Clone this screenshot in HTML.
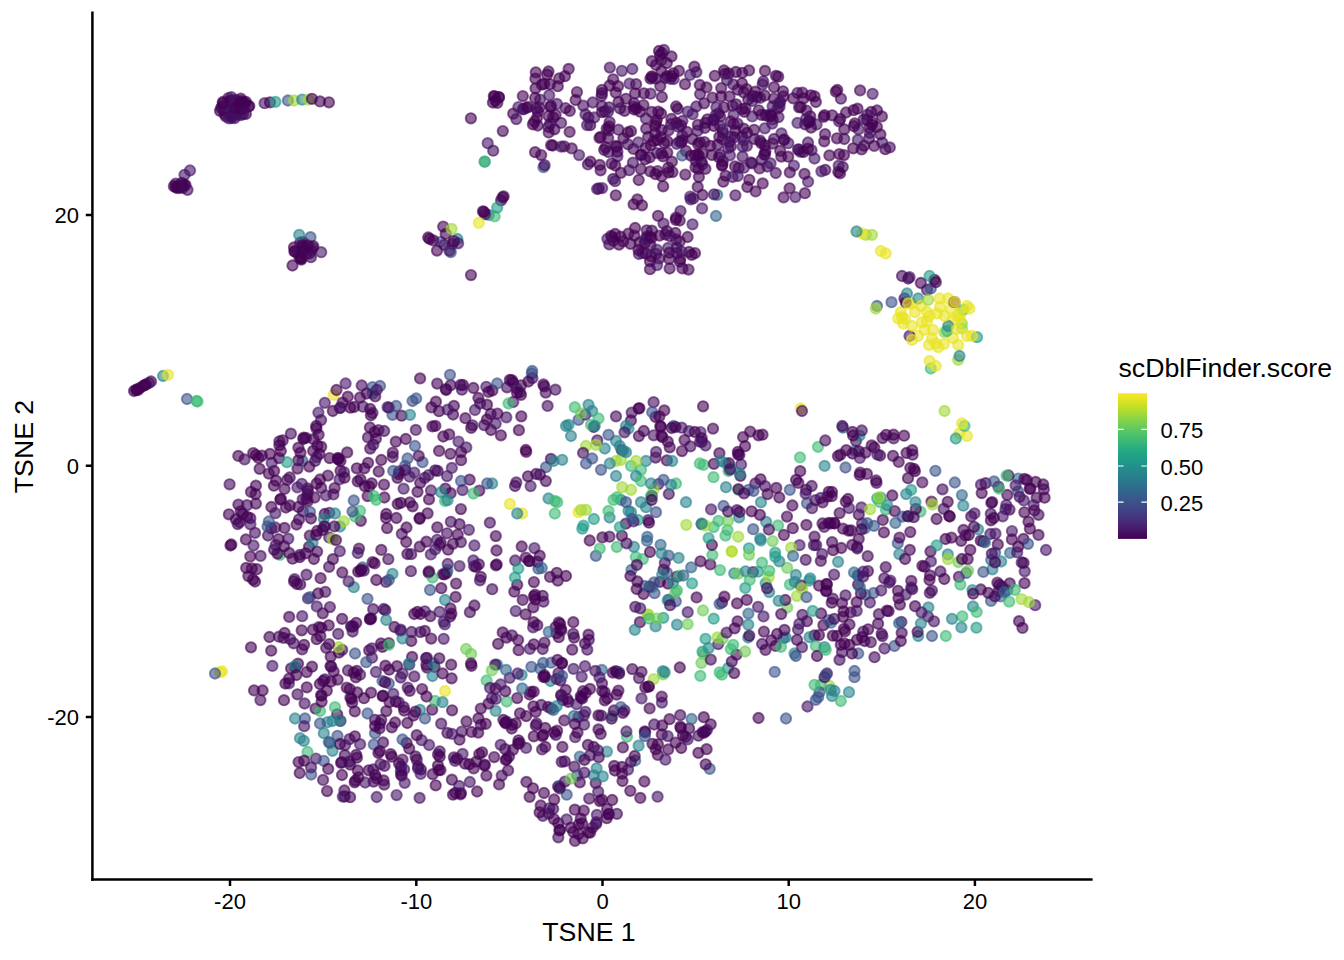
<!DOCTYPE html>
<html><head><meta charset="utf-8"><title>TSNE scDblFinder.score</title>
<style>html,body{margin:0;padding:0;background:#fff;} svg{display:block;}</style></head>
<body>
<svg width="1344" height="960" viewBox="0 0 1344 960">
<defs><linearGradient id="vg" x1="0" y1="0" x2="0" y2="1"><stop offset="0.000" stop-color="#FDE725"/><stop offset="0.100" stop-color="#BDDF26"/><stop offset="0.200" stop-color="#7AD151"/><stop offset="0.300" stop-color="#44BF70"/><stop offset="0.400" stop-color="#22A884"/><stop offset="0.500" stop-color="#21918C"/><stop offset="0.600" stop-color="#2A788E"/><stop offset="0.700" stop-color="#355F8D"/><stop offset="0.800" stop-color="#414487"/><stop offset="0.900" stop-color="#482475"/><stop offset="1.000" stop-color="#440154"/></linearGradient></defs>
<rect width="1344" height="960" fill="#ffffff"/>
<g fill-opacity="0.6" stroke-opacity="0.6" stroke-width="1.89">
<circle cx="305.6" cy="553.3" r="5.2" fill="#440154" stroke="#440154"/>
<circle cx="545.3" cy="746.9" r="5.2" fill="#440154" stroke="#440154"/>
<circle cx="673.7" cy="79.0" r="5.2" fill="#461668" stroke="#461668"/>
<circle cx="600.7" cy="733.9" r="5.2" fill="#440154" stroke="#440154"/>
<circle cx="635.2" cy="760.5" r="5.2" fill="#32668d" stroke="#32668d"/>
<circle cx="765.0" cy="70.9" r="5.2" fill="#440154" stroke="#440154"/>
<circle cx="700.5" cy="432.1" r="5.2" fill="#461668" stroke="#461668"/>
<circle cx="522.7" cy="599.9" r="5.2" fill="#440154" stroke="#440154"/>
<circle cx="372.5" cy="387.2" r="5.2" fill="#3b528a" stroke="#3b528a"/>
<circle cx="292.6" cy="558.7" r="5.2" fill="#440154" stroke="#440154"/>
<circle cx="962.0" cy="328.5" r="5.2" fill="#a2d937" stroke="#a2d937"/>
<circle cx="622.2" cy="773.7" r="5.2" fill="#440154" stroke="#440154"/>
<circle cx="474.4" cy="605.5" r="5.2" fill="#440154" stroke="#440154"/>
<circle cx="778.5" cy="117.1" r="5.2" fill="#450c5e" stroke="#450c5e"/>
<circle cx="985.6" cy="483.2" r="5.2" fill="#440154" stroke="#440154"/>
<circle cx="392.8" cy="452.6" r="5.2" fill="#440154" stroke="#440154"/>
<circle cx="284.5" cy="488.9" r="5.2" fill="#440154" stroke="#440154"/>
<circle cx="645.9" cy="118.6" r="5.2" fill="#461668" stroke="#461668"/>
<circle cx="606.9" cy="751.6" r="5.2" fill="#26848d" stroke="#26848d"/>
<circle cx="561.2" cy="694.9" r="5.2" fill="#440154" stroke="#440154"/>
<circle cx="548.4" cy="127.0" r="5.2" fill="#440154" stroke="#440154"/>
<circle cx="806.9" cy="621.2" r="5.2" fill="#440154" stroke="#440154"/>
<circle cx="601.8" cy="669.9" r="5.2" fill="#32668d" stroke="#32668d"/>
<circle cx="439.0" cy="411.2" r="5.2" fill="#440154" stroke="#440154"/>
<circle cx="652.5" cy="743.8" r="5.2" fill="#440154" stroke="#440154"/>
<circle cx="384.5" cy="765.9" r="5.2" fill="#440154" stroke="#440154"/>
<circle cx="312.0" cy="666.7" r="5.2" fill="#440154" stroke="#440154"/>
<circle cx="1023.8" cy="500.4" r="5.2" fill="#461668" stroke="#461668"/>
<circle cx="656.8" cy="120.0" r="5.2" fill="#440154" stroke="#440154"/>
<circle cx="593.8" cy="747.0" r="5.2" fill="#440154" stroke="#440154"/>
<circle cx="450.6" cy="493.2" r="5.2" fill="#440154" stroke="#440154"/>
<circle cx="924.6" cy="566.7" r="5.2" fill="#440154" stroke="#440154"/>
<circle cx="325.0" cy="526.5" r="5.2" fill="#26848d" stroke="#26848d"/>
<circle cx="407.4" cy="554.0" r="5.2" fill="#440154" stroke="#440154"/>
<circle cx="953.0" cy="338.0" r="5.2" fill="#eae525" stroke="#eae525"/>
<circle cx="760.8" cy="540.4" r="5.2" fill="#26848d" stroke="#26848d"/>
<circle cx="409.3" cy="664.6" r="5.2" fill="#461668" stroke="#461668"/>
<circle cx="375.0" cy="733.2" r="5.2" fill="#3b528a" stroke="#3b528a"/>
<circle cx="760.5" cy="479.3" r="5.2" fill="#440154" stroke="#440154"/>
<circle cx="831.0" cy="622.7" r="5.2" fill="#32668d" stroke="#32668d"/>
<circle cx="658.4" cy="484.1" r="5.2" fill="#461668" stroke="#461668"/>
<circle cx="501.1" cy="200.3" r="5.2" fill="#440154" stroke="#440154"/>
<circle cx="488.7" cy="214.9" r="5.2" fill="#32668d" stroke="#32668d"/>
<circle cx="271.4" cy="507.0" r="5.2" fill="#440154" stroke="#440154"/>
<circle cx="753.0" cy="572.1" r="5.2" fill="#440154" stroke="#440154"/>
<circle cx="307.4" cy="494.5" r="5.2" fill="#450c5e" stroke="#450c5e"/>
<circle cx="820.8" cy="560.9" r="5.2" fill="#440154" stroke="#440154"/>
<circle cx="807.0" cy="503.3" r="5.2" fill="#3b528a" stroke="#3b528a"/>
<circle cx="182.6" cy="185.7" r="5.2" fill="#450c5e" stroke="#450c5e"/>
<circle cx="1007.3" cy="590.3" r="5.2" fill="#3b528a" stroke="#3b528a"/>
<circle cx="338.9" cy="652.6" r="5.2" fill="#440154" stroke="#440154"/>
<circle cx="301.3" cy="259.6" r="5.2" fill="#440154" stroke="#440154"/>
<circle cx="390.7" cy="754.2" r="5.2" fill="#440154" stroke="#440154"/>
<circle cx="872.3" cy="122.2" r="5.2" fill="#440154" stroke="#440154"/>
<circle cx="663.3" cy="617.8" r="5.2" fill="#229c88" stroke="#229c88"/>
<circle cx="705.5" cy="638.8" r="5.2" fill="#229c88" stroke="#229c88"/>
<circle cx="540.2" cy="668.7" r="5.2" fill="#32668d" stroke="#32668d"/>
<circle cx="359.0" cy="548.6" r="5.2" fill="#440154" stroke="#440154"/>
<circle cx="409.6" cy="476.7" r="5.2" fill="#461668" stroke="#461668"/>
<circle cx="616.9" cy="671.9" r="5.2" fill="#440154" stroke="#440154"/>
<circle cx="369.9" cy="618.9" r="5.2" fill="#440154" stroke="#440154"/>
<circle cx="231.3" cy="116.5" r="5.2" fill="#440154" stroke="#440154"/>
<circle cx="529.5" cy="561.1" r="5.2" fill="#440154" stroke="#440154"/>
<circle cx="369.3" cy="486.4" r="5.2" fill="#440154" stroke="#440154"/>
<circle cx="247.2" cy="516.8" r="5.2" fill="#440154" stroke="#440154"/>
<circle cx="751.6" cy="511.3" r="5.2" fill="#440154" stroke="#440154"/>
<circle cx="615.7" cy="146.0" r="5.2" fill="#440154" stroke="#440154"/>
<circle cx="443.2" cy="226.6" r="5.2" fill="#440154" stroke="#440154"/>
<circle cx="520.0" cy="713.3" r="5.2" fill="#440154" stroke="#440154"/>
<circle cx="745.5" cy="108.3" r="5.2" fill="#461668" stroke="#461668"/>
<circle cx="665.4" cy="234.5" r="5.2" fill="#450c5e" stroke="#450c5e"/>
<circle cx="962.0" cy="323.5" r="5.2" fill="#a2d937" stroke="#a2d937"/>
<circle cx="837.0" cy="636.0" r="5.2" fill="#440154" stroke="#440154"/>
<circle cx="832.0" cy="696.0" r="5.2" fill="#26848d" stroke="#26848d"/>
<circle cx="478.2" cy="732.6" r="5.2" fill="#440154" stroke="#440154"/>
<circle cx="680.4" cy="726.7" r="5.2" fill="#440154" stroke="#440154"/>
<circle cx="595.3" cy="670.9" r="5.2" fill="#450c5e" stroke="#450c5e"/>
<circle cx="175.7" cy="187.5" r="5.2" fill="#440154" stroke="#440154"/>
<circle cx="615.6" cy="671.1" r="5.2" fill="#440154" stroke="#440154"/>
<circle cx="233.9" cy="101.1" r="5.2" fill="#461668" stroke="#461668"/>
<circle cx="360.8" cy="520.8" r="5.2" fill="#440154" stroke="#440154"/>
<circle cx="837.3" cy="90.0" r="5.2" fill="#440154" stroke="#440154"/>
<circle cx="1007.3" cy="494.9" r="5.2" fill="#440154" stroke="#440154"/>
<circle cx="432.7" cy="774.2" r="5.2" fill="#440154" stroke="#440154"/>
<circle cx="318.4" cy="412.6" r="5.2" fill="#461668" stroke="#461668"/>
<circle cx="897.8" cy="543.2" r="5.2" fill="#3b528a" stroke="#3b528a"/>
<circle cx="912.0" cy="303.5" r="5.2" fill="#eae525" stroke="#eae525"/>
<circle cx="375.9" cy="438.7" r="5.2" fill="#440154" stroke="#440154"/>
<circle cx="184.2" cy="184.6" r="5.2" fill="#440154" stroke="#440154"/>
<circle cx="858.8" cy="514.7" r="5.2" fill="#440154" stroke="#440154"/>
<circle cx="512.9" cy="749.9" r="5.2" fill="#440154" stroke="#440154"/>
<circle cx="826.5" cy="583.9" r="5.2" fill="#440154" stroke="#440154"/>
<circle cx="503.4" cy="719.8" r="5.2" fill="#440154" stroke="#440154"/>
<circle cx="313.2" cy="450.9" r="5.2" fill="#440154" stroke="#440154"/>
<circle cx="882.8" cy="519.9" r="5.2" fill="#440154" stroke="#440154"/>
<circle cx="930.8" cy="368.5" r="5.2" fill="#3dba74" stroke="#3dba74"/>
<circle cx="540.7" cy="805.5" r="5.2" fill="#440154" stroke="#440154"/>
<circle cx="877.0" cy="306.0" r="5.2" fill="#3b528a" stroke="#3b528a"/>
<circle cx="958.4" cy="562.1" r="5.2" fill="#6fcd57" stroke="#6fcd57"/>
<circle cx="761.5" cy="114.8" r="5.2" fill="#440154" stroke="#440154"/>
<circle cx="643.5" cy="105.1" r="5.2" fill="#440154" stroke="#440154"/>
<circle cx="445.0" cy="501.0" r="5.2" fill="#3dba74" stroke="#3dba74"/>
<circle cx="544.5" cy="642.6" r="5.2" fill="#440154" stroke="#440154"/>
<circle cx="434.6" cy="667.0" r="5.2" fill="#440154" stroke="#440154"/>
<circle cx="534.4" cy="548.1" r="5.2" fill="#461668" stroke="#461668"/>
<circle cx="844.5" cy="643.5" r="5.2" fill="#440154" stroke="#440154"/>
<circle cx="697.9" cy="124.8" r="5.2" fill="#440154" stroke="#440154"/>
<circle cx="869.7" cy="132.9" r="5.2" fill="#461668" stroke="#461668"/>
<circle cx="676.8" cy="247.7" r="5.2" fill="#450c5e" stroke="#450c5e"/>
<circle cx="561.1" cy="122.9" r="5.2" fill="#450c5e" stroke="#450c5e"/>
<circle cx="945.8" cy="636.0" r="5.2" fill="#3dba74" stroke="#3dba74"/>
<circle cx="652.3" cy="587.1" r="5.2" fill="#229c88" stroke="#229c88"/>
<circle cx="598.7" cy="757.2" r="5.2" fill="#440154" stroke="#440154"/>
<circle cx="505.7" cy="760.0" r="5.2" fill="#450c5e" stroke="#450c5e"/>
<circle cx="582.7" cy="838.3" r="5.2" fill="#440154" stroke="#440154"/>
<circle cx="857.0" cy="639.8" r="5.2" fill="#440154" stroke="#440154"/>
<circle cx="719.6" cy="672.3" r="5.2" fill="#3dba74" stroke="#3dba74"/>
<circle cx="888.6" cy="611.2" r="5.2" fill="#440154" stroke="#440154"/>
<circle cx="471.0" cy="275.1" r="5.2" fill="#440154" stroke="#440154"/>
<circle cx="992.4" cy="569.3" r="5.2" fill="#26848d" stroke="#26848d"/>
<circle cx="581.3" cy="697.7" r="5.2" fill="#461668" stroke="#461668"/>
<circle cx="324.7" cy="514.0" r="5.2" fill="#440154" stroke="#440154"/>
<circle cx="673.5" cy="426.0" r="5.2" fill="#3b528a" stroke="#3b528a"/>
<circle cx="300.3" cy="242.7" r="5.2" fill="#440154" stroke="#440154"/>
<circle cx="713.7" cy="527.1" r="5.2" fill="#3dba74" stroke="#3dba74"/>
<circle cx="963.3" cy="505.7" r="5.2" fill="#26848d" stroke="#26848d"/>
<circle cx="931.5" cy="501.6" r="5.2" fill="#440154" stroke="#440154"/>
<circle cx="814.5" cy="635.4" r="5.2" fill="#440154" stroke="#440154"/>
<circle cx="638.6" cy="408.7" r="5.2" fill="#440154" stroke="#440154"/>
<circle cx="630.3" cy="790.8" r="5.2" fill="#440154" stroke="#440154"/>
<circle cx="901.7" cy="632.9" r="5.2" fill="#440154" stroke="#440154"/>
<circle cx="355.4" cy="780.6" r="5.2" fill="#440154" stroke="#440154"/>
<circle cx="669.6" cy="268.5" r="5.2" fill="#440154" stroke="#440154"/>
<circle cx="271.3" cy="528.4" r="5.2" fill="#440154" stroke="#440154"/>
<circle cx="1046.0" cy="550.0" r="5.2" fill="#461668" stroke="#461668"/>
<circle cx="515.2" cy="560.5" r="5.2" fill="#450c5e" stroke="#450c5e"/>
<circle cx="315.9" cy="758.6" r="5.2" fill="#461668" stroke="#461668"/>
<circle cx="1000.8" cy="596.4" r="5.2" fill="#32668d" stroke="#32668d"/>
<circle cx="340.5" cy="470.8" r="5.2" fill="#440154" stroke="#440154"/>
<circle cx="355.0" cy="516.5" r="5.2" fill="#3dba74" stroke="#3dba74"/>
<circle cx="280.0" cy="554.8" r="5.2" fill="#3dba74" stroke="#3dba74"/>
<circle cx="585.0" cy="643.5" r="5.2" fill="#440154" stroke="#440154"/>
<circle cx="578.5" cy="834.1" r="5.2" fill="#440154" stroke="#440154"/>
<circle cx="740.4" cy="475.8" r="5.2" fill="#440154" stroke="#440154"/>
<circle cx="356.8" cy="468.3" r="5.2" fill="#440154" stroke="#440154"/>
<circle cx="295.0" cy="251.3" r="5.2" fill="#440154" stroke="#440154"/>
<circle cx="703.5" cy="464.8" r="5.2" fill="#3dba74" stroke="#3dba74"/>
<circle cx="592.7" cy="102.5" r="5.2" fill="#450c5e" stroke="#450c5e"/>
<circle cx="585.5" cy="114.4" r="5.2" fill="#461668" stroke="#461668"/>
<circle cx="748.4" cy="613.6" r="5.2" fill="#32668d" stroke="#32668d"/>
<circle cx="709.7" cy="768.8" r="5.2" fill="#3b528a" stroke="#3b528a"/>
<circle cx="899.3" cy="554.1" r="5.2" fill="#26848d" stroke="#26848d"/>
<circle cx="392.7" cy="457.0" r="5.2" fill="#450c5e" stroke="#450c5e"/>
<circle cx="718.9" cy="157.3" r="5.2" fill="#440154" stroke="#440154"/>
<circle cx="991.3" cy="502.9" r="5.2" fill="#450c5e" stroke="#450c5e"/>
<circle cx="323.1" cy="779.9" r="5.2" fill="#450c5e" stroke="#450c5e"/>
<circle cx="321.2" cy="446.7" r="5.2" fill="#440154" stroke="#440154"/>
<circle cx="235.7" cy="104.8" r="5.2" fill="#440154" stroke="#440154"/>
<circle cx="521.0" cy="385.3" r="5.2" fill="#450c5e" stroke="#450c5e"/>
<circle cx="668.9" cy="599.6" r="5.2" fill="#3b528a" stroke="#3b528a"/>
<circle cx="592.5" cy="827.6" r="5.2" fill="#461668" stroke="#461668"/>
<circle cx="630.4" cy="243.8" r="5.2" fill="#440154" stroke="#440154"/>
<circle cx="621.0" cy="499.8" r="5.2" fill="#26848d" stroke="#26848d"/>
<circle cx="506.3" cy="417.3" r="5.2" fill="#461668" stroke="#461668"/>
<circle cx="583.3" cy="105.6" r="5.2" fill="#450c5e" stroke="#450c5e"/>
<circle cx="780.2" cy="102.1" r="5.2" fill="#440154" stroke="#440154"/>
<circle cx="389.5" cy="702.1" r="5.2" fill="#440154" stroke="#440154"/>
<circle cx="360.1" cy="744.2" r="5.2" fill="#461668" stroke="#461668"/>
<circle cx="703.1" cy="406.3" r="5.2" fill="#440154" stroke="#440154"/>
<circle cx="307.6" cy="501.2" r="5.2" fill="#440154" stroke="#440154"/>
<circle cx="376.3" cy="580.0" r="5.2" fill="#440154" stroke="#440154"/>
<circle cx="944.5" cy="332.2" r="5.2" fill="#a2d937" stroke="#a2d937"/>
<circle cx="682.4" cy="121.0" r="5.2" fill="#450c5e" stroke="#450c5e"/>
<circle cx="1022.5" cy="627.9" r="5.2" fill="#440154" stroke="#440154"/>
<circle cx="738.1" cy="454.3" r="5.2" fill="#440154" stroke="#440154"/>
<circle cx="555.8" cy="734.8" r="5.2" fill="#450c5e" stroke="#450c5e"/>
<circle cx="548.1" cy="706.9" r="5.2" fill="#440154" stroke="#440154"/>
<circle cx="1044.6" cy="497.7" r="5.2" fill="#440154" stroke="#440154"/>
<circle cx="394.5" cy="627.0" r="5.2" fill="#440154" stroke="#440154"/>
<circle cx="450.7" cy="385.2" r="5.2" fill="#440154" stroke="#440154"/>
<circle cx="621.9" cy="535.8" r="5.2" fill="#440154" stroke="#440154"/>
<circle cx="533.9" cy="582.1" r="5.2" fill="#440154" stroke="#440154"/>
<circle cx="583.5" cy="525.6" r="5.2" fill="#229c88" stroke="#229c88"/>
<circle cx="631.5" cy="569.9" r="5.2" fill="#32668d" stroke="#32668d"/>
<circle cx="808.0" cy="142.5" r="5.2" fill="#450c5e" stroke="#450c5e"/>
<circle cx="297.5" cy="468.6" r="5.2" fill="#440154" stroke="#440154"/>
<circle cx="861.6" cy="149.4" r="5.2" fill="#440154" stroke="#440154"/>
<circle cx="495.8" cy="536.1" r="5.2" fill="#440154" stroke="#440154"/>
<circle cx="867.7" cy="556.2" r="5.2" fill="#450c5e" stroke="#450c5e"/>
<circle cx="745.1" cy="446.2" r="5.2" fill="#440154" stroke="#440154"/>
<circle cx="908.2" cy="278.5" r="5.2" fill="#440154" stroke="#440154"/>
<circle cx="704.1" cy="103.3" r="5.2" fill="#440154" stroke="#440154"/>
<circle cx="676.1" cy="239.5" r="5.2" fill="#450c5e" stroke="#450c5e"/>
<circle cx="385.4" cy="665.7" r="5.2" fill="#440154" stroke="#440154"/>
<circle cx="865.3" cy="594.7" r="5.2" fill="#32668d" stroke="#32668d"/>
<circle cx="595.8" cy="555.8" r="5.2" fill="#3b528a" stroke="#3b528a"/>
<circle cx="575.2" cy="737.2" r="5.2" fill="#461668" stroke="#461668"/>
<circle cx="539.7" cy="555.7" r="5.2" fill="#440154" stroke="#440154"/>
<circle cx="676.9" cy="576.7" r="5.2" fill="#440154" stroke="#440154"/>
<circle cx="848.0" cy="499.0" r="5.2" fill="#440154" stroke="#440154"/>
<circle cx="695.0" cy="253.1" r="5.2" fill="#440154" stroke="#440154"/>
<circle cx="543.4" cy="601.7" r="5.2" fill="#450c5e" stroke="#450c5e"/>
<circle cx="734.2" cy="573.3" r="5.2" fill="#26848d" stroke="#26848d"/>
<circle cx="720.0" cy="570.1" r="5.2" fill="#3dba74" stroke="#3dba74"/>
<circle cx="635.8" cy="557.1" r="5.2" fill="#3dba74" stroke="#3dba74"/>
<circle cx="648.2" cy="520.2" r="5.2" fill="#450c5e" stroke="#450c5e"/>
<circle cx="537.7" cy="125.5" r="5.2" fill="#440154" stroke="#440154"/>
<circle cx="735.1" cy="166.4" r="5.2" fill="#440154" stroke="#440154"/>
<circle cx="564.9" cy="76.2" r="5.2" fill="#440154" stroke="#440154"/>
<circle cx="228.4" cy="98.1" r="5.2" fill="#450c5e" stroke="#450c5e"/>
<circle cx="479.3" cy="490.6" r="5.2" fill="#440154" stroke="#440154"/>
<circle cx="643.8" cy="431.0" r="5.2" fill="#440154" stroke="#440154"/>
<circle cx="728.2" cy="147.9" r="5.2" fill="#450c5e" stroke="#450c5e"/>
<circle cx="872.6" cy="93.8" r="5.2" fill="#461668" stroke="#461668"/>
<circle cx="317.2" cy="531.0" r="5.2" fill="#440154" stroke="#440154"/>
<circle cx="224.5" cy="113.9" r="5.2" fill="#450c5e" stroke="#450c5e"/>
<circle cx="338.5" cy="459.3" r="5.2" fill="#440154" stroke="#440154"/>
<circle cx="480.8" cy="576.8" r="5.2" fill="#440154" stroke="#440154"/>
<circle cx="255.9" cy="503.6" r="5.2" fill="#440154" stroke="#440154"/>
<circle cx="566.0" cy="576.0" r="5.2" fill="#440154" stroke="#440154"/>
<circle cx="764.9" cy="145.1" r="5.2" fill="#440154" stroke="#440154"/>
<circle cx="641.5" cy="671.9" r="5.2" fill="#450c5e" stroke="#450c5e"/>
<circle cx="650.3" cy="171.4" r="5.2" fill="#440154" stroke="#440154"/>
<circle cx="855.1" cy="450.6" r="5.2" fill="#26848d" stroke="#26848d"/>
<circle cx="640.3" cy="797.9" r="5.2" fill="#440154" stroke="#440154"/>
<circle cx="586.0" cy="446.0" r="5.2" fill="#a2d937" stroke="#a2d937"/>
<circle cx="340.5" cy="720.8" r="5.2" fill="#450c5e" stroke="#450c5e"/>
<circle cx="302.1" cy="649.4" r="5.2" fill="#440154" stroke="#440154"/>
<circle cx="945.6" cy="539.0" r="5.2" fill="#440154" stroke="#440154"/>
<circle cx="961.2" cy="540.8" r="5.2" fill="#440154" stroke="#440154"/>
<circle cx="967.0" cy="336.0" r="5.2" fill="#eae525" stroke="#eae525"/>
<circle cx="701.5" cy="161.7" r="5.2" fill="#440154" stroke="#440154"/>
<circle cx="316.4" cy="428.3" r="5.2" fill="#440154" stroke="#440154"/>
<circle cx="657.8" cy="754.9" r="5.2" fill="#440154" stroke="#440154"/>
<circle cx="852.4" cy="453.5" r="5.2" fill="#440154" stroke="#440154"/>
<circle cx="857.2" cy="547.0" r="5.2" fill="#461668" stroke="#461668"/>
<circle cx="411.2" cy="554.2" r="5.2" fill="#450c5e" stroke="#450c5e"/>
<circle cx="523.3" cy="109.3" r="5.2" fill="#450c5e" stroke="#450c5e"/>
<circle cx="840.9" cy="98.7" r="5.2" fill="#450c5e" stroke="#450c5e"/>
<circle cx="290.2" cy="639.2" r="5.2" fill="#450c5e" stroke="#450c5e"/>
<circle cx="541.3" cy="705.0" r="5.2" fill="#450c5e" stroke="#450c5e"/>
<circle cx="718.2" cy="644.1" r="5.2" fill="#461668" stroke="#461668"/>
<circle cx="268.0" cy="535.5" r="5.2" fill="#450c5e" stroke="#450c5e"/>
<circle cx="935.4" cy="470.8" r="5.2" fill="#3b528a" stroke="#3b528a"/>
<circle cx="526.1" cy="747.9" r="5.2" fill="#461668" stroke="#461668"/>
<circle cx="832.8" cy="635.7" r="5.2" fill="#440154" stroke="#440154"/>
<circle cx="825.3" cy="169.8" r="5.2" fill="#440154" stroke="#440154"/>
<circle cx="558.5" cy="673.1" r="5.2" fill="#450c5e" stroke="#450c5e"/>
<circle cx="403.8" cy="707.2" r="5.2" fill="#450c5e" stroke="#450c5e"/>
<circle cx="689.0" cy="252.0" r="5.2" fill="#440154" stroke="#440154"/>
<circle cx="406.6" cy="743.0" r="5.2" fill="#440154" stroke="#440154"/>
<circle cx="906.5" cy="453.0" r="5.2" fill="#440154" stroke="#440154"/>
<circle cx="245.9" cy="114.0" r="5.2" fill="#440154" stroke="#440154"/>
<circle cx="647.0" cy="236.7" r="5.2" fill="#440154" stroke="#440154"/>
<circle cx="668.1" cy="247.9" r="5.2" fill="#461668" stroke="#461668"/>
<circle cx="136.0" cy="390.0" r="5.2" fill="#450c5e" stroke="#450c5e"/>
<circle cx="664.3" cy="410.4" r="5.2" fill="#440154" stroke="#440154"/>
<circle cx="823.7" cy="116.9" r="5.2" fill="#440154" stroke="#440154"/>
<circle cx="558.3" cy="823.2" r="5.2" fill="#440154" stroke="#440154"/>
<circle cx="564.7" cy="761.3" r="5.2" fill="#440154" stroke="#440154"/>
<circle cx="431.4" cy="407.4" r="5.2" fill="#440154" stroke="#440154"/>
<circle cx="701.9" cy="441.8" r="5.2" fill="#440154" stroke="#440154"/>
<circle cx="980.8" cy="589.5" r="5.2" fill="#440154" stroke="#440154"/>
<circle cx="655.2" cy="133.7" r="5.2" fill="#440154" stroke="#440154"/>
<circle cx="696.4" cy="72.1" r="5.2" fill="#450c5e" stroke="#450c5e"/>
<circle cx="356.2" cy="754.8" r="5.2" fill="#440154" stroke="#440154"/>
<circle cx="835.8" cy="91.6" r="5.2" fill="#440154" stroke="#440154"/>
<circle cx="617.2" cy="497.2" r="5.2" fill="#3dba74" stroke="#3dba74"/>
<circle cx="748.5" cy="489.8" r="5.2" fill="#3b528a" stroke="#3b528a"/>
<circle cx="653.5" cy="489.8" r="5.2" fill="#a2d937" stroke="#a2d937"/>
<circle cx="445.4" cy="488.7" r="5.2" fill="#440154" stroke="#440154"/>
<circle cx="602.0" cy="112.2" r="5.2" fill="#440154" stroke="#440154"/>
<circle cx="360.1" cy="674.7" r="5.2" fill="#461668" stroke="#461668"/>
<circle cx="371.2" cy="618.3" r="5.2" fill="#440154" stroke="#440154"/>
<circle cx="280.8" cy="451.0" r="5.2" fill="#440154" stroke="#440154"/>
<circle cx="885.7" cy="567.1" r="5.2" fill="#440154" stroke="#440154"/>
<circle cx="676.3" cy="123.0" r="5.2" fill="#440154" stroke="#440154"/>
<circle cx="526.5" cy="107.9" r="5.2" fill="#440154" stroke="#440154"/>
<circle cx="930.5" cy="551.5" r="5.2" fill="#440154" stroke="#440154"/>
<circle cx="631.7" cy="412.6" r="5.2" fill="#450c5e" stroke="#450c5e"/>
<circle cx="858.2" cy="653.5" r="5.2" fill="#3b528a" stroke="#3b528a"/>
<circle cx="899.5" cy="537.6" r="5.2" fill="#440154" stroke="#440154"/>
<circle cx="283.5" cy="637.9" r="5.2" fill="#440154" stroke="#440154"/>
<circle cx="737.5" cy="123.6" r="5.2" fill="#450c5e" stroke="#450c5e"/>
<circle cx="558.8" cy="637.2" r="5.2" fill="#440154" stroke="#440154"/>
<circle cx="806.2" cy="489.8" r="5.2" fill="#440154" stroke="#440154"/>
<circle cx="1011.9" cy="531.1" r="5.2" fill="#461668" stroke="#461668"/>
<circle cx="634.1" cy="106.6" r="5.2" fill="#450c5e" stroke="#450c5e"/>
<circle cx="530.6" cy="486.1" r="5.2" fill="#461668" stroke="#461668"/>
<circle cx="951.5" cy="537.6" r="5.2" fill="#440154" stroke="#440154"/>
<circle cx="770.6" cy="114.5" r="5.2" fill="#440154" stroke="#440154"/>
<circle cx="808.5" cy="122.0" r="5.2" fill="#440154" stroke="#440154"/>
<circle cx="495.4" cy="100.7" r="5.2" fill="#440154" stroke="#440154"/>
<circle cx="860.1" cy="90.4" r="5.2" fill="#440154" stroke="#440154"/>
<circle cx="521.0" cy="394.9" r="5.2" fill="#440154" stroke="#440154"/>
<circle cx="628.4" cy="233.6" r="5.2" fill="#440154" stroke="#440154"/>
<circle cx="938.2" cy="347.2" r="5.2" fill="#eae525" stroke="#eae525"/>
<circle cx="646.2" cy="128.7" r="5.2" fill="#440154" stroke="#440154"/>
<circle cx="647.4" cy="614.6" r="5.2" fill="#a2d937" stroke="#a2d937"/>
<circle cx="1021.5" cy="599.1" r="5.2" fill="#a2d937" stroke="#a2d937"/>
<circle cx="642.4" cy="252.9" r="5.2" fill="#440154" stroke="#440154"/>
<circle cx="932.0" cy="636.0" r="5.2" fill="#3b528a" stroke="#3b528a"/>
<circle cx="798.9" cy="149.3" r="5.2" fill="#440154" stroke="#440154"/>
<circle cx="840.8" cy="701.0" r="5.2" fill="#3dba74" stroke="#3dba74"/>
<circle cx="228.4" cy="110.4" r="5.2" fill="#450c5e" stroke="#450c5e"/>
<circle cx="418.1" cy="768.6" r="5.2" fill="#450c5e" stroke="#450c5e"/>
<circle cx="236.0" cy="100.8" r="5.2" fill="#440154" stroke="#440154"/>
<circle cx="561.7" cy="761.8" r="5.2" fill="#450c5e" stroke="#450c5e"/>
<circle cx="939.5" cy="298.5" r="5.2" fill="#eae525" stroke="#eae525"/>
<circle cx="579.1" cy="155.1" r="5.2" fill="#461668" stroke="#461668"/>
<circle cx="146.0" cy="384.5" r="5.2" fill="#440154" stroke="#440154"/>
<circle cx="738.5" cy="489.8" r="5.2" fill="#3dba74" stroke="#3dba74"/>
<circle cx="961.9" cy="495.1" r="5.2" fill="#32668d" stroke="#32668d"/>
<circle cx="962.3" cy="616.3" r="5.2" fill="#3dba74" stroke="#3dba74"/>
<circle cx="401.8" cy="533.9" r="5.2" fill="#450c5e" stroke="#450c5e"/>
<circle cx="655.1" cy="125.9" r="5.2" fill="#440154" stroke="#440154"/>
<circle cx="843.6" cy="611.3" r="5.2" fill="#440154" stroke="#440154"/>
<circle cx="748.2" cy="637.5" r="5.2" fill="#26848d" stroke="#26848d"/>
<circle cx="1010.1" cy="552.9" r="5.2" fill="#32668d" stroke="#32668d"/>
<circle cx="307.5" cy="488.5" r="5.2" fill="#440154" stroke="#440154"/>
<circle cx="428.6" cy="572.6" r="5.2" fill="#440154" stroke="#440154"/>
<circle cx="362.5" cy="567.5" r="5.2" fill="#3b528a" stroke="#3b528a"/>
<circle cx="239.8" cy="108.4" r="5.2" fill="#440154" stroke="#440154"/>
<circle cx="635.3" cy="606.8" r="5.2" fill="#450c5e" stroke="#450c5e"/>
<circle cx="668.5" cy="172.5" r="5.2" fill="#440154" stroke="#440154"/>
<circle cx="573.5" cy="668.8" r="5.2" fill="#461668" stroke="#461668"/>
<circle cx="552.9" cy="145.5" r="5.2" fill="#440154" stroke="#440154"/>
<circle cx="648.8" cy="686.4" r="5.2" fill="#440154" stroke="#440154"/>
<circle cx="349.5" cy="739.2" r="5.2" fill="#450c5e" stroke="#450c5e"/>
<circle cx="304.6" cy="703.5" r="5.2" fill="#450c5e" stroke="#450c5e"/>
<circle cx="858.7" cy="538.9" r="5.2" fill="#440154" stroke="#440154"/>
<circle cx="763.9" cy="631.6" r="5.2" fill="#440154" stroke="#440154"/>
<circle cx="596.9" cy="814.8" r="5.2" fill="#461668" stroke="#461668"/>
<circle cx="502.6" cy="197.4" r="5.2" fill="#450c5e" stroke="#450c5e"/>
<circle cx="557.8" cy="580.6" r="5.2" fill="#440154" stroke="#440154"/>
<circle cx="353.4" cy="626.5" r="5.2" fill="#440154" stroke="#440154"/>
<circle cx="369.2" cy="650.3" r="5.2" fill="#440154" stroke="#440154"/>
<circle cx="990.9" cy="520.3" r="5.2" fill="#440154" stroke="#440154"/>
<circle cx="783.4" cy="638.2" r="5.2" fill="#3b528a" stroke="#3b528a"/>
<circle cx="734.6" cy="628.3" r="5.2" fill="#440154" stroke="#440154"/>
<circle cx="599.7" cy="164.9" r="5.2" fill="#440154" stroke="#440154"/>
<circle cx="539.5" cy="107.5" r="5.2" fill="#440154" stroke="#440154"/>
<circle cx="644.9" cy="242.8" r="5.2" fill="#440154" stroke="#440154"/>
<circle cx="662.9" cy="156.3" r="5.2" fill="#440154" stroke="#440154"/>
<circle cx="911.1" cy="489.9" r="5.2" fill="#229c88" stroke="#229c88"/>
<circle cx="309.6" cy="253.3" r="5.2" fill="#440154" stroke="#440154"/>
<circle cx="616.0" cy="441.0" r="5.2" fill="#26848d" stroke="#26848d"/>
<circle cx="737.7" cy="89.7" r="5.2" fill="#440154" stroke="#440154"/>
<circle cx="772.7" cy="119.4" r="5.2" fill="#440154" stroke="#440154"/>
<circle cx="799.1" cy="107.3" r="5.2" fill="#440154" stroke="#440154"/>
<circle cx="340.0" cy="526.5" r="5.2" fill="#26848d" stroke="#26848d"/>
<circle cx="650.5" cy="245.4" r="5.2" fill="#440154" stroke="#440154"/>
<circle cx="927.0" cy="321.0" r="5.2" fill="#eae525" stroke="#eae525"/>
<circle cx="842.1" cy="603.1" r="5.2" fill="#440154" stroke="#440154"/>
<circle cx="733.2" cy="84.4" r="5.2" fill="#450c5e" stroke="#450c5e"/>
<circle cx="409.7" cy="690.8" r="5.2" fill="#440154" stroke="#440154"/>
<circle cx="557.8" cy="86.2" r="5.2" fill="#440154" stroke="#440154"/>
<circle cx="289.7" cy="477.4" r="5.2" fill="#440154" stroke="#440154"/>
<circle cx="849.0" cy="508.1" r="5.2" fill="#461668" stroke="#461668"/>
<circle cx="800.5" cy="151.9" r="5.2" fill="#450c5e" stroke="#450c5e"/>
<circle cx="972.4" cy="590.1" r="5.2" fill="#26848d" stroke="#26848d"/>
<circle cx="722.8" cy="161.2" r="5.2" fill="#450c5e" stroke="#450c5e"/>
<circle cx="558.3" cy="837.3" r="5.2" fill="#450c5e" stroke="#450c5e"/>
<circle cx="600.7" cy="136.9" r="5.2" fill="#440154" stroke="#440154"/>
<circle cx="456.1" cy="583.6" r="5.2" fill="#440154" stroke="#440154"/>
<circle cx="748.9" cy="548.3" r="5.2" fill="#229c88" stroke="#229c88"/>
<circle cx="852.0" cy="653.5" r="5.2" fill="#440154" stroke="#440154"/>
<circle cx="632.9" cy="162.7" r="5.2" fill="#450c5e" stroke="#450c5e"/>
<circle cx="745.3" cy="587.9" r="5.2" fill="#229c88" stroke="#229c88"/>
<circle cx="518.1" cy="640.1" r="5.2" fill="#440154" stroke="#440154"/>
<circle cx="380.5" cy="764.2" r="5.2" fill="#461668" stroke="#461668"/>
<circle cx="348.0" cy="670.5" r="5.2" fill="#450c5e" stroke="#450c5e"/>
<circle cx="812.0" cy="508.2" r="5.2" fill="#461668" stroke="#461668"/>
<circle cx="713.9" cy="463.8" r="5.2" fill="#440154" stroke="#440154"/>
<circle cx="1023.5" cy="538.9" r="5.2" fill="#440154" stroke="#440154"/>
<circle cx="943.7" cy="508.8" r="5.2" fill="#461668" stroke="#461668"/>
<circle cx="655.6" cy="457.6" r="5.2" fill="#440154" stroke="#440154"/>
<circle cx="735.9" cy="72.0" r="5.2" fill="#440154" stroke="#440154"/>
<circle cx="451.6" cy="678.3" r="5.2" fill="#440154" stroke="#440154"/>
<circle cx="339.5" cy="479.4" r="5.2" fill="#461668" stroke="#461668"/>
<circle cx="682.2" cy="140.3" r="5.2" fill="#440154" stroke="#440154"/>
<circle cx="180.2" cy="187.1" r="5.2" fill="#450c5e" stroke="#450c5e"/>
<circle cx="347.8" cy="396.7" r="5.2" fill="#440154" stroke="#440154"/>
<circle cx="934.5" cy="279.8" r="5.2" fill="#440154" stroke="#440154"/>
<circle cx="294.0" cy="247.4" r="5.2" fill="#440154" stroke="#440154"/>
<circle cx="607.3" cy="698.2" r="5.2" fill="#440154" stroke="#440154"/>
<circle cx="316.7" cy="457.0" r="5.2" fill="#461668" stroke="#461668"/>
<circle cx="419.6" cy="797.9" r="5.2" fill="#450c5e" stroke="#450c5e"/>
<circle cx="486.4" cy="775.6" r="5.2" fill="#440154" stroke="#440154"/>
<circle cx="435.4" cy="425.9" r="5.2" fill="#440154" stroke="#440154"/>
<circle cx="609.6" cy="517.5" r="5.2" fill="#26848d" stroke="#26848d"/>
<circle cx="562.0" cy="662.8" r="5.2" fill="#440154" stroke="#440154"/>
<circle cx="550.4" cy="681.0" r="5.2" fill="#26848d" stroke="#26848d"/>
<circle cx="566.7" cy="819.4" r="5.2" fill="#461668" stroke="#461668"/>
<circle cx="622.2" cy="487.2" r="5.2" fill="#a2d937" stroke="#a2d937"/>
<circle cx="912.6" cy="454.7" r="5.2" fill="#450c5e" stroke="#450c5e"/>
<circle cx="608.5" cy="511.0" r="5.2" fill="#3dba74" stroke="#3dba74"/>
<circle cx="760.0" cy="140.7" r="5.2" fill="#440154" stroke="#440154"/>
<circle cx="775.6" cy="645.9" r="5.2" fill="#440154" stroke="#440154"/>
<circle cx="681.2" cy="748.0" r="5.2" fill="#440154" stroke="#440154"/>
<circle cx="342.2" cy="649.9" r="5.2" fill="#450c5e" stroke="#450c5e"/>
<circle cx="616.8" cy="547.0" r="5.2" fill="#3dba74" stroke="#3dba74"/>
<circle cx="901.4" cy="622.0" r="5.2" fill="#450c5e" stroke="#450c5e"/>
<circle cx="787.2" cy="607.5" r="5.2" fill="#6fcd57" stroke="#6fcd57"/>
<circle cx="918.2" cy="636.0" r="5.2" fill="#26848d" stroke="#26848d"/>
<circle cx="696.6" cy="597.4" r="5.2" fill="#440154" stroke="#440154"/>
<circle cx="321.2" cy="487.9" r="5.2" fill="#440154" stroke="#440154"/>
<circle cx="288.9" cy="683.4" r="5.2" fill="#461668" stroke="#461668"/>
<circle cx="317.5" cy="445.5" r="5.2" fill="#440154" stroke="#440154"/>
<circle cx="329.2" cy="537.5" r="5.2" fill="#461668" stroke="#461668"/>
<circle cx="514.3" cy="591.7" r="5.2" fill="#440154" stroke="#440154"/>
<circle cx="580.8" cy="696.1" r="5.2" fill="#440154" stroke="#440154"/>
<circle cx="944.5" cy="411.0" r="5.2" fill="#a2d937" stroke="#a2d937"/>
<circle cx="469.9" cy="612.2" r="5.2" fill="#450c5e" stroke="#450c5e"/>
<circle cx="285.9" cy="507.5" r="5.2" fill="#440154" stroke="#440154"/>
<circle cx="440.6" cy="241.9" r="5.2" fill="#3b528a" stroke="#3b528a"/>
<circle cx="428.2" cy="237.5" r="5.2" fill="#440154" stroke="#440154"/>
<circle cx="810.1" cy="121.3" r="5.2" fill="#440154" stroke="#440154"/>
<circle cx="574.4" cy="766.6" r="5.2" fill="#440154" stroke="#440154"/>
<circle cx="400.4" cy="630.7" r="5.2" fill="#461668" stroke="#461668"/>
<circle cx="314.6" cy="497.5" r="5.2" fill="#440154" stroke="#440154"/>
<circle cx="722.9" cy="132.7" r="5.2" fill="#440154" stroke="#440154"/>
<circle cx="525.6" cy="614.3" r="5.2" fill="#440154" stroke="#440154"/>
<circle cx="255.9" cy="485.7" r="5.2" fill="#440154" stroke="#440154"/>
<circle cx="395.8" cy="441.7" r="5.2" fill="#440154" stroke="#440154"/>
<circle cx="513.1" cy="382.5" r="5.2" fill="#440154" stroke="#440154"/>
<circle cx="569.8" cy="110.9" r="5.2" fill="#440154" stroke="#440154"/>
<circle cx="634.1" cy="103.3" r="5.2" fill="#450c5e" stroke="#450c5e"/>
<circle cx="618.0" cy="86.2" r="5.2" fill="#440154" stroke="#440154"/>
<circle cx="719.4" cy="453.2" r="5.2" fill="#440154" stroke="#440154"/>
<circle cx="439.3" cy="544.9" r="5.2" fill="#461668" stroke="#461668"/>
<circle cx="345.1" cy="745.1" r="5.2" fill="#461668" stroke="#461668"/>
<circle cx="445.7" cy="233.9" r="5.2" fill="#440154" stroke="#440154"/>
<circle cx="698.0" cy="144.1" r="5.2" fill="#440154" stroke="#440154"/>
<circle cx="398.8" cy="702.4" r="5.2" fill="#461668" stroke="#461668"/>
<circle cx="893.6" cy="438.4" r="5.2" fill="#450c5e" stroke="#450c5e"/>
<circle cx="792.4" cy="505.5" r="5.2" fill="#440154" stroke="#440154"/>
<circle cx="806.4" cy="524.9" r="5.2" fill="#440154" stroke="#440154"/>
<circle cx="383.1" cy="742.4" r="5.2" fill="#440154" stroke="#440154"/>
<circle cx="1035.6" cy="481.9" r="5.2" fill="#440154" stroke="#440154"/>
<circle cx="685.7" cy="737.0" r="5.2" fill="#440154" stroke="#440154"/>
<circle cx="898.0" cy="590.8" r="5.2" fill="#440154" stroke="#440154"/>
<circle cx="653.7" cy="435.3" r="5.2" fill="#461668" stroke="#461668"/>
<circle cx="323.8" cy="760.8" r="5.2" fill="#3b528a" stroke="#3b528a"/>
<circle cx="466.1" cy="649.0" r="5.2" fill="#6fcd57" stroke="#6fcd57"/>
<circle cx="220.0" cy="110.8" r="5.2" fill="#440154" stroke="#440154"/>
<circle cx="609.0" cy="107.3" r="5.2" fill="#450c5e" stroke="#450c5e"/>
<circle cx="682.4" cy="135.8" r="5.2" fill="#450c5e" stroke="#450c5e"/>
<circle cx="725.5" cy="535.6" r="5.2" fill="#3dba74" stroke="#3dba74"/>
<circle cx="498.9" cy="97.2" r="5.2" fill="#440154" stroke="#440154"/>
<circle cx="723.3" cy="181.7" r="5.2" fill="#440154" stroke="#440154"/>
<circle cx="477.1" cy="791.5" r="5.2" fill="#440154" stroke="#440154"/>
<circle cx="184.5" cy="174.8" r="5.2" fill="#461668" stroke="#461668"/>
<circle cx="459.5" cy="524.2" r="5.2" fill="#440154" stroke="#440154"/>
<circle cx="577.5" cy="732.5" r="5.2" fill="#440154" stroke="#440154"/>
<circle cx="446.2" cy="390.0" r="5.2" fill="#440154" stroke="#440154"/>
<circle cx="548.8" cy="813.6" r="5.2" fill="#440154" stroke="#440154"/>
<circle cx="687.6" cy="739.4" r="5.2" fill="#461668" stroke="#461668"/>
<circle cx="537.9" cy="111.6" r="5.2" fill="#440154" stroke="#440154"/>
<circle cx="354.9" cy="736.3" r="5.2" fill="#440154" stroke="#440154"/>
<circle cx="445.0" cy="600.0" r="5.2" fill="#26848d" stroke="#26848d"/>
<circle cx="564.3" cy="720.4" r="5.2" fill="#440154" stroke="#440154"/>
<circle cx="722.0" cy="602.5" r="5.2" fill="#440154" stroke="#440154"/>
<circle cx="876.5" cy="482.9" r="5.2" fill="#450c5e" stroke="#450c5e"/>
<circle cx="242.7" cy="514.0" r="5.2" fill="#440154" stroke="#440154"/>
<circle cx="612.2" cy="237.4" r="5.2" fill="#450c5e" stroke="#450c5e"/>
<circle cx="947.7" cy="501.8" r="5.2" fill="#440154" stroke="#440154"/>
<circle cx="589.2" cy="798.6" r="5.2" fill="#450c5e" stroke="#450c5e"/>
<circle cx="296.8" cy="584.0" r="5.2" fill="#450c5e" stroke="#450c5e"/>
<circle cx="460.5" cy="385.0" r="5.2" fill="#450c5e" stroke="#450c5e"/>
<circle cx="315.5" cy="708.6" r="5.2" fill="#440154" stroke="#440154"/>
<circle cx="302.9" cy="511.5" r="5.2" fill="#461668" stroke="#461668"/>
<circle cx="666.9" cy="572.7" r="5.2" fill="#3b528a" stroke="#3b528a"/>
<circle cx="679.8" cy="667.5" r="5.2" fill="#440154" stroke="#440154"/>
<circle cx="389.0" cy="407.7" r="5.2" fill="#450c5e" stroke="#450c5e"/>
<circle cx="240.8" cy="98.7" r="5.2" fill="#440154" stroke="#440154"/>
<circle cx="799.5" cy="545.2" r="5.2" fill="#461668" stroke="#461668"/>
<circle cx="623.4" cy="138.3" r="5.2" fill="#440154" stroke="#440154"/>
<circle cx="613.5" cy="499.8" r="5.2" fill="#3dba74" stroke="#3dba74"/>
<circle cx="852.3" cy="544.9" r="5.2" fill="#440154" stroke="#440154"/>
<circle cx="604.8" cy="700.3" r="5.2" fill="#440154" stroke="#440154"/>
<circle cx="717.5" cy="637.4" r="5.2" fill="#a2d937" stroke="#a2d937"/>
<circle cx="497.1" cy="664.7" r="5.2" fill="#26848d" stroke="#26848d"/>
<circle cx="486.6" cy="680.5" r="5.2" fill="#3dba74" stroke="#3dba74"/>
<circle cx="856.0" cy="440.9" r="5.2" fill="#450c5e" stroke="#450c5e"/>
<circle cx="134.0" cy="391.0" r="5.2" fill="#440154" stroke="#440154"/>
<circle cx="372.5" cy="393.5" r="5.2" fill="#26848d" stroke="#26848d"/>
<circle cx="372.0" cy="657.7" r="5.2" fill="#461668" stroke="#461668"/>
<circle cx="532.9" cy="124.3" r="5.2" fill="#440154" stroke="#440154"/>
<circle cx="816.6" cy="124.5" r="5.2" fill="#461668" stroke="#461668"/>
<circle cx="531.0" cy="691.8" r="5.2" fill="#450c5e" stroke="#450c5e"/>
<circle cx="649.4" cy="586.7" r="5.2" fill="#440154" stroke="#440154"/>
<circle cx="639.7" cy="242.4" r="5.2" fill="#440154" stroke="#440154"/>
<circle cx="918.0" cy="336.0" r="5.2" fill="#eae525" stroke="#eae525"/>
<circle cx="1011.9" cy="539.4" r="5.2" fill="#440154" stroke="#440154"/>
<circle cx="1038.5" cy="534.9" r="5.2" fill="#440154" stroke="#440154"/>
<circle cx="900.8" cy="312.2" r="5.2" fill="#eae525" stroke="#eae525"/>
<circle cx="543.4" cy="384.4" r="5.2" fill="#450c5e" stroke="#450c5e"/>
<circle cx="983.4" cy="541.4" r="5.2" fill="#440154" stroke="#440154"/>
<circle cx="655.6" cy="626.4" r="5.2" fill="#26848d" stroke="#26848d"/>
<circle cx="762.6" cy="84.5" r="5.2" fill="#461668" stroke="#461668"/>
<circle cx="280.8" cy="498.8" r="5.2" fill="#440154" stroke="#440154"/>
<circle cx="495.9" cy="565.4" r="5.2" fill="#450c5e" stroke="#450c5e"/>
<circle cx="444.3" cy="244.8" r="5.2" fill="#461668" stroke="#461668"/>
<circle cx="297.4" cy="487.4" r="5.2" fill="#461668" stroke="#461668"/>
<circle cx="583.8" cy="810.6" r="5.2" fill="#440154" stroke="#440154"/>
<circle cx="652.4" cy="77.5" r="5.2" fill="#450c5e" stroke="#450c5e"/>
<circle cx="870.8" cy="642.2" r="5.2" fill="#450c5e" stroke="#450c5e"/>
<circle cx="426.1" cy="658.2" r="5.2" fill="#440154" stroke="#440154"/>
<circle cx="814.5" cy="96.3" r="5.2" fill="#440154" stroke="#440154"/>
<circle cx="958.9" cy="576.8" r="5.2" fill="#450c5e" stroke="#450c5e"/>
<circle cx="471.1" cy="653.9" r="5.2" fill="#6fcd57" stroke="#6fcd57"/>
<circle cx="796.9" cy="596.1" r="5.2" fill="#a2d937" stroke="#a2d937"/>
<circle cx="578.5" cy="717.0" r="5.2" fill="#461668" stroke="#461668"/>
<circle cx="306.7" cy="672.1" r="5.2" fill="#440154" stroke="#440154"/>
<circle cx="300.0" cy="738.2" r="5.2" fill="#26848d" stroke="#26848d"/>
<circle cx="710.7" cy="724.3" r="5.2" fill="#440154" stroke="#440154"/>
<circle cx="694.4" cy="66.7" r="5.2" fill="#440154" stroke="#440154"/>
<circle cx="967.0" cy="436.0" r="5.2" fill="#eae525" stroke="#eae525"/>
<circle cx="679.7" cy="241.4" r="5.2" fill="#450c5e" stroke="#450c5e"/>
<circle cx="333.4" cy="494.4" r="5.2" fill="#450c5e" stroke="#450c5e"/>
<circle cx="480.8" cy="708.6" r="5.2" fill="#440154" stroke="#440154"/>
<circle cx="297.4" cy="252.3" r="5.2" fill="#461668" stroke="#461668"/>
<circle cx="542.7" cy="649.0" r="5.2" fill="#450c5e" stroke="#450c5e"/>
<circle cx="240.7" cy="511.3" r="5.2" fill="#440154" stroke="#440154"/>
<circle cx="545.8" cy="481.1" r="5.2" fill="#440154" stroke="#440154"/>
<circle cx="794.5" cy="653.5" r="5.2" fill="#26848d" stroke="#26848d"/>
<circle cx="562.2" cy="459.8" r="5.2" fill="#26848d" stroke="#26848d"/>
<circle cx="828.6" cy="523.0" r="5.2" fill="#440154" stroke="#440154"/>
<circle cx="378.4" cy="430.1" r="5.2" fill="#440154" stroke="#440154"/>
<circle cx="389.2" cy="669.7" r="5.2" fill="#440154" stroke="#440154"/>
<circle cx="550.9" cy="105.7" r="5.2" fill="#450c5e" stroke="#450c5e"/>
<circle cx="787.2" cy="567.8" r="5.2" fill="#6fcd57" stroke="#6fcd57"/>
<circle cx="1018.3" cy="478.6" r="5.2" fill="#32668d" stroke="#32668d"/>
<circle cx="735.4" cy="195.3" r="5.2" fill="#450c5e" stroke="#450c5e"/>
<circle cx="679.4" cy="576.0" r="5.2" fill="#3dba74" stroke="#3dba74"/>
<circle cx="869.6" cy="127.7" r="5.2" fill="#440154" stroke="#440154"/>
<circle cx="324.8" cy="679.3" r="5.2" fill="#461668" stroke="#461668"/>
<circle cx="625.9" cy="523.6" r="5.2" fill="#440154" stroke="#440154"/>
<circle cx="842.9" cy="427.7" r="5.2" fill="#32668d" stroke="#32668d"/>
<circle cx="571.0" cy="436.0" r="5.2" fill="#26848d" stroke="#26848d"/>
<circle cx="734.4" cy="137.3" r="5.2" fill="#461668" stroke="#461668"/>
<circle cx="342.1" cy="618.8" r="5.2" fill="#440154" stroke="#440154"/>
<circle cx="659.9" cy="581.9" r="5.2" fill="#440154" stroke="#440154"/>
<circle cx="303.0" cy="242.2" r="5.2" fill="#440154" stroke="#440154"/>
<circle cx="439.1" cy="450.9" r="5.2" fill="#440154" stroke="#440154"/>
<circle cx="720.1" cy="116.5" r="5.2" fill="#440154" stroke="#440154"/>
<circle cx="604.6" cy="692.2" r="5.2" fill="#440154" stroke="#440154"/>
<circle cx="329.1" cy="566.8" r="5.2" fill="#450c5e" stroke="#450c5e"/>
<circle cx="839.3" cy="154.1" r="5.2" fill="#440154" stroke="#440154"/>
<circle cx="490.0" cy="687.8" r="5.2" fill="#461668" stroke="#461668"/>
<circle cx="809.2" cy="580.7" r="5.2" fill="#229c88" stroke="#229c88"/>
<circle cx="577.0" cy="92.1" r="5.2" fill="#440154" stroke="#440154"/>
<circle cx="440.5" cy="770.1" r="5.2" fill="#440154" stroke="#440154"/>
<circle cx="802.0" cy="647.2" r="5.2" fill="#461668" stroke="#461668"/>
<circle cx="632.3" cy="669.1" r="5.2" fill="#440154" stroke="#440154"/>
<circle cx="823.4" cy="625.2" r="5.2" fill="#440154" stroke="#440154"/>
<circle cx="703.5" cy="654.2" r="5.2" fill="#a2d937" stroke="#a2d937"/>
<circle cx="332.5" cy="750.8" r="5.2" fill="#26848d" stroke="#26848d"/>
<circle cx="725.6" cy="175.7" r="5.2" fill="#440154" stroke="#440154"/>
<circle cx="413.6" cy="715.5" r="5.2" fill="#440154" stroke="#440154"/>
<circle cx="452.3" cy="244.1" r="5.2" fill="#440154" stroke="#440154"/>
<circle cx="628.0" cy="769.6" r="5.2" fill="#461668" stroke="#461668"/>
<circle cx="639.9" cy="622.2" r="5.2" fill="#440154" stroke="#440154"/>
<circle cx="661.2" cy="60.2" r="5.2" fill="#461668" stroke="#461668"/>
<circle cx="862.1" cy="523.5" r="5.2" fill="#461668" stroke="#461668"/>
<circle cx="908.0" cy="478.2" r="5.2" fill="#440154" stroke="#440154"/>
<circle cx="1018.0" cy="491.4" r="5.2" fill="#3b528a" stroke="#3b528a"/>
<circle cx="469.6" cy="479.7" r="5.2" fill="#440154" stroke="#440154"/>
<circle cx="646.0" cy="461.0" r="5.2" fill="#26848d" stroke="#26848d"/>
<circle cx="1024.5" cy="583.2" r="5.2" fill="#440154" stroke="#440154"/>
<circle cx="737.0" cy="510.2" r="5.2" fill="#450c5e" stroke="#450c5e"/>
<circle cx="546.0" cy="467.2" r="5.2" fill="#3b528a" stroke="#3b528a"/>
<circle cx="289.2" cy="616.9" r="5.2" fill="#440154" stroke="#440154"/>
<circle cx="338.2" cy="633.9" r="5.2" fill="#450c5e" stroke="#450c5e"/>
<circle cx="656.0" cy="64.9" r="5.2" fill="#440154" stroke="#440154"/>
<circle cx="893.0" cy="455.8" r="5.2" fill="#440154" stroke="#440154"/>
<circle cx="682.4" cy="268.4" r="5.2" fill="#440154" stroke="#440154"/>
<circle cx="458.5" cy="441.6" r="5.2" fill="#461668" stroke="#461668"/>
<circle cx="609.6" cy="122.1" r="5.2" fill="#440154" stroke="#440154"/>
<circle cx="1036.6" cy="497.7" r="5.2" fill="#440154" stroke="#440154"/>
<circle cx="645.2" cy="732.3" r="5.2" fill="#461668" stroke="#461668"/>
<circle cx="535.5" cy="88.3" r="5.2" fill="#440154" stroke="#440154"/>
<circle cx="730.9" cy="146.5" r="5.2" fill="#450c5e" stroke="#450c5e"/>
<circle cx="679.8" cy="261.7" r="5.2" fill="#440154" stroke="#440154"/>
<circle cx="290.9" cy="433.7" r="5.2" fill="#450c5e" stroke="#450c5e"/>
<circle cx="572.2" cy="649.7" r="5.2" fill="#440154" stroke="#440154"/>
<circle cx="185.5" cy="185.1" r="5.2" fill="#440154" stroke="#440154"/>
<circle cx="542.8" cy="815.8" r="5.2" fill="#461668" stroke="#461668"/>
<circle cx="513.2" cy="113.7" r="5.2" fill="#440154" stroke="#440154"/>
<circle cx="725.0" cy="73.8" r="5.2" fill="#440154" stroke="#440154"/>
<circle cx="492.2" cy="483.5" r="5.2" fill="#26848d" stroke="#26848d"/>
<circle cx="918.2" cy="298.5" r="5.2" fill="#26848d" stroke="#26848d"/>
<circle cx="759.5" cy="168.4" r="5.2" fill="#440154" stroke="#440154"/>
<circle cx="533.5" cy="706.3" r="5.2" fill="#440154" stroke="#440154"/>
<circle cx="732.6" cy="177.0" r="5.2" fill="#461668" stroke="#461668"/>
<circle cx="548.5" cy="498.5" r="5.2" fill="#26848d" stroke="#26848d"/>
<circle cx="638.7" cy="180.0" r="5.2" fill="#440154" stroke="#440154"/>
<circle cx="541.9" cy="84.7" r="5.2" fill="#440154" stroke="#440154"/>
<circle cx="595.7" cy="783.1" r="5.2" fill="#440154" stroke="#440154"/>
<circle cx="660.7" cy="137.2" r="5.2" fill="#450c5e" stroke="#450c5e"/>
<circle cx="815.8" cy="646.0" r="5.2" fill="#3dba74" stroke="#3dba74"/>
<circle cx="276.1" cy="480.7" r="5.2" fill="#440154" stroke="#440154"/>
<circle cx="529.6" cy="694.5" r="5.2" fill="#440154" stroke="#440154"/>
<circle cx="859.5" cy="435.7" r="5.2" fill="#26848d" stroke="#26848d"/>
<circle cx="842.8" cy="167.0" r="5.2" fill="#450c5e" stroke="#450c5e"/>
<circle cx="936.7" cy="545.3" r="5.2" fill="#229c88" stroke="#229c88"/>
<circle cx="619.1" cy="672.2" r="5.2" fill="#3b528a" stroke="#3b528a"/>
<circle cx="537.1" cy="117.7" r="5.2" fill="#440154" stroke="#440154"/>
<circle cx="838.3" cy="172.0" r="5.2" fill="#440154" stroke="#440154"/>
<circle cx="551.1" cy="662.7" r="5.2" fill="#3b528a" stroke="#3b528a"/>
<circle cx="231.3" cy="97.2" r="5.2" fill="#461668" stroke="#461668"/>
<circle cx="894.5" cy="646.0" r="5.2" fill="#3b528a" stroke="#3b528a"/>
<circle cx="539.9" cy="474.6" r="5.2" fill="#440154" stroke="#440154"/>
<circle cx="558.8" cy="622.4" r="5.2" fill="#440154" stroke="#440154"/>
<circle cx="574.1" cy="637.6" r="5.2" fill="#440154" stroke="#440154"/>
<circle cx="867.0" cy="119.9" r="5.2" fill="#440154" stroke="#440154"/>
<circle cx="958.2" cy="344.8" r="5.2" fill="#eae525" stroke="#eae525"/>
<circle cx="824.5" cy="647.2" r="5.2" fill="#26848d" stroke="#26848d"/>
<circle cx="396.2" cy="406.0" r="5.2" fill="#3b528a" stroke="#3b528a"/>
<circle cx="898.5" cy="598.2" r="5.2" fill="#440154" stroke="#440154"/>
<circle cx="766.1" cy="521.8" r="5.2" fill="#26848d" stroke="#26848d"/>
<circle cx="545.7" cy="392.6" r="5.2" fill="#450c5e" stroke="#450c5e"/>
<circle cx="691.2" cy="567.3" r="5.2" fill="#32668d" stroke="#32668d"/>
<circle cx="302.5" cy="461.0" r="5.2" fill="#3b528a" stroke="#3b528a"/>
<circle cx="1008.4" cy="475.5" r="5.2" fill="#440154" stroke="#440154"/>
<circle cx="657.9" cy="744.3" r="5.2" fill="#440154" stroke="#440154"/>
<circle cx="729.5" cy="96.4" r="5.2" fill="#440154" stroke="#440154"/>
<circle cx="641.0" cy="469.8" r="5.2" fill="#3dba74" stroke="#3dba74"/>
<circle cx="837.0" cy="138.3" r="5.2" fill="#440154" stroke="#440154"/>
<circle cx="376.6" cy="778.4" r="5.2" fill="#440154" stroke="#440154"/>
<circle cx="362.9" cy="406.7" r="5.2" fill="#461668" stroke="#461668"/>
<circle cx="698.8" cy="155.5" r="5.2" fill="#440154" stroke="#440154"/>
<circle cx="245.9" cy="539.5" r="5.2" fill="#440154" stroke="#440154"/>
<circle cx="420.9" cy="769.5" r="5.2" fill="#440154" stroke="#440154"/>
<circle cx="505.2" cy="749.2" r="5.2" fill="#440154" stroke="#440154"/>
<circle cx="958.2" cy="359.8" r="5.2" fill="#a2d937" stroke="#a2d937"/>
<circle cx="662.2" cy="725.5" r="5.2" fill="#440154" stroke="#440154"/>
<circle cx="959.5" cy="356.0" r="5.2" fill="#26848d" stroke="#26848d"/>
<circle cx="637.9" cy="519.9" r="5.2" fill="#229c88" stroke="#229c88"/>
<circle cx="609.5" cy="536.7" r="5.2" fill="#450c5e" stroke="#450c5e"/>
<circle cx="498.1" cy="643.8" r="5.2" fill="#440154" stroke="#440154"/>
<circle cx="339.8" cy="551.2" r="5.2" fill="#461668" stroke="#461668"/>
<circle cx="310.0" cy="512.0" r="5.2" fill="#3b528a" stroke="#3b528a"/>
<circle cx="316.7" cy="639.2" r="5.2" fill="#440154" stroke="#440154"/>
<circle cx="357.7" cy="481.3" r="5.2" fill="#440154" stroke="#440154"/>
<circle cx="636.0" cy="476.0" r="5.2" fill="#26848d" stroke="#26848d"/>
<circle cx="701.7" cy="438.2" r="5.2" fill="#440154" stroke="#440154"/>
<circle cx="424.8" cy="477.8" r="5.2" fill="#461668" stroke="#461668"/>
<circle cx="461.8" cy="731.6" r="5.2" fill="#450c5e" stroke="#450c5e"/>
<circle cx="491.0" cy="430.0" r="5.2" fill="#440154" stroke="#440154"/>
<circle cx="330.5" cy="666.1" r="5.2" fill="#440154" stroke="#440154"/>
<circle cx="778.2" cy="76.7" r="5.2" fill="#440154" stroke="#440154"/>
<circle cx="788.2" cy="156.7" r="5.2" fill="#440154" stroke="#440154"/>
<circle cx="455.6" cy="596.9" r="5.2" fill="#440154" stroke="#440154"/>
<circle cx="346.7" cy="687.6" r="5.2" fill="#440154" stroke="#440154"/>
<circle cx="655.5" cy="417.0" r="5.2" fill="#440154" stroke="#440154"/>
<circle cx="238.3" cy="455.9" r="5.2" fill="#440154" stroke="#440154"/>
<circle cx="151.0" cy="381.5" r="5.2" fill="#450c5e" stroke="#450c5e"/>
<circle cx="531.8" cy="373.5" r="5.2" fill="#3b528a" stroke="#3b528a"/>
<circle cx="997.4" cy="582.6" r="5.2" fill="#440154" stroke="#440154"/>
<circle cx="578.5" cy="419.8" r="5.2" fill="#3b528a" stroke="#3b528a"/>
<circle cx="882.4" cy="636.1" r="5.2" fill="#450c5e" stroke="#450c5e"/>
<circle cx="612.8" cy="672.6" r="5.2" fill="#440154" stroke="#440154"/>
<circle cx="620.9" cy="172.8" r="5.2" fill="#440154" stroke="#440154"/>
<circle cx="333.7" cy="671.5" r="5.2" fill="#440154" stroke="#440154"/>
<circle cx="330.7" cy="656.7" r="5.2" fill="#440154" stroke="#440154"/>
<circle cx="864.1" cy="145.7" r="5.2" fill="#440154" stroke="#440154"/>
<circle cx="651.5" cy="237.9" r="5.2" fill="#440154" stroke="#440154"/>
<circle cx="427.0" cy="667.6" r="5.2" fill="#440154" stroke="#440154"/>
<circle cx="686.0" cy="151.0" r="5.2" fill="#440154" stroke="#440154"/>
<circle cx="453.9" cy="757.4" r="5.2" fill="#450c5e" stroke="#450c5e"/>
<circle cx="738.3" cy="573.7" r="5.2" fill="#6fcd57" stroke="#6fcd57"/>
<circle cx="406.2" cy="542.0" r="5.2" fill="#440154" stroke="#440154"/>
<circle cx="324.8" cy="402.8" r="5.2" fill="#461668" stroke="#461668"/>
<circle cx="778.0" cy="525.4" r="5.2" fill="#3dba74" stroke="#3dba74"/>
<circle cx="810.3" cy="116.3" r="5.2" fill="#440154" stroke="#440154"/>
<circle cx="484.7" cy="161.7" r="5.2" fill="#26848d" stroke="#26848d"/>
<circle cx="138.0" cy="390.0" r="5.2" fill="#440154" stroke="#440154"/>
<circle cx="453.0" cy="794.7" r="5.2" fill="#440154" stroke="#440154"/>
<circle cx="405.0" cy="466.0" r="5.2" fill="#3b528a" stroke="#3b528a"/>
<circle cx="543.5" cy="167.2" r="5.2" fill="#3b528a" stroke="#3b528a"/>
<circle cx="396.4" cy="518.0" r="5.2" fill="#440154" stroke="#440154"/>
<circle cx="300.2" cy="584.4" r="5.2" fill="#440154" stroke="#440154"/>
<circle cx="724.0" cy="70.5" r="5.2" fill="#440154" stroke="#440154"/>
<circle cx="676.0" cy="483.5" r="5.2" fill="#3dba74" stroke="#3dba74"/>
<circle cx="774.0" cy="87.2" r="5.2" fill="#440154" stroke="#440154"/>
<circle cx="251.0" cy="647.3" r="5.2" fill="#440154" stroke="#440154"/>
<circle cx="345.6" cy="383.5" r="5.2" fill="#461668" stroke="#461668"/>
<circle cx="668.8" cy="494.0" r="5.2" fill="#450c5e" stroke="#450c5e"/>
<circle cx="528.0" cy="476.3" r="5.2" fill="#440154" stroke="#440154"/>
<circle cx="384.2" cy="784.6" r="5.2" fill="#450c5e" stroke="#450c5e"/>
<circle cx="665.3" cy="78.0" r="5.2" fill="#440154" stroke="#440154"/>
<circle cx="353.7" cy="672.7" r="5.2" fill="#440154" stroke="#440154"/>
<circle cx="797.9" cy="149.7" r="5.2" fill="#461668" stroke="#461668"/>
<circle cx="380.0" cy="386.0" r="5.2" fill="#3b528a" stroke="#3b528a"/>
<circle cx="451.4" cy="613.7" r="5.2" fill="#440154" stroke="#440154"/>
<circle cx="329.3" cy="512.8" r="5.2" fill="#461668" stroke="#461668"/>
<circle cx="411.3" cy="641.0" r="5.2" fill="#440154" stroke="#440154"/>
<circle cx="759.9" cy="514.8" r="5.2" fill="#440154" stroke="#440154"/>
<circle cx="333.8" cy="394.8" r="5.2" fill="#eae525" stroke="#eae525"/>
<circle cx="601.9" cy="106.2" r="5.2" fill="#450c5e" stroke="#450c5e"/>
<circle cx="912.2" cy="589.2" r="5.2" fill="#440154" stroke="#440154"/>
<circle cx="556.8" cy="572.8" r="5.2" fill="#440154" stroke="#440154"/>
<circle cx="874.5" cy="657.2" r="5.2" fill="#450c5e" stroke="#450c5e"/>
<circle cx="803.6" cy="152.0" r="5.2" fill="#440154" stroke="#440154"/>
<circle cx="834.6" cy="523.5" r="5.2" fill="#440154" stroke="#440154"/>
<circle cx="728.5" cy="471.0" r="5.2" fill="#3dba74" stroke="#3dba74"/>
<circle cx="990.3" cy="534.0" r="5.2" fill="#461668" stroke="#461668"/>
<circle cx="785.3" cy="600.0" r="5.2" fill="#440154" stroke="#440154"/>
<circle cx="602.4" cy="537.4" r="5.2" fill="#440154" stroke="#440154"/>
<circle cx="779.3" cy="561.4" r="5.2" fill="#26848d" stroke="#26848d"/>
<circle cx="831.7" cy="496.2" r="5.2" fill="#440154" stroke="#440154"/>
<circle cx="659.4" cy="235.6" r="5.2" fill="#440154" stroke="#440154"/>
<circle cx="692.5" cy="224.3" r="5.2" fill="#461668" stroke="#461668"/>
<circle cx="688.5" cy="269.6" r="5.2" fill="#440154" stroke="#440154"/>
<circle cx="763.5" cy="616.4" r="5.2" fill="#461668" stroke="#461668"/>
<circle cx="397.0" cy="666.2" r="5.2" fill="#440154" stroke="#440154"/>
<circle cx="613.2" cy="240.7" r="5.2" fill="#440154" stroke="#440154"/>
<circle cx="475.0" cy="410.0" r="5.2" fill="#461668" stroke="#461668"/>
<circle cx="608.9" cy="814.1" r="5.2" fill="#440154" stroke="#440154"/>
<circle cx="741.1" cy="464.5" r="5.2" fill="#461668" stroke="#461668"/>
<circle cx="795.9" cy="575.0" r="5.2" fill="#26848d" stroke="#26848d"/>
<circle cx="560.1" cy="829.8" r="5.2" fill="#440154" stroke="#440154"/>
<circle cx="755.2" cy="91.7" r="5.2" fill="#440154" stroke="#440154"/>
<circle cx="662.8" cy="671.2" r="5.2" fill="#26848d" stroke="#26848d"/>
<circle cx="815.5" cy="500.2" r="5.2" fill="#450c5e" stroke="#450c5e"/>
<circle cx="893.5" cy="434.7" r="5.2" fill="#440154" stroke="#440154"/>
<circle cx="414.3" cy="472.6" r="5.2" fill="#461668" stroke="#461668"/>
<circle cx="929.5" cy="316.0" r="5.2" fill="#eae525" stroke="#eae525"/>
<circle cx="553.9" cy="819.1" r="5.2" fill="#440154" stroke="#440154"/>
<circle cx="177.1" cy="186.8" r="5.2" fill="#450c5e" stroke="#450c5e"/>
<circle cx="998.4" cy="486.7" r="5.2" fill="#440154" stroke="#440154"/>
<circle cx="437.0" cy="250.6" r="5.2" fill="#440154" stroke="#440154"/>
<circle cx="1024.4" cy="512.3" r="5.2" fill="#440154" stroke="#440154"/>
<circle cx="686.0" cy="502.2" r="5.2" fill="#26848d" stroke="#26848d"/>
<circle cx="388.8" cy="643.2" r="5.2" fill="#440154" stroke="#440154"/>
<circle cx="668.6" cy="555.6" r="5.2" fill="#3b528a" stroke="#3b528a"/>
<circle cx="381.3" cy="720.0" r="5.2" fill="#450c5e" stroke="#450c5e"/>
<circle cx="555.4" cy="389.7" r="5.2" fill="#450c5e" stroke="#450c5e"/>
<circle cx="558.1" cy="786.5" r="5.2" fill="#440154" stroke="#440154"/>
<circle cx="641.0" cy="481.0" r="5.2" fill="#3dba74" stroke="#3dba74"/>
<circle cx="463.0" cy="385.0" r="5.2" fill="#440154" stroke="#440154"/>
<circle cx="492.9" cy="102.5" r="5.2" fill="#440154" stroke="#440154"/>
<circle cx="491.9" cy="698.2" r="5.2" fill="#461668" stroke="#461668"/>
<circle cx="326.8" cy="690.7" r="5.2" fill="#440154" stroke="#440154"/>
<circle cx="947.8" cy="554.4" r="5.2" fill="#26848d" stroke="#26848d"/>
<circle cx="827.4" cy="496.6" r="5.2" fill="#440154" stroke="#440154"/>
<circle cx="420.1" cy="378.4" r="5.2" fill="#440154" stroke="#440154"/>
<circle cx="700.0" cy="441.7" r="5.2" fill="#461668" stroke="#461668"/>
<circle cx="371.9" cy="648.3" r="5.2" fill="#461668" stroke="#461668"/>
<circle cx="630.9" cy="420.5" r="5.2" fill="#440154" stroke="#440154"/>
<circle cx="650.0" cy="269.2" r="5.2" fill="#440154" stroke="#440154"/>
<circle cx="640.8" cy="169.1" r="5.2" fill="#440154" stroke="#440154"/>
<circle cx="321.4" cy="627.8" r="5.2" fill="#440154" stroke="#440154"/>
<circle cx="640.1" cy="111.7" r="5.2" fill="#440154" stroke="#440154"/>
<circle cx="306.3" cy="498.9" r="5.2" fill="#440154" stroke="#440154"/>
<circle cx="761.1" cy="143.1" r="5.2" fill="#440154" stroke="#440154"/>
<circle cx="554.8" cy="501.0" r="5.2" fill="#3dba74" stroke="#3dba74"/>
<circle cx="307.5" cy="752.0" r="5.2" fill="#3dba74" stroke="#3dba74"/>
<circle cx="451.8" cy="467.9" r="5.2" fill="#461668" stroke="#461668"/>
<circle cx="432.5" cy="676.0" r="5.2" fill="#26848d" stroke="#26848d"/>
<circle cx="829.4" cy="155.4" r="5.2" fill="#440154" stroke="#440154"/>
<circle cx="605.6" cy="147.5" r="5.2" fill="#440154" stroke="#440154"/>
<circle cx="442.6" cy="673.5" r="5.2" fill="#440154" stroke="#440154"/>
<circle cx="720.0" cy="125.9" r="5.2" fill="#461668" stroke="#461668"/>
<circle cx="731.9" cy="551.5" r="5.2" fill="#eae525" stroke="#eae525"/>
<circle cx="929.5" cy="580.0" r="5.2" fill="#440154" stroke="#440154"/>
<circle cx="284.1" cy="546.2" r="5.2" fill="#440154" stroke="#440154"/>
<circle cx="729.9" cy="155.3" r="5.2" fill="#461668" stroke="#461668"/>
<circle cx="374.6" cy="563.4" r="5.2" fill="#440154" stroke="#440154"/>
<circle cx="765.5" cy="115.1" r="5.2" fill="#450c5e" stroke="#450c5e"/>
<circle cx="775.8" cy="173.0" r="5.2" fill="#450c5e" stroke="#450c5e"/>
<circle cx="384.0" cy="484.6" r="5.2" fill="#440154" stroke="#440154"/>
<circle cx="700.1" cy="94.1" r="5.2" fill="#450c5e" stroke="#450c5e"/>
<circle cx="651.7" cy="496.2" r="5.2" fill="#440154" stroke="#440154"/>
<circle cx="329.6" cy="458.1" r="5.2" fill="#440154" stroke="#440154"/>
<circle cx="230.6" cy="100.9" r="5.2" fill="#440154" stroke="#440154"/>
<circle cx="460.9" cy="542.1" r="5.2" fill="#450c5e" stroke="#450c5e"/>
<circle cx="598.8" cy="188.5" r="5.2" fill="#440154" stroke="#440154"/>
<circle cx="494.6" cy="216.4" r="5.2" fill="#3dba74" stroke="#3dba74"/>
<circle cx="618.4" cy="129.7" r="5.2" fill="#450c5e" stroke="#450c5e"/>
<circle cx="915.1" cy="606.2" r="5.2" fill="#440154" stroke="#440154"/>
<circle cx="543.1" cy="663.0" r="5.2" fill="#3b528a" stroke="#3b528a"/>
<circle cx="415.8" cy="429.9" r="5.2" fill="#450c5e" stroke="#450c5e"/>
<circle cx="430.8" cy="554.4" r="5.2" fill="#461668" stroke="#461668"/>
<circle cx="742.5" cy="156.5" r="5.2" fill="#450c5e" stroke="#450c5e"/>
<circle cx="703.0" cy="610.5" r="5.2" fill="#6fcd57" stroke="#6fcd57"/>
<circle cx="330.0" cy="743.2" r="5.2" fill="#26848d" stroke="#26848d"/>
<circle cx="762.0" cy="562.7" r="5.2" fill="#3dba74" stroke="#3dba74"/>
<circle cx="548.5" cy="71.5" r="5.2" fill="#440154" stroke="#440154"/>
<circle cx="699.8" cy="85.0" r="5.2" fill="#440154" stroke="#440154"/>
<circle cx="748.2" cy="99.5" r="5.2" fill="#440154" stroke="#440154"/>
<circle cx="419.7" cy="518.0" r="5.2" fill="#440154" stroke="#440154"/>
<circle cx="854.8" cy="123.4" r="5.2" fill="#440154" stroke="#440154"/>
<circle cx="243.2" cy="114.0" r="5.2" fill="#450c5e" stroke="#450c5e"/>
<circle cx="451.9" cy="779.7" r="5.2" fill="#440154" stroke="#440154"/>
<circle cx="273.9" cy="485.7" r="5.2" fill="#440154" stroke="#440154"/>
<circle cx="662.0" cy="53.0" r="5.2" fill="#440154" stroke="#440154"/>
<circle cx="407.5" cy="458.5" r="5.2" fill="#3b528a" stroke="#3b528a"/>
<circle cx="885.3" cy="149.2" r="5.2" fill="#440154" stroke="#440154"/>
<circle cx="810.2" cy="578.4" r="5.2" fill="#26848d" stroke="#26848d"/>
<circle cx="765.1" cy="486.1" r="5.2" fill="#450c5e" stroke="#450c5e"/>
<circle cx="626.0" cy="426.0" r="5.2" fill="#26848d" stroke="#26848d"/>
<circle cx="621.7" cy="450.1" r="5.2" fill="#440154" stroke="#440154"/>
<circle cx="960.0" cy="318.0" r="5.2" fill="#eae525" stroke="#eae525"/>
<circle cx="612.2" cy="800.0" r="5.2" fill="#440154" stroke="#440154"/>
<circle cx="680.8" cy="728.2" r="5.2" fill="#440154" stroke="#440154"/>
<circle cx="274.1" cy="549.7" r="5.2" fill="#440154" stroke="#440154"/>
<circle cx="588.8" cy="639.8" r="5.2" fill="#450c5e" stroke="#450c5e"/>
<circle cx="282.7" cy="440.3" r="5.2" fill="#440154" stroke="#440154"/>
<circle cx="786.0" cy="718.5" r="5.2" fill="#3b528a" stroke="#3b528a"/>
<circle cx="973.2" cy="593.7" r="5.2" fill="#440154" stroke="#440154"/>
<circle cx="235.3" cy="100.5" r="5.2" fill="#440154" stroke="#440154"/>
<circle cx="522.8" cy="96.1" r="5.2" fill="#440154" stroke="#440154"/>
<circle cx="718.4" cy="520.8" r="5.2" fill="#3dba74" stroke="#3dba74"/>
<circle cx="400.7" cy="677.5" r="5.2" fill="#450c5e" stroke="#450c5e"/>
<circle cx="494.6" cy="96.4" r="5.2" fill="#440154" stroke="#440154"/>
<circle cx="354.8" cy="711.3" r="5.2" fill="#440154" stroke="#440154"/>
<circle cx="379.9" cy="723.6" r="5.2" fill="#450c5e" stroke="#450c5e"/>
<circle cx="882.2" cy="142.7" r="5.2" fill="#461668" stroke="#461668"/>
<circle cx="287.9" cy="100.5" r="5.2" fill="#3b528a" stroke="#3b528a"/>
<circle cx="453.9" cy="405.9" r="5.2" fill="#440154" stroke="#440154"/>
<circle cx="638.9" cy="254.0" r="5.2" fill="#461668" stroke="#461668"/>
<circle cx="444.8" cy="624.4" r="5.2" fill="#461668" stroke="#461668"/>
<circle cx="533.7" cy="691.7" r="5.2" fill="#440154" stroke="#440154"/>
<circle cx="702.5" cy="195.0" r="5.2" fill="#440154" stroke="#440154"/>
<circle cx="633.5" cy="521.4" r="5.2" fill="#461668" stroke="#461668"/>
<circle cx="619.1" cy="673.7" r="5.2" fill="#440154" stroke="#440154"/>
<circle cx="656.1" cy="451.9" r="5.2" fill="#461668" stroke="#461668"/>
<circle cx="929.0" cy="345.0" r="5.2" fill="#eae525" stroke="#eae525"/>
<circle cx="602.2" cy="188.1" r="5.2" fill="#461668" stroke="#461668"/>
<circle cx="352.6" cy="631.5" r="5.2" fill="#450c5e" stroke="#450c5e"/>
<circle cx="163.0" cy="376.0" r="5.2" fill="#26848d" stroke="#26848d"/>
<circle cx="991.2" cy="560.0" r="5.2" fill="#32668d" stroke="#32668d"/>
<circle cx="608.4" cy="814.1" r="5.2" fill="#450c5e" stroke="#450c5e"/>
<circle cx="650.6" cy="93.7" r="5.2" fill="#450c5e" stroke="#450c5e"/>
<circle cx="433.3" cy="240.4" r="5.2" fill="#440154" stroke="#440154"/>
<circle cx="450.4" cy="453.8" r="5.2" fill="#440154" stroke="#440154"/>
<circle cx="663.6" cy="569.7" r="5.2" fill="#440154" stroke="#440154"/>
<circle cx="311.2" cy="774.5" r="5.2" fill="#3b528a" stroke="#3b528a"/>
<circle cx="848.6" cy="530.6" r="5.2" fill="#440154" stroke="#440154"/>
<circle cx="574.8" cy="407.2" r="5.2" fill="#3dba74" stroke="#3dba74"/>
<circle cx="541.2" cy="155.1" r="5.2" fill="#440154" stroke="#440154"/>
<circle cx="587.3" cy="649.7" r="5.2" fill="#450c5e" stroke="#450c5e"/>
<circle cx="521.6" cy="674.9" r="5.2" fill="#26848d" stroke="#26848d"/>
<circle cx="949.8" cy="516.5" r="5.2" fill="#440154" stroke="#440154"/>
<circle cx="587.9" cy="744.9" r="5.2" fill="#440154" stroke="#440154"/>
<circle cx="618.5" cy="102.0" r="5.2" fill="#440154" stroke="#440154"/>
<circle cx="512.0" cy="635.4" r="5.2" fill="#450c5e" stroke="#450c5e"/>
<circle cx="668.0" cy="583.6" r="5.2" fill="#440154" stroke="#440154"/>
<circle cx="805.6" cy="493.6" r="5.2" fill="#461668" stroke="#461668"/>
<circle cx="726.0" cy="463.5" r="5.2" fill="#26848d" stroke="#26848d"/>
<circle cx="525.8" cy="450.0" r="5.2" fill="#440154" stroke="#440154"/>
<circle cx="353.8" cy="587.2" r="5.2" fill="#26848d" stroke="#26848d"/>
<circle cx="588.4" cy="117.5" r="5.2" fill="#440154" stroke="#440154"/>
<circle cx="616.9" cy="146.7" r="5.2" fill="#440154" stroke="#440154"/>
<circle cx="775.9" cy="75.8" r="5.2" fill="#440154" stroke="#440154"/>
<circle cx="566.7" cy="794.7" r="5.2" fill="#3b528a" stroke="#3b528a"/>
<circle cx="376.7" cy="797.0" r="5.2" fill="#461668" stroke="#461668"/>
<circle cx="586.0" cy="509.8" r="5.2" fill="#a2d937" stroke="#a2d937"/>
<circle cx="250.3" cy="518.2" r="5.2" fill="#440154" stroke="#440154"/>
<circle cx="980.7" cy="540.7" r="5.2" fill="#440154" stroke="#440154"/>
<circle cx="705.7" cy="764.3" r="5.2" fill="#440154" stroke="#440154"/>
<circle cx="309.0" cy="546.9" r="5.2" fill="#440154" stroke="#440154"/>
<circle cx="839.1" cy="121.3" r="5.2" fill="#461668" stroke="#461668"/>
<circle cx="326.0" cy="495.5" r="5.2" fill="#461668" stroke="#461668"/>
<circle cx="484.6" cy="765.6" r="5.2" fill="#440154" stroke="#440154"/>
<circle cx="469.3" cy="764.2" r="5.2" fill="#440154" stroke="#440154"/>
<circle cx="911.3" cy="580.9" r="5.2" fill="#440154" stroke="#440154"/>
<circle cx="593.9" cy="519.0" r="5.2" fill="#229c88" stroke="#229c88"/>
<circle cx="565.5" cy="108.1" r="5.2" fill="#440154" stroke="#440154"/>
<circle cx="500.9" cy="435.3" r="5.2" fill="#440154" stroke="#440154"/>
<circle cx="330.9" cy="681.6" r="5.2" fill="#440154" stroke="#440154"/>
<circle cx="906.2" cy="494.1" r="5.2" fill="#26848d" stroke="#26848d"/>
<circle cx="432.2" cy="709.7" r="5.2" fill="#440154" stroke="#440154"/>
<circle cx="648.5" cy="614.6" r="5.2" fill="#a2d937" stroke="#a2d937"/>
<circle cx="604.2" cy="149.9" r="5.2" fill="#440154" stroke="#440154"/>
<circle cx="667.1" cy="76.1" r="5.2" fill="#440154" stroke="#440154"/>
<circle cx="860.2" cy="472.6" r="5.2" fill="#440154" stroke="#440154"/>
<circle cx="928.0" cy="616.5" r="5.2" fill="#461668" stroke="#461668"/>
<circle cx="547.6" cy="405.9" r="5.2" fill="#450c5e" stroke="#450c5e"/>
<circle cx="594.3" cy="117.5" r="5.2" fill="#461668" stroke="#461668"/>
<circle cx="942.5" cy="489.3" r="5.2" fill="#450c5e" stroke="#450c5e"/>
<circle cx="516.3" cy="119.1" r="5.2" fill="#450c5e" stroke="#450c5e"/>
<circle cx="373.8" cy="744.5" r="5.2" fill="#3b528a" stroke="#3b528a"/>
<circle cx="435.2" cy="549.4" r="5.2" fill="#461668" stroke="#461668"/>
<circle cx="814.5" cy="536.6" r="5.2" fill="#440154" stroke="#440154"/>
<circle cx="669.7" cy="447.3" r="5.2" fill="#440154" stroke="#440154"/>
<circle cx="1019.6" cy="496.8" r="5.2" fill="#450c5e" stroke="#450c5e"/>
<circle cx="619.8" cy="446.0" r="5.2" fill="#26848d" stroke="#26848d"/>
<circle cx="952.0" cy="321.0" r="5.2" fill="#eae525" stroke="#eae525"/>
<circle cx="550.9" cy="458.9" r="5.2" fill="#440154" stroke="#440154"/>
<circle cx="703.6" cy="732.9" r="5.2" fill="#440154" stroke="#440154"/>
<circle cx="478.8" cy="564.3" r="5.2" fill="#440154" stroke="#440154"/>
<circle cx="853.1" cy="435.5" r="5.2" fill="#440154" stroke="#440154"/>
<circle cx="360.7" cy="570.9" r="5.2" fill="#440154" stroke="#440154"/>
<circle cx="722.6" cy="139.2" r="5.2" fill="#461668" stroke="#461668"/>
<circle cx="431.0" cy="490.5" r="5.2" fill="#461668" stroke="#461668"/>
<circle cx="854.0" cy="572.5" r="5.2" fill="#32668d" stroke="#32668d"/>
<circle cx="599.5" cy="137.9" r="5.2" fill="#440154" stroke="#440154"/>
<circle cx="800.8" cy="408.5" r="5.2" fill="#eae525" stroke="#eae525"/>
<circle cx="788.3" cy="143.2" r="5.2" fill="#461668" stroke="#461668"/>
<circle cx="274.1" cy="470.9" r="5.2" fill="#440154" stroke="#440154"/>
<circle cx="661.8" cy="734.4" r="5.2" fill="#440154" stroke="#440154"/>
<circle cx="260.4" cy="700.1" r="5.2" fill="#450c5e" stroke="#450c5e"/>
<circle cx="719.6" cy="603.8" r="5.2" fill="#3b528a" stroke="#3b528a"/>
<circle cx="293.7" cy="643.3" r="5.2" fill="#450c5e" stroke="#450c5e"/>
<circle cx="781.0" cy="646.8" r="5.2" fill="#3dba74" stroke="#3dba74"/>
<circle cx="743.7" cy="128.7" r="5.2" fill="#440154" stroke="#440154"/>
<circle cx="750.9" cy="162.5" r="5.2" fill="#450c5e" stroke="#450c5e"/>
<circle cx="903.2" cy="323.5" r="5.2" fill="#eae525" stroke="#eae525"/>
<circle cx="349.2" cy="761.6" r="5.2" fill="#461668" stroke="#461668"/>
<circle cx="705.3" cy="122.9" r="5.2" fill="#450c5e" stroke="#450c5e"/>
<circle cx="967.7" cy="559.1" r="5.2" fill="#440154" stroke="#440154"/>
<circle cx="742.1" cy="136.5" r="5.2" fill="#450c5e" stroke="#450c5e"/>
<circle cx="429.1" cy="745.0" r="5.2" fill="#461668" stroke="#461668"/>
<circle cx="645.3" cy="159.2" r="5.2" fill="#440154" stroke="#440154"/>
<circle cx="738.7" cy="167.9" r="5.2" fill="#440154" stroke="#440154"/>
<circle cx="299.7" cy="773.0" r="5.2" fill="#440154" stroke="#440154"/>
<circle cx="779.5" cy="106.9" r="5.2" fill="#450c5e" stroke="#450c5e"/>
<circle cx="517.2" cy="698.1" r="5.2" fill="#440154" stroke="#440154"/>
<circle cx="868.0" cy="571.1" r="5.2" fill="#440154" stroke="#440154"/>
<circle cx="671.0" cy="484.8" r="5.2" fill="#26848d" stroke="#26848d"/>
<circle cx="692.6" cy="114.2" r="5.2" fill="#461668" stroke="#461668"/>
<circle cx="681.3" cy="251.4" r="5.2" fill="#461668" stroke="#461668"/>
<circle cx="313.9" cy="559.0" r="5.2" fill="#440154" stroke="#440154"/>
<circle cx="983.3" cy="571.9" r="5.2" fill="#3b528a" stroke="#3b528a"/>
<circle cx="253.2" cy="453.1" r="5.2" fill="#440154" stroke="#440154"/>
<circle cx="917.6" cy="631.8" r="5.2" fill="#440154" stroke="#440154"/>
<circle cx="301.1" cy="258.2" r="5.2" fill="#440154" stroke="#440154"/>
<circle cx="289.1" cy="552.9" r="5.2" fill="#440154" stroke="#440154"/>
<circle cx="577.2" cy="775.3" r="5.2" fill="#3b528a" stroke="#3b528a"/>
<circle cx="559.2" cy="78.5" r="5.2" fill="#440154" stroke="#440154"/>
<circle cx="430.3" cy="616.2" r="5.2" fill="#440154" stroke="#440154"/>
<circle cx="338.8" cy="647.2" r="5.2" fill="#a2d937" stroke="#a2d937"/>
<circle cx="634.7" cy="756.0" r="5.2" fill="#440154" stroke="#440154"/>
<circle cx="999.2" cy="584.8" r="5.2" fill="#440154" stroke="#440154"/>
<circle cx="415.5" cy="756.4" r="5.2" fill="#450c5e" stroke="#450c5e"/>
<circle cx="697.5" cy="154.5" r="5.2" fill="#440154" stroke="#440154"/>
<circle cx="843.1" cy="616.8" r="5.2" fill="#440154" stroke="#440154"/>
<circle cx="309.8" cy="535.6" r="5.2" fill="#440154" stroke="#440154"/>
<circle cx="898.7" cy="461.9" r="5.2" fill="#440154" stroke="#440154"/>
<circle cx="306.5" cy="574.7" r="5.2" fill="#450c5e" stroke="#450c5e"/>
<circle cx="356.9" cy="757.7" r="5.2" fill="#440154" stroke="#440154"/>
<circle cx="778.7" cy="600.8" r="5.2" fill="#26848d" stroke="#26848d"/>
<circle cx="911.2" cy="587.5" r="5.2" fill="#461668" stroke="#461668"/>
<circle cx="701.6" cy="524.1" r="5.2" fill="#440154" stroke="#440154"/>
<circle cx="886.9" cy="610.7" r="5.2" fill="#440154" stroke="#440154"/>
<circle cx="447.4" cy="732.9" r="5.2" fill="#440154" stroke="#440154"/>
<circle cx="883.9" cy="532.4" r="5.2" fill="#440154" stroke="#440154"/>
<circle cx="765.7" cy="583.2" r="5.2" fill="#229c88" stroke="#229c88"/>
<circle cx="755.3" cy="483.5" r="5.2" fill="#450c5e" stroke="#450c5e"/>
<circle cx="229.6" cy="484.3" r="5.2" fill="#450c5e" stroke="#450c5e"/>
<circle cx="716.0" cy="216.0" r="5.2" fill="#32668d" stroke="#32668d"/>
<circle cx="838.7" cy="165.7" r="5.2" fill="#461668" stroke="#461668"/>
<circle cx="325.3" cy="591.8" r="5.2" fill="#450c5e" stroke="#450c5e"/>
<circle cx="505.9" cy="723.3" r="5.2" fill="#440154" stroke="#440154"/>
<circle cx="755.6" cy="191.4" r="5.2" fill="#440154" stroke="#440154"/>
<circle cx="833.2" cy="550.2" r="5.2" fill="#440154" stroke="#440154"/>
<circle cx="767.4" cy="166.5" r="5.2" fill="#450c5e" stroke="#450c5e"/>
<circle cx="511.9" cy="380.2" r="5.2" fill="#440154" stroke="#440154"/>
<circle cx="267.5" cy="526.5" r="5.2" fill="#3b528a" stroke="#3b528a"/>
<circle cx="601.3" cy="715.6" r="5.2" fill="#450c5e" stroke="#450c5e"/>
<circle cx="402.6" cy="673.4" r="5.2" fill="#461668" stroke="#461668"/>
<circle cx="443.0" cy="574.2" r="5.2" fill="#450c5e" stroke="#450c5e"/>
<circle cx="285.4" cy="683.5" r="5.2" fill="#440154" stroke="#440154"/>
<circle cx="643.9" cy="93.3" r="5.2" fill="#440154" stroke="#440154"/>
<circle cx="658.3" cy="111.7" r="5.2" fill="#440154" stroke="#440154"/>
<circle cx="399.0" cy="763.3" r="5.2" fill="#440154" stroke="#440154"/>
<circle cx="822.3" cy="554.1" r="5.2" fill="#450c5e" stroke="#450c5e"/>
<circle cx="602.0" cy="683.3" r="5.2" fill="#450c5e" stroke="#450c5e"/>
<circle cx="824.2" cy="141.3" r="5.2" fill="#440154" stroke="#440154"/>
<circle cx="275.3" cy="527.5" r="5.2" fill="#461668" stroke="#461668"/>
<circle cx="284.6" cy="633.0" r="5.2" fill="#440154" stroke="#440154"/>
<circle cx="768.9" cy="529.5" r="5.2" fill="#450c5e" stroke="#450c5e"/>
<circle cx="426.4" cy="541.7" r="5.2" fill="#440154" stroke="#440154"/>
<circle cx="721.2" cy="88.1" r="5.2" fill="#440154" stroke="#440154"/>
<circle cx="168.0" cy="374.8" r="5.2" fill="#eae525" stroke="#eae525"/>
<circle cx="660.6" cy="544.8" r="5.2" fill="#32668d" stroke="#32668d"/>
<circle cx="384.4" cy="497.5" r="5.2" fill="#440154" stroke="#440154"/>
<circle cx="859.8" cy="457.9" r="5.2" fill="#461668" stroke="#461668"/>
<circle cx="951.0" cy="309.0" r="5.2" fill="#eae525" stroke="#eae525"/>
<circle cx="251.8" cy="568.5" r="5.2" fill="#440154" stroke="#440154"/>
<circle cx="619.0" cy="244.6" r="5.2" fill="#440154" stroke="#440154"/>
<circle cx="421.6" cy="740.2" r="5.2" fill="#461668" stroke="#461668"/>
<circle cx="522.2" cy="513.5" r="5.2" fill="#eae525" stroke="#eae525"/>
<circle cx="899.1" cy="623.2" r="5.2" fill="#32668d" stroke="#32668d"/>
<circle cx="187.5" cy="189.8" r="5.2" fill="#450c5e" stroke="#450c5e"/>
<circle cx="482.9" cy="211.3" r="5.2" fill="#440154" stroke="#440154"/>
<circle cx="761.0" cy="502.2" r="5.2" fill="#26848d" stroke="#26848d"/>
<circle cx="860.9" cy="593.5" r="5.2" fill="#440154" stroke="#440154"/>
<circle cx="805.7" cy="559.8" r="5.2" fill="#450c5e" stroke="#450c5e"/>
<circle cx="567.3" cy="699.1" r="5.2" fill="#450c5e" stroke="#450c5e"/>
<circle cx="294.1" cy="100.5" r="5.2" fill="#a2d937" stroke="#a2d937"/>
<circle cx="653.6" cy="402.2" r="5.2" fill="#450c5e" stroke="#450c5e"/>
<circle cx="321.2" cy="695.1" r="5.2" fill="#461668" stroke="#461668"/>
<circle cx="865.6" cy="452.6" r="5.2" fill="#440154" stroke="#440154"/>
<circle cx="354.7" cy="782.3" r="5.2" fill="#440154" stroke="#440154"/>
<circle cx="447.0" cy="476.1" r="5.2" fill="#461668" stroke="#461668"/>
<circle cx="332.5" cy="539.0" r="5.2" fill="#a2d937" stroke="#a2d937"/>
<circle cx="485.1" cy="214.2" r="5.2" fill="#461668" stroke="#461668"/>
<circle cx="495.6" cy="710.9" r="5.2" fill="#26848d" stroke="#26848d"/>
<circle cx="920.9" cy="623.5" r="5.2" fill="#26848d" stroke="#26848d"/>
<circle cx="671.9" cy="161.7" r="5.2" fill="#440154" stroke="#440154"/>
<circle cx="612.0" cy="716.0" r="5.2" fill="#26848d" stroke="#26848d"/>
<circle cx="461.0" cy="481.0" r="5.2" fill="#3b528a" stroke="#3b528a"/>
<circle cx="493.2" cy="150.7" r="5.2" fill="#450c5e" stroke="#450c5e"/>
<circle cx="800.8" cy="585.4" r="5.2" fill="#450c5e" stroke="#450c5e"/>
<circle cx="608.3" cy="152.0" r="5.2" fill="#450c5e" stroke="#450c5e"/>
<circle cx="575.0" cy="840.9" r="5.2" fill="#440154" stroke="#440154"/>
<circle cx="490.7" cy="414.0" r="5.2" fill="#450c5e" stroke="#450c5e"/>
<circle cx="613.9" cy="710.5" r="5.2" fill="#440154" stroke="#440154"/>
<circle cx="559.7" cy="786.3" r="5.2" fill="#3b528a" stroke="#3b528a"/>
<circle cx="669.3" cy="252.7" r="5.2" fill="#440154" stroke="#440154"/>
<circle cx="829.5" cy="686.0" r="5.2" fill="#a2d937" stroke="#a2d937"/>
<circle cx="797.5" cy="93.0" r="5.2" fill="#461668" stroke="#461668"/>
<circle cx="606.8" cy="818.2" r="5.2" fill="#440154" stroke="#440154"/>
<circle cx="445.0" cy="691.0" r="5.2" fill="#eae525" stroke="#eae525"/>
<circle cx="509.0" cy="756.5" r="5.2" fill="#450c5e" stroke="#450c5e"/>
<circle cx="971.2" cy="516.4" r="5.2" fill="#440154" stroke="#440154"/>
<circle cx="679.7" cy="220.5" r="5.2" fill="#440154" stroke="#440154"/>
<circle cx="604.8" cy="111.6" r="5.2" fill="#440154" stroke="#440154"/>
<circle cx="299.1" cy="519.3" r="5.2" fill="#450c5e" stroke="#450c5e"/>
<circle cx="813.9" cy="545.2" r="5.2" fill="#461668" stroke="#461668"/>
<circle cx="747.3" cy="187.0" r="5.2" fill="#440154" stroke="#440154"/>
<circle cx="550.1" cy="123.7" r="5.2" fill="#461668" stroke="#461668"/>
<circle cx="327.9" cy="475.6" r="5.2" fill="#440154" stroke="#440154"/>
<circle cx="453.1" cy="414.5" r="5.2" fill="#440154" stroke="#440154"/>
<circle cx="528.4" cy="381.5" r="5.2" fill="#440154" stroke="#440154"/>
<circle cx="689.1" cy="728.5" r="5.2" fill="#440154" stroke="#440154"/>
<circle cx="666.9" cy="231.2" r="5.2" fill="#440154" stroke="#440154"/>
<circle cx="621.0" cy="459.8" r="5.2" fill="#a2d937" stroke="#a2d937"/>
<circle cx="416.7" cy="735.2" r="5.2" fill="#440154" stroke="#440154"/>
<circle cx="696.3" cy="106.5" r="5.2" fill="#450c5e" stroke="#450c5e"/>
<circle cx="679.5" cy="141.6" r="5.2" fill="#440154" stroke="#440154"/>
<circle cx="564.9" cy="781.6" r="5.2" fill="#450c5e" stroke="#450c5e"/>
<circle cx="320.6" cy="578.2" r="5.2" fill="#440154" stroke="#440154"/>
<circle cx="649.1" cy="618.7" r="5.2" fill="#3dba74" stroke="#3dba74"/>
<circle cx="656.8" cy="618.6" r="5.2" fill="#6fcd57" stroke="#6fcd57"/>
<circle cx="703.8" cy="717.2" r="5.2" fill="#440154" stroke="#440154"/>
<circle cx="557.1" cy="730.7" r="5.2" fill="#440154" stroke="#440154"/>
<circle cx="319.4" cy="453.9" r="5.2" fill="#440154" stroke="#440154"/>
<circle cx="937.0" cy="313.5" r="5.2" fill="#eae525" stroke="#eae525"/>
<circle cx="327.1" cy="791.1" r="5.2" fill="#440154" stroke="#440154"/>
<circle cx="506.6" cy="759.2" r="5.2" fill="#440154" stroke="#440154"/>
<circle cx="223.9" cy="109.9" r="5.2" fill="#440154" stroke="#440154"/>
<circle cx="556.9" cy="103.9" r="5.2" fill="#461668" stroke="#461668"/>
<circle cx="736.5" cy="654.7" r="5.2" fill="#440154" stroke="#440154"/>
<circle cx="789.8" cy="489.8" r="5.2" fill="#3b528a" stroke="#3b528a"/>
<circle cx="550.0" cy="576.9" r="5.2" fill="#440154" stroke="#440154"/>
<circle cx="733.6" cy="123.8" r="5.2" fill="#450c5e" stroke="#450c5e"/>
<circle cx="449.2" cy="434.4" r="5.2" fill="#440154" stroke="#440154"/>
<circle cx="824.5" cy="115.2" r="5.2" fill="#440154" stroke="#440154"/>
<circle cx="457.7" cy="534.6" r="5.2" fill="#440154" stroke="#440154"/>
<circle cx="970.3" cy="549.9" r="5.2" fill="#440154" stroke="#440154"/>
<circle cx="296.5" cy="524.5" r="5.2" fill="#440154" stroke="#440154"/>
<circle cx="441.2" cy="492.2" r="5.2" fill="#26848d" stroke="#26848d"/>
<circle cx="909.5" cy="336.0" r="5.2" fill="#461668" stroke="#461668"/>
<circle cx="306.3" cy="253.8" r="5.2" fill="#440154" stroke="#440154"/>
<circle cx="518.3" cy="568.5" r="5.2" fill="#229c88" stroke="#229c88"/>
<circle cx="318.9" cy="627.2" r="5.2" fill="#440154" stroke="#440154"/>
<circle cx="486.3" cy="386.8" r="5.2" fill="#461668" stroke="#461668"/>
<circle cx="677.0" cy="624.7" r="5.2" fill="#26848d" stroke="#26848d"/>
<circle cx="381.0" cy="643.5" r="5.2" fill="#440154" stroke="#440154"/>
<circle cx="936.6" cy="519.0" r="5.2" fill="#440154" stroke="#440154"/>
<circle cx="269.4" cy="637.0" r="5.2" fill="#440154" stroke="#440154"/>
<circle cx="367.6" cy="496.1" r="5.2" fill="#440154" stroke="#440154"/>
<circle cx="728.7" cy="73.5" r="5.2" fill="#440154" stroke="#440154"/>
<circle cx="685.0" cy="84.2" r="5.2" fill="#440154" stroke="#440154"/>
<circle cx="872.0" cy="234.8" r="5.2" fill="#a2d937" stroke="#a2d937"/>
<circle cx="584.1" cy="724.7" r="5.2" fill="#461668" stroke="#461668"/>
<circle cx="518.4" cy="107.1" r="5.2" fill="#461668" stroke="#461668"/>
<circle cx="644.8" cy="731.4" r="5.2" fill="#440154" stroke="#440154"/>
<circle cx="772.6" cy="541.1" r="5.2" fill="#6fcd57" stroke="#6fcd57"/>
<circle cx="450.8" cy="521.8" r="5.2" fill="#450c5e" stroke="#450c5e"/>
<circle cx="392.5" cy="414.8" r="5.2" fill="#3b528a" stroke="#3b528a"/>
<circle cx="579.8" cy="782.3" r="5.2" fill="#440154" stroke="#440154"/>
<circle cx="569.6" cy="131.9" r="5.2" fill="#440154" stroke="#440154"/>
<circle cx="614.9" cy="770.5" r="5.2" fill="#440154" stroke="#440154"/>
<circle cx="844.3" cy="129.3" r="5.2" fill="#440154" stroke="#440154"/>
<circle cx="355.8" cy="677.3" r="5.2" fill="#440154" stroke="#440154"/>
<circle cx="312.9" cy="629.7" r="5.2" fill="#440154" stroke="#440154"/>
<circle cx="268.9" cy="473.6" r="5.2" fill="#440154" stroke="#440154"/>
<circle cx="675.4" cy="233.0" r="5.2" fill="#440154" stroke="#440154"/>
<circle cx="718.5" cy="113.5" r="5.2" fill="#440154" stroke="#440154"/>
<circle cx="681.7" cy="427.7" r="5.2" fill="#461668" stroke="#461668"/>
<circle cx="437.1" cy="539.8" r="5.2" fill="#461668" stroke="#461668"/>
<circle cx="493.8" cy="96.2" r="5.2" fill="#440154" stroke="#440154"/>
<circle cx="655.4" cy="174.1" r="5.2" fill="#440154" stroke="#440154"/>
<circle cx="427.6" cy="513.3" r="5.2" fill="#440154" stroke="#440154"/>
<circle cx="535.3" cy="599.5" r="5.2" fill="#440154" stroke="#440154"/>
<circle cx="745.7" cy="571.3" r="5.2" fill="#26848d" stroke="#26848d"/>
<circle cx="298.6" cy="762.1" r="5.2" fill="#440154" stroke="#440154"/>
<circle cx="651.9" cy="61.2" r="5.2" fill="#440154" stroke="#440154"/>
<circle cx="910.3" cy="532.1" r="5.2" fill="#440154" stroke="#440154"/>
<circle cx="645.5" cy="239.2" r="5.2" fill="#461668" stroke="#461668"/>
<circle cx="706.6" cy="749.2" r="5.2" fill="#440154" stroke="#440154"/>
<circle cx="604.8" cy="448.5" r="5.2" fill="#26848d" stroke="#26848d"/>
<circle cx="710.3" cy="564.4" r="5.2" fill="#440154" stroke="#440154"/>
<circle cx="187.0" cy="399.0" r="5.2" fill="#3b528a" stroke="#3b528a"/>
<circle cx="312.6" cy="248.1" r="5.2" fill="#461668" stroke="#461668"/>
<circle cx="598.0" cy="750.3" r="5.2" fill="#461668" stroke="#461668"/>
<circle cx="653.8" cy="141.0" r="5.2" fill="#440154" stroke="#440154"/>
<circle cx="533.8" cy="736.3" r="5.2" fill="#440154" stroke="#440154"/>
<circle cx="351.1" cy="626.4" r="5.2" fill="#440154" stroke="#440154"/>
<circle cx="375.1" cy="774.8" r="5.2" fill="#440154" stroke="#440154"/>
<circle cx="687.8" cy="111.6" r="5.2" fill="#461668" stroke="#461668"/>
<circle cx="656.9" cy="153.1" r="5.2" fill="#461668" stroke="#461668"/>
<circle cx="337.5" cy="735.8" r="5.2" fill="#3b528a" stroke="#3b528a"/>
<circle cx="382.7" cy="696.2" r="5.2" fill="#440154" stroke="#440154"/>
<circle cx="548.7" cy="132.5" r="5.2" fill="#450c5e" stroke="#450c5e"/>
<circle cx="178.2" cy="188.2" r="5.2" fill="#440154" stroke="#440154"/>
<circle cx="687.7" cy="624.1" r="5.2" fill="#6fcd57" stroke="#6fcd57"/>
<circle cx="426.4" cy="664.8" r="5.2" fill="#450c5e" stroke="#450c5e"/>
<circle cx="431.2" cy="638.6" r="5.2" fill="#440154" stroke="#440154"/>
<circle cx="292.5" cy="265.5" r="5.2" fill="#440154" stroke="#440154"/>
<circle cx="809.5" cy="637.2" r="5.2" fill="#26848d" stroke="#26848d"/>
<circle cx="435.0" cy="701.0" r="5.2" fill="#3dba74" stroke="#3dba74"/>
<circle cx="675.5" cy="427.1" r="5.2" fill="#440154" stroke="#440154"/>
<circle cx="661.4" cy="71.1" r="5.2" fill="#440154" stroke="#440154"/>
<circle cx="662.4" cy="437.2" r="5.2" fill="#440154" stroke="#440154"/>
<circle cx="699.8" cy="463.5" r="5.2" fill="#3dba74" stroke="#3dba74"/>
<circle cx="503.6" cy="196.4" r="5.2" fill="#440154" stroke="#440154"/>
<circle cx="488.6" cy="391.9" r="5.2" fill="#440154" stroke="#440154"/>
<circle cx="495.9" cy="698.9" r="5.2" fill="#461668" stroke="#461668"/>
<circle cx="344.0" cy="472.2" r="5.2" fill="#461668" stroke="#461668"/>
<circle cx="620.5" cy="236.7" r="5.2" fill="#440154" stroke="#440154"/>
<circle cx="1043.2" cy="484.5" r="5.2" fill="#440154" stroke="#440154"/>
<circle cx="889.8" cy="147.4" r="5.2" fill="#450c5e" stroke="#450c5e"/>
<circle cx="513.3" cy="402.0" r="5.2" fill="#461668" stroke="#461668"/>
<circle cx="328.7" cy="625.3" r="5.2" fill="#440154" stroke="#440154"/>
<circle cx="722.7" cy="129.6" r="5.2" fill="#461668" stroke="#461668"/>
<circle cx="287.2" cy="479.9" r="5.2" fill="#450c5e" stroke="#450c5e"/>
<circle cx="557.2" cy="502.2" r="5.2" fill="#3dba74" stroke="#3dba74"/>
<circle cx="357.2" cy="692.4" r="5.2" fill="#440154" stroke="#440154"/>
<circle cx="289.1" cy="678.7" r="5.2" fill="#440154" stroke="#440154"/>
<circle cx="803.6" cy="98.3" r="5.2" fill="#440154" stroke="#440154"/>
<circle cx="598.5" cy="729.4" r="5.2" fill="#440154" stroke="#440154"/>
<circle cx="876.9" cy="126.9" r="5.2" fill="#440154" stroke="#440154"/>
<circle cx="704.8" cy="127.9" r="5.2" fill="#440154" stroke="#440154"/>
<circle cx="661.9" cy="97.0" r="5.2" fill="#440154" stroke="#440154"/>
<circle cx="934.0" cy="621.3" r="5.2" fill="#461668" stroke="#461668"/>
<circle cx="858.1" cy="584.6" r="5.2" fill="#440154" stroke="#440154"/>
<circle cx="631.0" cy="466.0" r="5.2" fill="#3dba74" stroke="#3dba74"/>
<circle cx="518.9" cy="430.2" r="5.2" fill="#440154" stroke="#440154"/>
<circle cx="726.9" cy="80.0" r="5.2" fill="#461668" stroke="#461668"/>
<circle cx="922.4" cy="565.8" r="5.2" fill="#440154" stroke="#440154"/>
<circle cx="364.0" cy="698.2" r="5.2" fill="#440154" stroke="#440154"/>
<circle cx="905.8" cy="302.2" r="5.2" fill="#440154" stroke="#440154"/>
<circle cx="651.9" cy="230.7" r="5.2" fill="#440154" stroke="#440154"/>
<circle cx="182.7" cy="187.9" r="5.2" fill="#440154" stroke="#440154"/>
<circle cx="412.1" cy="656.9" r="5.2" fill="#440154" stroke="#440154"/>
<circle cx="608.5" cy="434.8" r="5.2" fill="#3b528a" stroke="#3b528a"/>
<circle cx="691.6" cy="719.0" r="5.2" fill="#32668d" stroke="#32668d"/>
<circle cx="978.1" cy="529.4" r="5.2" fill="#26848d" stroke="#26848d"/>
<circle cx="344.7" cy="796.5" r="5.2" fill="#440154" stroke="#440154"/>
<circle cx="905.1" cy="559.0" r="5.2" fill="#440154" stroke="#440154"/>
<circle cx="373.2" cy="609.2" r="5.2" fill="#450c5e" stroke="#450c5e"/>
<circle cx="981.0" cy="484.7" r="5.2" fill="#461668" stroke="#461668"/>
<circle cx="947.0" cy="331.0" r="5.2" fill="#3dba74" stroke="#3dba74"/>
<circle cx="401.0" cy="774.4" r="5.2" fill="#461668" stroke="#461668"/>
<circle cx="1001.2" cy="561.5" r="5.2" fill="#26848d" stroke="#26848d"/>
<circle cx="498.9" cy="97.3" r="5.2" fill="#440154" stroke="#440154"/>
<circle cx="364.8" cy="486.1" r="5.2" fill="#440154" stroke="#440154"/>
<circle cx="758.1" cy="606.8" r="5.2" fill="#461668" stroke="#461668"/>
<circle cx="753.0" cy="96.1" r="5.2" fill="#440154" stroke="#440154"/>
<circle cx="308.0" cy="598.4" r="5.2" fill="#461668" stroke="#461668"/>
<circle cx="687.6" cy="237.0" r="5.2" fill="#440154" stroke="#440154"/>
<circle cx="752.2" cy="116.4" r="5.2" fill="#461668" stroke="#461668"/>
<circle cx="495.2" cy="664.7" r="5.2" fill="#440154" stroke="#440154"/>
<circle cx="412.6" cy="506.3" r="5.2" fill="#440154" stroke="#440154"/>
<circle cx="912.0" cy="326.0" r="5.2" fill="#eae525" stroke="#eae525"/>
<circle cx="758.5" cy="435.3" r="5.2" fill="#440154" stroke="#440154"/>
<circle cx="814.5" cy="158.5" r="5.2" fill="#461668" stroke="#461668"/>
<circle cx="728.1" cy="668.2" r="5.2" fill="#229c88" stroke="#229c88"/>
<circle cx="295.0" cy="718.5" r="5.2" fill="#26848d" stroke="#26848d"/>
<circle cx="991.0" cy="600.9" r="5.2" fill="#3b528a" stroke="#3b528a"/>
<circle cx="633.9" cy="546.8" r="5.2" fill="#26848d" stroke="#26848d"/>
<circle cx="303.4" cy="439.0" r="5.2" fill="#440154" stroke="#440154"/>
<circle cx="461.9" cy="389.7" r="5.2" fill="#450c5e" stroke="#450c5e"/>
<circle cx="959.5" cy="433.5" r="5.2" fill="#eae525" stroke="#eae525"/>
<circle cx="315.1" cy="461.0" r="5.2" fill="#450c5e" stroke="#450c5e"/>
<circle cx="583.1" cy="452.9" r="5.2" fill="#450c5e" stroke="#450c5e"/>
<circle cx="507.0" cy="387.3" r="5.2" fill="#450c5e" stroke="#450c5e"/>
<circle cx="631.0" cy="131.2" r="5.2" fill="#440154" stroke="#440154"/>
<circle cx="909.5" cy="277.2" r="5.2" fill="#461668" stroke="#461668"/>
<circle cx="793.9" cy="165.6" r="5.2" fill="#461668" stroke="#461668"/>
<circle cx="899.9" cy="604.6" r="5.2" fill="#440154" stroke="#440154"/>
<circle cx="239.6" cy="522.2" r="5.2" fill="#440154" stroke="#440154"/>
<circle cx="905.0" cy="319.0" r="5.2" fill="#eae525" stroke="#eae525"/>
<circle cx="519.7" cy="742.8" r="5.2" fill="#450c5e" stroke="#450c5e"/>
<circle cx="342.0" cy="775.0" r="5.2" fill="#440154" stroke="#440154"/>
<circle cx="264.6" cy="103.2" r="5.2" fill="#461668" stroke="#461668"/>
<circle cx="270.0" cy="102.3" r="5.2" fill="#440154" stroke="#440154"/>
<circle cx="647.0" cy="540.7" r="5.2" fill="#32668d" stroke="#32668d"/>
<circle cx="312.5" cy="542.5" r="5.2" fill="#26848d" stroke="#26848d"/>
<circle cx="468.9" cy="529.8" r="5.2" fill="#461668" stroke="#461668"/>
<circle cx="560.4" cy="680.5" r="5.2" fill="#440154" stroke="#440154"/>
<circle cx="885.9" cy="509.5" r="5.2" fill="#3dba74" stroke="#3dba74"/>
<circle cx="1029.7" cy="488.8" r="5.2" fill="#440154" stroke="#440154"/>
<circle cx="669.5" cy="719.2" r="5.2" fill="#440154" stroke="#440154"/>
<circle cx="702.7" cy="732.1" r="5.2" fill="#440154" stroke="#440154"/>
<circle cx="602.2" cy="690.9" r="5.2" fill="#440154" stroke="#440154"/>
<circle cx="655.7" cy="749.2" r="5.2" fill="#440154" stroke="#440154"/>
<circle cx="738.4" cy="489.1" r="5.2" fill="#440154" stroke="#440154"/>
<circle cx="771.3" cy="640.3" r="5.2" fill="#440154" stroke="#440154"/>
<circle cx="827.0" cy="673.5" r="5.2" fill="#461668" stroke="#461668"/>
<circle cx="588.3" cy="832.4" r="5.2" fill="#440154" stroke="#440154"/>
<circle cx="512.1" cy="724.8" r="5.2" fill="#450c5e" stroke="#450c5e"/>
<circle cx="692.1" cy="583.4" r="5.2" fill="#229c88" stroke="#229c88"/>
<circle cx="668.5" cy="130.3" r="5.2" fill="#440154" stroke="#440154"/>
<circle cx="299.2" cy="234.8" r="5.2" fill="#26848d" stroke="#26848d"/>
<circle cx="523.3" cy="108.8" r="5.2" fill="#461668" stroke="#461668"/>
<circle cx="880.7" cy="497.6" r="5.2" fill="#26848d" stroke="#26848d"/>
<circle cx="963.5" cy="529.9" r="5.2" fill="#440154" stroke="#440154"/>
<circle cx="337.2" cy="714.3" r="5.2" fill="#440154" stroke="#440154"/>
<circle cx="682.2" cy="155.5" r="5.2" fill="#3b528a" stroke="#3b528a"/>
<circle cx="549.2" cy="95.2" r="5.2" fill="#461668" stroke="#461668"/>
<circle cx="320.0" cy="711.0" r="5.2" fill="#3dba74" stroke="#3dba74"/>
<circle cx="473.7" cy="768.4" r="5.2" fill="#440154" stroke="#440154"/>
<circle cx="875.8" cy="308.5" r="5.2" fill="#a2d937" stroke="#a2d937"/>
<circle cx="889.2" cy="582.5" r="5.2" fill="#440154" stroke="#440154"/>
<circle cx="1033.6" cy="505.1" r="5.2" fill="#461668" stroke="#461668"/>
<circle cx="236.5" cy="113.2" r="5.2" fill="#461668" stroke="#461668"/>
<circle cx="762.5" cy="434.7" r="5.2" fill="#440154" stroke="#440154"/>
<circle cx="547.1" cy="74.7" r="5.2" fill="#440154" stroke="#440154"/>
<circle cx="271.7" cy="462.9" r="5.2" fill="#461668" stroke="#461668"/>
<circle cx="535.8" cy="72.3" r="5.2" fill="#440154" stroke="#440154"/>
<circle cx="737.6" cy="621.3" r="5.2" fill="#440154" stroke="#440154"/>
<circle cx="457.4" cy="239.0" r="5.2" fill="#26848d" stroke="#26848d"/>
<circle cx="387.1" cy="528.1" r="5.2" fill="#440154" stroke="#440154"/>
<circle cx="845.0" cy="631.3" r="5.2" fill="#440154" stroke="#440154"/>
<circle cx="772.7" cy="143.5" r="5.2" fill="#440154" stroke="#440154"/>
<circle cx="895.4" cy="523.0" r="5.2" fill="#32668d" stroke="#32668d"/>
<circle cx="677.7" cy="108.9" r="5.2" fill="#450c5e" stroke="#450c5e"/>
<circle cx="713.4" cy="120.3" r="5.2" fill="#440154" stroke="#440154"/>
<circle cx="535.8" cy="725.5" r="5.2" fill="#440154" stroke="#440154"/>
<circle cx="1028.5" cy="521.7" r="5.2" fill="#440154" stroke="#440154"/>
<circle cx="585.4" cy="414.7" r="5.2" fill="#461668" stroke="#461668"/>
<circle cx="400.9" cy="766.7" r="5.2" fill="#440154" stroke="#440154"/>
<circle cx="506.8" cy="721.8" r="5.2" fill="#461668" stroke="#461668"/>
<circle cx="708.7" cy="648.1" r="5.2" fill="#26848d" stroke="#26848d"/>
<circle cx="857.7" cy="575.5" r="5.2" fill="#32668d" stroke="#32668d"/>
<circle cx="341.1" cy="762.9" r="5.2" fill="#440154" stroke="#440154"/>
<circle cx="440.7" cy="542.7" r="5.2" fill="#440154" stroke="#440154"/>
<circle cx="850.6" cy="612.4" r="5.2" fill="#440154" stroke="#440154"/>
<circle cx="977.0" cy="337.2" r="5.2" fill="#229c88" stroke="#229c88"/>
<circle cx="553.5" cy="461.0" r="5.2" fill="#26848d" stroke="#26848d"/>
<circle cx="318.6" cy="434.7" r="5.2" fill="#440154" stroke="#440154"/>
<circle cx="819.0" cy="635.1" r="5.2" fill="#440154" stroke="#440154"/>
<circle cx="508.5" cy="403.5" r="5.2" fill="#3dba74" stroke="#3dba74"/>
<circle cx="712.4" cy="554.9" r="5.2" fill="#3dba74" stroke="#3dba74"/>
<circle cx="458.1" cy="243.3" r="5.2" fill="#461668" stroke="#461668"/>
<circle cx="509.7" cy="677.8" r="5.2" fill="#461668" stroke="#461668"/>
<circle cx="461.1" cy="460.2" r="5.2" fill="#440154" stroke="#440154"/>
<circle cx="724.4" cy="596.7" r="5.2" fill="#440154" stroke="#440154"/>
<circle cx="702.5" cy="651.7" r="5.2" fill="#229c88" stroke="#229c88"/>
<circle cx="304.2" cy="760.7" r="5.2" fill="#440154" stroke="#440154"/>
<circle cx="667.7" cy="736.1" r="5.2" fill="#461668" stroke="#461668"/>
<circle cx="874.3" cy="447.5" r="5.2" fill="#440154" stroke="#440154"/>
<circle cx="332.5" cy="721.0" r="5.2" fill="#26848d" stroke="#26848d"/>
<circle cx="585.0" cy="666.2" r="5.2" fill="#461668" stroke="#461668"/>
<circle cx="702.1" cy="208.4" r="5.2" fill="#461668" stroke="#461668"/>
<circle cx="698.4" cy="752.8" r="5.2" fill="#440154" stroke="#440154"/>
<circle cx="450.0" cy="374.8" r="5.2" fill="#3b528a" stroke="#3b528a"/>
<circle cx="999.1" cy="488.6" r="5.2" fill="#3dba74" stroke="#3dba74"/>
<circle cx="891.5" cy="302.2" r="5.2" fill="#3b528a" stroke="#3b528a"/>
<circle cx="689.0" cy="431.2" r="5.2" fill="#461668" stroke="#461668"/>
<circle cx="311.1" cy="767.4" r="5.2" fill="#461668" stroke="#461668"/>
<circle cx="473.4" cy="388.0" r="5.2" fill="#440154" stroke="#440154"/>
<circle cx="645.3" cy="687.5" r="5.2" fill="#440154" stroke="#440154"/>
<circle cx="240.7" cy="115.1" r="5.2" fill="#450c5e" stroke="#450c5e"/>
<circle cx="651.0" cy="483.5" r="5.2" fill="#26848d" stroke="#26848d"/>
<circle cx="660.9" cy="426.8" r="5.2" fill="#440154" stroke="#440154"/>
<circle cx="1029.9" cy="528.7" r="5.2" fill="#440154" stroke="#440154"/>
<circle cx="391.8" cy="756.7" r="5.2" fill="#440154" stroke="#440154"/>
<circle cx="450.1" cy="616.5" r="5.2" fill="#440154" stroke="#440154"/>
<circle cx="526.4" cy="781.9" r="5.2" fill="#440154" stroke="#440154"/>
<circle cx="713.0" cy="428.6" r="5.2" fill="#440154" stroke="#440154"/>
<circle cx="927.0" cy="289.8" r="5.2" fill="#461668" stroke="#461668"/>
<circle cx="357.8" cy="553.0" r="5.2" fill="#461668" stroke="#461668"/>
<circle cx="450.5" cy="608.5" r="5.2" fill="#440154" stroke="#440154"/>
<circle cx="581.7" cy="676.7" r="5.2" fill="#461668" stroke="#461668"/>
<circle cx="635.1" cy="93.3" r="5.2" fill="#440154" stroke="#440154"/>
<circle cx="461.0" cy="793.1" r="5.2" fill="#440154" stroke="#440154"/>
<circle cx="301.7" cy="630.3" r="5.2" fill="#440154" stroke="#440154"/>
<circle cx="699.8" cy="142.3" r="5.2" fill="#440154" stroke="#440154"/>
<circle cx="258.5" cy="457.9" r="5.2" fill="#440154" stroke="#440154"/>
<circle cx="549.3" cy="808.3" r="5.2" fill="#461668" stroke="#461668"/>
<circle cx="529.6" cy="796.8" r="5.2" fill="#440154" stroke="#440154"/>
<circle cx="722.5" cy="638.7" r="5.2" fill="#6fcd57" stroke="#6fcd57"/>
<circle cx="289.8" cy="505.4" r="5.2" fill="#440154" stroke="#440154"/>
<circle cx="849.0" cy="692.2" r="5.2" fill="#26848d" stroke="#26848d"/>
<circle cx="611.6" cy="163.6" r="5.2" fill="#440154" stroke="#440154"/>
<circle cx="599.5" cy="677.4" r="5.2" fill="#461668" stroke="#461668"/>
<circle cx="802.4" cy="614.8" r="5.2" fill="#450c5e" stroke="#450c5e"/>
<circle cx="678.6" cy="557.9" r="5.2" fill="#26848d" stroke="#26848d"/>
<circle cx="651.7" cy="111.9" r="5.2" fill="#440154" stroke="#440154"/>
<circle cx="190.0" cy="170.5" r="5.2" fill="#461668" stroke="#461668"/>
<circle cx="1034.4" cy="510.5" r="5.2" fill="#440154" stroke="#440154"/>
<circle cx="712.4" cy="97.6" r="5.2" fill="#440154" stroke="#440154"/>
<circle cx="402.5" cy="638.5" r="5.2" fill="#26848d" stroke="#26848d"/>
<circle cx="636.1" cy="84.2" r="5.2" fill="#440154" stroke="#440154"/>
<circle cx="295.4" cy="667.4" r="5.2" fill="#440154" stroke="#440154"/>
<circle cx="361.1" cy="569.7" r="5.2" fill="#440154" stroke="#440154"/>
<circle cx="320.4" cy="636.1" r="5.2" fill="#440154" stroke="#440154"/>
<circle cx="588.5" cy="634.7" r="5.2" fill="#440154" stroke="#440154"/>
<circle cx="845.8" cy="501.6" r="5.2" fill="#440154" stroke="#440154"/>
<circle cx="859.7" cy="475.0" r="5.2" fill="#440154" stroke="#440154"/>
<circle cx="459.5" cy="739.7" r="5.2" fill="#440154" stroke="#440154"/>
<circle cx="774.7" cy="671.9" r="5.2" fill="#3b528a" stroke="#3b528a"/>
<circle cx="964.5" cy="426.0" r="5.2" fill="#3dba74" stroke="#3dba74"/>
<circle cx="400.7" cy="629.6" r="5.2" fill="#461668" stroke="#461668"/>
<circle cx="973.0" cy="606.5" r="5.2" fill="#26848d" stroke="#26848d"/>
<circle cx="661.7" cy="130.0" r="5.2" fill="#440154" stroke="#440154"/>
<circle cx="611.6" cy="718.7" r="5.2" fill="#440154" stroke="#440154"/>
<circle cx="140.0" cy="388.0" r="5.2" fill="#440154" stroke="#440154"/>
<circle cx="316.6" cy="483.5" r="5.2" fill="#440154" stroke="#440154"/>
<circle cx="543.2" cy="734.8" r="5.2" fill="#440154" stroke="#440154"/>
<circle cx="650.4" cy="78.6" r="5.2" fill="#440154" stroke="#440154"/>
<circle cx="933.0" cy="330.0" r="5.2" fill="#eae525" stroke="#eae525"/>
<circle cx="670.0" cy="236.2" r="5.2" fill="#450c5e" stroke="#450c5e"/>
<circle cx="616.0" cy="461.0" r="5.2" fill="#a2d937" stroke="#a2d937"/>
<circle cx="671.1" cy="124.2" r="5.2" fill="#461668" stroke="#461668"/>
<circle cx="663.5" cy="479.8" r="5.2" fill="#3b528a" stroke="#3b528a"/>
<circle cx="407.3" cy="723.0" r="5.2" fill="#440154" stroke="#440154"/>
<circle cx="1028.0" cy="543.8" r="5.2" fill="#3b528a" stroke="#3b528a"/>
<circle cx="627.0" cy="736.7" r="5.2" fill="#3dba74" stroke="#3dba74"/>
<circle cx="800.8" cy="107.0" r="5.2" fill="#440154" stroke="#440154"/>
<circle cx="866.9" cy="473.9" r="5.2" fill="#440154" stroke="#440154"/>
<circle cx="236.1" cy="100.6" r="5.2" fill="#461668" stroke="#461668"/>
<circle cx="422.5" cy="462.2" r="5.2" fill="#3b528a" stroke="#3b528a"/>
<circle cx="535.7" cy="711.8" r="5.2" fill="#440154" stroke="#440154"/>
<circle cx="400.8" cy="502.8" r="5.2" fill="#440154" stroke="#440154"/>
<circle cx="785.7" cy="637.5" r="5.2" fill="#26848d" stroke="#26848d"/>
<circle cx="540.1" cy="99.6" r="5.2" fill="#461668" stroke="#461668"/>
<circle cx="613.2" cy="178.9" r="5.2" fill="#440154" stroke="#440154"/>
<circle cx="743.8" cy="92.5" r="5.2" fill="#450c5e" stroke="#450c5e"/>
<circle cx="1009.7" cy="583.4" r="5.2" fill="#440154" stroke="#440154"/>
<circle cx="305.9" cy="437.9" r="5.2" fill="#450c5e" stroke="#450c5e"/>
<circle cx="441.2" cy="723.7" r="5.2" fill="#450c5e" stroke="#450c5e"/>
<circle cx="654.5" cy="593.2" r="5.2" fill="#3b528a" stroke="#3b528a"/>
<circle cx="921.0" cy="306.0" r="5.2" fill="#eae525" stroke="#eae525"/>
<circle cx="625.9" cy="98.8" r="5.2" fill="#440154" stroke="#440154"/>
<circle cx="437.2" cy="383.6" r="5.2" fill="#440154" stroke="#440154"/>
<circle cx="657.6" cy="796.7" r="5.2" fill="#461668" stroke="#461668"/>
<circle cx="385.3" cy="610.2" r="5.2" fill="#440154" stroke="#440154"/>
<circle cx="536.6" cy="723.5" r="5.2" fill="#450c5e" stroke="#450c5e"/>
<circle cx="460.4" cy="794.3" r="5.2" fill="#440154" stroke="#440154"/>
<circle cx="675.8" cy="601.3" r="5.2" fill="#3b528a" stroke="#3b528a"/>
<circle cx="840.3" cy="119.0" r="5.2" fill="#440154" stroke="#440154"/>
<circle cx="902.0" cy="317.2" r="5.2" fill="#eae525" stroke="#eae525"/>
<circle cx="368.7" cy="770.3" r="5.2" fill="#440154" stroke="#440154"/>
<circle cx="680.5" cy="211.1" r="5.2" fill="#450c5e" stroke="#450c5e"/>
<circle cx="382.5" cy="646.8" r="5.2" fill="#440154" stroke="#440154"/>
<circle cx="732.5" cy="105.8" r="5.2" fill="#461668" stroke="#461668"/>
<circle cx="608.6" cy="130.4" r="5.2" fill="#450c5e" stroke="#450c5e"/>
<circle cx="370.2" cy="448.6" r="5.2" fill="#440154" stroke="#440154"/>
<circle cx="707.5" cy="119.3" r="5.2" fill="#440154" stroke="#440154"/>
<circle cx="865.8" cy="234.8" r="5.2" fill="#a2d937" stroke="#a2d937"/>
<circle cx="255.0" cy="581.5" r="5.2" fill="#440154" stroke="#440154"/>
<circle cx="597.3" cy="440.3" r="5.2" fill="#450c5e" stroke="#450c5e"/>
<circle cx="450.8" cy="252.1" r="5.2" fill="#3b528a" stroke="#3b528a"/>
<circle cx="581.0" cy="413.5" r="5.2" fill="#6fcd57" stroke="#6fcd57"/>
<circle cx="670.4" cy="78.8" r="5.2" fill="#461668" stroke="#461668"/>
<circle cx="137.0" cy="389.5" r="5.2" fill="#440154" stroke="#440154"/>
<circle cx="358.2" cy="571.7" r="5.2" fill="#440154" stroke="#440154"/>
<circle cx="598.5" cy="715.4" r="5.2" fill="#440154" stroke="#440154"/>
<circle cx="631.0" cy="489.8" r="5.2" fill="#a2d937" stroke="#a2d937"/>
<circle cx="535.0" cy="594.7" r="5.2" fill="#440154" stroke="#440154"/>
<circle cx="832.1" cy="542.2" r="5.2" fill="#440154" stroke="#440154"/>
<circle cx="995.1" cy="552.7" r="5.2" fill="#3b528a" stroke="#3b528a"/>
<circle cx="779.3" cy="497.5" r="5.2" fill="#440154" stroke="#440154"/>
<circle cx="738.2" cy="536.7" r="5.2" fill="#a2d937" stroke="#a2d937"/>
<circle cx="857.2" cy="548.5" r="5.2" fill="#450c5e" stroke="#450c5e"/>
<circle cx="758.7" cy="110.3" r="5.2" fill="#440154" stroke="#440154"/>
<circle cx="350.2" cy="764.6" r="5.2" fill="#440154" stroke="#440154"/>
<circle cx="894.7" cy="511.1" r="5.2" fill="#440154" stroke="#440154"/>
<circle cx="231.0" cy="114.4" r="5.2" fill="#440154" stroke="#440154"/>
<circle cx="731.0" cy="468.5" r="5.2" fill="#26848d" stroke="#26848d"/>
<circle cx="615.8" cy="92.7" r="5.2" fill="#440154" stroke="#440154"/>
<circle cx="792.8" cy="528.2" r="5.2" fill="#440154" stroke="#440154"/>
<circle cx="383.6" cy="780.4" r="5.2" fill="#440154" stroke="#440154"/>
<circle cx="310.0" cy="597.2" r="5.2" fill="#3b528a" stroke="#3b528a"/>
<circle cx="930.8" cy="288.5" r="5.2" fill="#3b528a" stroke="#3b528a"/>
<circle cx="542.3" cy="736.1" r="5.2" fill="#440154" stroke="#440154"/>
<circle cx="462.6" cy="753.9" r="5.2" fill="#461668" stroke="#461668"/>
<circle cx="347.2" cy="452.4" r="5.2" fill="#440154" stroke="#440154"/>
<circle cx="550.4" cy="106.8" r="5.2" fill="#440154" stroke="#440154"/>
<circle cx="502.8" cy="131.1" r="5.2" fill="#440154" stroke="#440154"/>
<circle cx="664.0" cy="50.0" r="5.2" fill="#461668" stroke="#461668"/>
<circle cx="882.6" cy="438.1" r="5.2" fill="#440154" stroke="#440154"/>
<circle cx="701.4" cy="663.0" r="5.2" fill="#6fcd57" stroke="#6fcd57"/>
<circle cx="344.8" cy="755.2" r="5.2" fill="#440154" stroke="#440154"/>
<circle cx="815.9" cy="102.0" r="5.2" fill="#440154" stroke="#440154"/>
<circle cx="656.1" cy="253.9" r="5.2" fill="#440154" stroke="#440154"/>
<circle cx="301.0" cy="258.6" r="5.2" fill="#440154" stroke="#440154"/>
<circle cx="382.5" cy="681.0" r="5.2" fill="#3b528a" stroke="#3b528a"/>
<circle cx="446.7" cy="572.8" r="5.2" fill="#440154" stroke="#440154"/>
<circle cx="395.8" cy="701.5" r="5.2" fill="#440154" stroke="#440154"/>
<circle cx="538.4" cy="568.7" r="5.2" fill="#3b528a" stroke="#3b528a"/>
<circle cx="661.9" cy="702.6" r="5.2" fill="#461668" stroke="#461668"/>
<circle cx="961.4" cy="627.4" r="5.2" fill="#26848d" stroke="#26848d"/>
<circle cx="602.0" cy="89.8" r="5.2" fill="#450c5e" stroke="#450c5e"/>
<circle cx="598.2" cy="791.7" r="5.2" fill="#461668" stroke="#461668"/>
<circle cx="705.5" cy="445.5" r="5.2" fill="#461668" stroke="#461668"/>
<circle cx="839.6" cy="513.1" r="5.2" fill="#440154" stroke="#440154"/>
<circle cx="299.8" cy="554.9" r="5.2" fill="#450c5e" stroke="#450c5e"/>
<circle cx="318.1" cy="593.5" r="5.2" fill="#440154" stroke="#440154"/>
<circle cx="405.8" cy="439.0" r="5.2" fill="#440154" stroke="#440154"/>
<circle cx="834.1" cy="574.6" r="5.2" fill="#450c5e" stroke="#450c5e"/>
<circle cx="235.9" cy="519.4" r="5.2" fill="#440154" stroke="#440154"/>
<circle cx="863.3" cy="631.6" r="5.2" fill="#450c5e" stroke="#450c5e"/>
<circle cx="634.4" cy="235.6" r="5.2" fill="#440154" stroke="#440154"/>
<circle cx="842.0" cy="652.2" r="5.2" fill="#450c5e" stroke="#450c5e"/>
<circle cx="360.0" cy="397.5" r="5.2" fill="#440154" stroke="#440154"/>
<circle cx="1030.4" cy="488.5" r="5.2" fill="#440154" stroke="#440154"/>
<circle cx="506.0" cy="669.9" r="5.2" fill="#32668d" stroke="#32668d"/>
<circle cx="760.1" cy="97.8" r="5.2" fill="#461668" stroke="#461668"/>
<circle cx="641.5" cy="154.8" r="5.2" fill="#461668" stroke="#461668"/>
<circle cx="721.9" cy="674.7" r="5.2" fill="#3dba74" stroke="#3dba74"/>
<circle cx="1002.7" cy="516.3" r="5.2" fill="#461668" stroke="#461668"/>
<circle cx="551.3" cy="708.6" r="5.2" fill="#440154" stroke="#440154"/>
<circle cx="954.8" cy="482.5" r="5.2" fill="#3b528a" stroke="#3b528a"/>
<circle cx="664.2" cy="142.9" r="5.2" fill="#440154" stroke="#440154"/>
<circle cx="253.0" cy="579.5" r="5.2" fill="#440154" stroke="#440154"/>
<circle cx="628.5" cy="428.5" r="5.2" fill="#26848d" stroke="#26848d"/>
<circle cx="774.1" cy="138.9" r="5.2" fill="#450c5e" stroke="#450c5e"/>
<circle cx="237.4" cy="114.6" r="5.2" fill="#461668" stroke="#461668"/>
<circle cx="539.6" cy="812.3" r="5.2" fill="#440154" stroke="#440154"/>
<circle cx="379.9" cy="751.1" r="5.2" fill="#440154" stroke="#440154"/>
<circle cx="800.2" cy="471.2" r="5.2" fill="#440154" stroke="#440154"/>
<circle cx="578.5" cy="512.2" r="5.2" fill="#eae525" stroke="#eae525"/>
<circle cx="323.8" cy="519.0" r="5.2" fill="#26848d" stroke="#26848d"/>
<circle cx="845.5" cy="467.5" r="5.2" fill="#3b528a" stroke="#3b528a"/>
<circle cx="775.3" cy="556.8" r="5.2" fill="#229c88" stroke="#229c88"/>
<circle cx="750.2" cy="431.6" r="5.2" fill="#440154" stroke="#440154"/>
<circle cx="715.6" cy="115.1" r="5.2" fill="#461668" stroke="#461668"/>
<circle cx="775.2" cy="552.6" r="5.2" fill="#229c88" stroke="#229c88"/>
<circle cx="222.0" cy="106.5" r="5.2" fill="#450c5e" stroke="#450c5e"/>
<circle cx="806.4" cy="110.6" r="5.2" fill="#440154" stroke="#440154"/>
<circle cx="592.2" cy="411.0" r="5.2" fill="#26848d" stroke="#26848d"/>
<circle cx="652.2" cy="412.2" r="5.2" fill="#3b528a" stroke="#3b528a"/>
<circle cx="556.6" cy="678.9" r="5.2" fill="#461668" stroke="#461668"/>
<circle cx="642.9" cy="559.1" r="5.2" fill="#3dba74" stroke="#3dba74"/>
<circle cx="666.8" cy="63.1" r="5.2" fill="#440154" stroke="#440154"/>
<circle cx="713.9" cy="126.0" r="5.2" fill="#440154" stroke="#440154"/>
<circle cx="424.8" cy="630.9" r="5.2" fill="#440154" stroke="#440154"/>
<circle cx="789.6" cy="188.3" r="5.2" fill="#440154" stroke="#440154"/>
<circle cx="511.8" cy="728.5" r="5.2" fill="#440154" stroke="#440154"/>
<circle cx="657.5" cy="140.1" r="5.2" fill="#440154" stroke="#440154"/>
<circle cx="322.8" cy="613.3" r="5.2" fill="#440154" stroke="#440154"/>
<circle cx="616.0" cy="416.3" r="5.2" fill="#450c5e" stroke="#450c5e"/>
<circle cx="995.0" cy="596.3" r="5.2" fill="#450c5e" stroke="#450c5e"/>
<circle cx="671.7" cy="76.2" r="5.2" fill="#440154" stroke="#440154"/>
<circle cx="932.0" cy="338.5" r="5.2" fill="#eae525" stroke="#eae525"/>
<circle cx="386.2" cy="620.0" r="5.2" fill="#26848d" stroke="#26848d"/>
<circle cx="275.7" cy="545.0" r="5.2" fill="#461668" stroke="#461668"/>
<circle cx="560.2" cy="624.0" r="5.2" fill="#440154" stroke="#440154"/>
<circle cx="844.0" cy="155.1" r="5.2" fill="#440154" stroke="#440154"/>
<circle cx="556.5" cy="633.2" r="5.2" fill="#440154" stroke="#440154"/>
<circle cx="948.2" cy="326.0" r="5.2" fill="#26848d" stroke="#26848d"/>
<circle cx="544.3" cy="675.2" r="5.2" fill="#440154" stroke="#440154"/>
<circle cx="651.1" cy="256.2" r="5.2" fill="#450c5e" stroke="#450c5e"/>
<circle cx="396.6" cy="795.1" r="5.2" fill="#461668" stroke="#461668"/>
<circle cx="229.8" cy="101.3" r="5.2" fill="#440154" stroke="#440154"/>
<circle cx="626.4" cy="731.5" r="5.2" fill="#461668" stroke="#461668"/>
<circle cx="781.4" cy="133.4" r="5.2" fill="#461668" stroke="#461668"/>
<circle cx="624.5" cy="432.3" r="5.2" fill="#461668" stroke="#461668"/>
<circle cx="645.8" cy="253.6" r="5.2" fill="#450c5e" stroke="#450c5e"/>
<circle cx="496.7" cy="564.5" r="5.2" fill="#440154" stroke="#440154"/>
<circle cx="607.1" cy="809.0" r="5.2" fill="#440154" stroke="#440154"/>
<circle cx="609.3" cy="244.4" r="5.2" fill="#440154" stroke="#440154"/>
<circle cx="447.5" cy="500.2" r="5.2" fill="#26848d" stroke="#26848d"/>
<circle cx="568.4" cy="701.8" r="5.2" fill="#440154" stroke="#440154"/>
<circle cx="764.2" cy="154.5" r="5.2" fill="#450c5e" stroke="#450c5e"/>
<circle cx="522.2" cy="688.4" r="5.2" fill="#32668d" stroke="#32668d"/>
<circle cx="592.2" cy="458.5" r="5.2" fill="#3b528a" stroke="#3b528a"/>
<circle cx="640.7" cy="154.8" r="5.2" fill="#440154" stroke="#440154"/>
<circle cx="388.8" cy="683.5" r="5.2" fill="#3b528a" stroke="#3b528a"/>
<circle cx="414.3" cy="676.4" r="5.2" fill="#450c5e" stroke="#450c5e"/>
<circle cx="981.7" cy="493.1" r="5.2" fill="#440154" stroke="#440154"/>
<circle cx="825.9" cy="591.1" r="5.2" fill="#440154" stroke="#440154"/>
<circle cx="700.3" cy="675.8" r="5.2" fill="#3dba74" stroke="#3dba74"/>
<circle cx="517.2" cy="584.8" r="5.2" fill="#440154" stroke="#440154"/>
<circle cx="905.7" cy="594.6" r="5.2" fill="#461668" stroke="#461668"/>
<circle cx="279.4" cy="441.3" r="5.2" fill="#450c5e" stroke="#450c5e"/>
<circle cx="676.0" cy="217.7" r="5.2" fill="#440154" stroke="#440154"/>
<circle cx="583.9" cy="715.3" r="5.2" fill="#461668" stroke="#461668"/>
<circle cx="724.0" cy="107.3" r="5.2" fill="#440154" stroke="#440154"/>
<circle cx="338.1" cy="457.8" r="5.2" fill="#440154" stroke="#440154"/>
<circle cx="492.2" cy="589.2" r="5.2" fill="#450c5e" stroke="#450c5e"/>
<circle cx="628.5" cy="511.0" r="5.2" fill="#26848d" stroke="#26848d"/>
<circle cx="562.8" cy="700.0" r="5.2" fill="#440154" stroke="#440154"/>
<circle cx="873.6" cy="593.0" r="5.2" fill="#3b528a" stroke="#3b528a"/>
<circle cx="864.5" cy="641.0" r="5.2" fill="#440154" stroke="#440154"/>
<circle cx="858.5" cy="129.3" r="5.2" fill="#461668" stroke="#461668"/>
<circle cx="749.1" cy="70.4" r="5.2" fill="#440154" stroke="#440154"/>
<circle cx="710.8" cy="659.6" r="5.2" fill="#450c5e" stroke="#450c5e"/>
<circle cx="480.0" cy="580.3" r="5.2" fill="#450c5e" stroke="#450c5e"/>
<circle cx="443.7" cy="621.7" r="5.2" fill="#461668" stroke="#461668"/>
<circle cx="626.6" cy="543.3" r="5.2" fill="#450c5e" stroke="#450c5e"/>
<circle cx="929.5" cy="361.0" r="5.2" fill="#eae525" stroke="#eae525"/>
<circle cx="321.2" cy="252.2" r="5.2" fill="#461668" stroke="#461668"/>
<circle cx="684.5" cy="440.1" r="5.2" fill="#440154" stroke="#440154"/>
<circle cx="601.9" cy="799.7" r="5.2" fill="#440154" stroke="#440154"/>
<circle cx="884.5" cy="648.5" r="5.2" fill="#461668" stroke="#461668"/>
<circle cx="305.0" cy="718.5" r="5.2" fill="#3b528a" stroke="#3b528a"/>
<circle cx="518.5" cy="740.3" r="5.2" fill="#440154" stroke="#440154"/>
<circle cx="664.8" cy="562.8" r="5.2" fill="#461668" stroke="#461668"/>
<circle cx="623.2" cy="241.4" r="5.2" fill="#440154" stroke="#440154"/>
<circle cx="445.8" cy="389.1" r="5.2" fill="#450c5e" stroke="#450c5e"/>
<circle cx="439.7" cy="751.3" r="5.2" fill="#450c5e" stroke="#450c5e"/>
<circle cx="291.1" cy="668.4" r="5.2" fill="#440154" stroke="#440154"/>
<circle cx="828.8" cy="620.2" r="5.2" fill="#3b528a" stroke="#3b528a"/>
<circle cx="334.6" cy="488.1" r="5.2" fill="#440154" stroke="#440154"/>
<circle cx="386.0" cy="581.9" r="5.2" fill="#450c5e" stroke="#450c5e"/>
<circle cx="690.2" cy="196.6" r="5.2" fill="#461668" stroke="#461668"/>
<circle cx="560.8" cy="628.6" r="5.2" fill="#440154" stroke="#440154"/>
<circle cx="721.1" cy="96.5" r="5.2" fill="#440154" stroke="#440154"/>
<circle cx="561.1" cy="146.6" r="5.2" fill="#461668" stroke="#461668"/>
<circle cx="149.0" cy="383.0" r="5.2" fill="#450c5e" stroke="#450c5e"/>
<circle cx="639.0" cy="678.1" r="5.2" fill="#450c5e" stroke="#450c5e"/>
<circle cx="254.1" cy="690.4" r="5.2" fill="#440154" stroke="#440154"/>
<circle cx="820.8" cy="684.8" r="5.2" fill="#3dba74" stroke="#3dba74"/>
<circle cx="671.6" cy="428.0" r="5.2" fill="#440154" stroke="#440154"/>
<circle cx="449.4" cy="250.6" r="5.2" fill="#461668" stroke="#461668"/>
<circle cx="1019.1" cy="621.2" r="5.2" fill="#440154" stroke="#440154"/>
<circle cx="196.5" cy="401.0" r="5.2" fill="#3dba74" stroke="#3dba74"/>
<circle cx="573.9" cy="716.0" r="5.2" fill="#32668d" stroke="#32668d"/>
<circle cx="586.0" cy="463.5" r="5.2" fill="#3b528a" stroke="#3b528a"/>
<circle cx="796.1" cy="479.9" r="5.2" fill="#440154" stroke="#440154"/>
<circle cx="521.7" cy="546.5" r="5.2" fill="#440154" stroke="#440154"/>
<circle cx="795.8" cy="656.0" r="5.2" fill="#3b528a" stroke="#3b528a"/>
<circle cx="845.5" cy="595.3" r="5.2" fill="#450c5e" stroke="#450c5e"/>
<circle cx="739.8" cy="473.5" r="5.2" fill="#26848d" stroke="#26848d"/>
<circle cx="543.3" cy="676.8" r="5.2" fill="#440154" stroke="#440154"/>
<circle cx="650.0" cy="552.0" r="5.2" fill="#440154" stroke="#440154"/>
<circle cx="448.1" cy="549.7" r="5.2" fill="#440154" stroke="#440154"/>
<circle cx="675.3" cy="592.4" r="5.2" fill="#6fcd57" stroke="#6fcd57"/>
<circle cx="405.2" cy="470.0" r="5.2" fill="#461668" stroke="#461668"/>
<circle cx="342.6" cy="402.6" r="5.2" fill="#440154" stroke="#440154"/>
<circle cx="553.2" cy="117.3" r="5.2" fill="#440154" stroke="#440154"/>
<circle cx="528.9" cy="560.9" r="5.2" fill="#440154" stroke="#440154"/>
<circle cx="460.9" cy="509.1" r="5.2" fill="#440154" stroke="#440154"/>
<circle cx="383.7" cy="609.0" r="5.2" fill="#461668" stroke="#461668"/>
<circle cx="867.1" cy="114.9" r="5.2" fill="#461668" stroke="#461668"/>
<circle cx="742.2" cy="72.8" r="5.2" fill="#440154" stroke="#440154"/>
<circle cx="518.1" cy="743.9" r="5.2" fill="#440154" stroke="#440154"/>
<circle cx="673.0" cy="582.9" r="5.2" fill="#26848d" stroke="#26848d"/>
<circle cx="373.2" cy="769.5" r="5.2" fill="#450c5e" stroke="#450c5e"/>
<circle cx="624.5" cy="710.4" r="5.2" fill="#461668" stroke="#461668"/>
<circle cx="575.6" cy="100.0" r="5.2" fill="#440154" stroke="#440154"/>
<circle cx="242.4" cy="107.6" r="5.2" fill="#461668" stroke="#461668"/>
<circle cx="516.5" cy="388.2" r="5.2" fill="#461668" stroke="#461668"/>
<circle cx="749.0" cy="554.8" r="5.2" fill="#6fcd57" stroke="#6fcd57"/>
<circle cx="323.2" cy="681.0" r="5.2" fill="#440154" stroke="#440154"/>
<circle cx="609.6" cy="85.5" r="5.2" fill="#440154" stroke="#440154"/>
<circle cx="459.2" cy="786.0" r="5.2" fill="#461668" stroke="#461668"/>
<circle cx="966.2" cy="573.0" r="5.2" fill="#3b528a" stroke="#3b528a"/>
<circle cx="518.6" cy="650.2" r="5.2" fill="#440154" stroke="#440154"/>
<circle cx="754.6" cy="139.1" r="5.2" fill="#450c5e" stroke="#450c5e"/>
<circle cx="868.2" cy="629.3" r="5.2" fill="#440154" stroke="#440154"/>
<circle cx="920.4" cy="511.6" r="5.2" fill="#3dba74" stroke="#3dba74"/>
<circle cx="620.0" cy="108.5" r="5.2" fill="#450c5e" stroke="#450c5e"/>
<circle cx="963.2" cy="309.8" r="5.2" fill="#3dba74" stroke="#3dba74"/>
<circle cx="915.8" cy="509.0" r="5.2" fill="#440154" stroke="#440154"/>
<circle cx="634.8" cy="629.8" r="5.2" fill="#26848d" stroke="#26848d"/>
<circle cx="350.3" cy="407.7" r="5.2" fill="#440154" stroke="#440154"/>
<circle cx="998.6" cy="591.2" r="5.2" fill="#450c5e" stroke="#450c5e"/>
<circle cx="783.0" cy="91.3" r="5.2" fill="#440154" stroke="#440154"/>
<circle cx="536.1" cy="474.0" r="5.2" fill="#450c5e" stroke="#450c5e"/>
<circle cx="643.5" cy="594.0" r="5.2" fill="#440154" stroke="#440154"/>
<circle cx="976.4" cy="627.7" r="5.2" fill="#229c88" stroke="#229c88"/>
<circle cx="631.0" cy="512.2" r="5.2" fill="#26848d" stroke="#26848d"/>
<circle cx="690.4" cy="446.3" r="5.2" fill="#450c5e" stroke="#450c5e"/>
<circle cx="877.2" cy="498.3" r="5.2" fill="#229c88" stroke="#229c88"/>
<circle cx="791.1" cy="547.7" r="5.2" fill="#a2d937" stroke="#a2d937"/>
<circle cx="302.3" cy="245.3" r="5.2" fill="#450c5e" stroke="#450c5e"/>
<circle cx="221.1" cy="108.1" r="5.2" fill="#450c5e" stroke="#450c5e"/>
<circle cx="819.1" cy="585.7" r="5.2" fill="#440154" stroke="#440154"/>
<circle cx="638.9" cy="436.1" r="5.2" fill="#440154" stroke="#440154"/>
<circle cx="418.1" cy="766.4" r="5.2" fill="#461668" stroke="#461668"/>
<circle cx="381.3" cy="549.9" r="5.2" fill="#440154" stroke="#440154"/>
<circle cx="544.6" cy="165.2" r="5.2" fill="#450c5e" stroke="#450c5e"/>
<circle cx="908.7" cy="516.5" r="5.2" fill="#26848d" stroke="#26848d"/>
<circle cx="476.3" cy="761.7" r="5.2" fill="#440154" stroke="#440154"/>
<circle cx="319.8" cy="684.0" r="5.2" fill="#440154" stroke="#440154"/>
<circle cx="484.2" cy="425.2" r="5.2" fill="#450c5e" stroke="#450c5e"/>
<circle cx="404.2" cy="710.6" r="5.2" fill="#440154" stroke="#440154"/>
<circle cx="667.3" cy="152.6" r="5.2" fill="#440154" stroke="#440154"/>
<circle cx="713.7" cy="618.7" r="5.2" fill="#229c88" stroke="#229c88"/>
<circle cx="399.0" cy="471.5" r="5.2" fill="#450c5e" stroke="#450c5e"/>
<circle cx="761.6" cy="159.8" r="5.2" fill="#450c5e" stroke="#450c5e"/>
<circle cx="299.4" cy="257.4" r="5.2" fill="#440154" stroke="#440154"/>
<circle cx="339.8" cy="408.1" r="5.2" fill="#440154" stroke="#440154"/>
<circle cx="452.0" cy="733.9" r="5.2" fill="#461668" stroke="#461668"/>
<circle cx="621.9" cy="70.8" r="5.2" fill="#461668" stroke="#461668"/>
<circle cx="222.8" cy="102.0" r="5.2" fill="#440154" stroke="#440154"/>
<circle cx="343.8" cy="521.5" r="5.2" fill="#a2d937" stroke="#a2d937"/>
<circle cx="596.2" cy="824.0" r="5.2" fill="#440154" stroke="#440154"/>
<circle cx="553.2" cy="808.9" r="5.2" fill="#450c5e" stroke="#450c5e"/>
<circle cx="783.6" cy="197.4" r="5.2" fill="#440154" stroke="#440154"/>
<circle cx="230.5" cy="545.5" r="5.2" fill="#440154" stroke="#440154"/>
<circle cx="974.0" cy="526.8" r="5.2" fill="#440154" stroke="#440154"/>
<circle cx="302.1" cy="99.6" r="5.2" fill="#26848d" stroke="#26848d"/>
<circle cx="596.6" cy="768.3" r="5.2" fill="#26848d" stroke="#26848d"/>
<circle cx="409.2" cy="748.6" r="5.2" fill="#440154" stroke="#440154"/>
<circle cx="834.5" cy="691.0" r="5.2" fill="#26848d" stroke="#26848d"/>
<circle cx="298.4" cy="447.7" r="5.2" fill="#440154" stroke="#440154"/>
<circle cx="499.1" cy="784.4" r="5.2" fill="#440154" stroke="#440154"/>
<circle cx="537.3" cy="625.2" r="5.2" fill="#440154" stroke="#440154"/>
<circle cx="944.0" cy="344.0" r="5.2" fill="#eae525" stroke="#eae525"/>
<circle cx="466.3" cy="447.4" r="5.2" fill="#461668" stroke="#461668"/>
<circle cx="521.3" cy="416.3" r="5.2" fill="#440154" stroke="#440154"/>
<circle cx="279.0" cy="458.1" r="5.2" fill="#440154" stroke="#440154"/>
<circle cx="304.2" cy="726.2" r="5.2" fill="#461668" stroke="#461668"/>
<circle cx="723.5" cy="506.0" r="5.2" fill="#3b528a" stroke="#3b528a"/>
<circle cx="497.2" cy="207.6" r="5.2" fill="#229c88" stroke="#229c88"/>
<circle cx="821.1" cy="613.5" r="5.2" fill="#440154" stroke="#440154"/>
<circle cx="615.1" cy="181.2" r="5.2" fill="#461668" stroke="#461668"/>
<circle cx="631.9" cy="519.0" r="5.2" fill="#3b528a" stroke="#3b528a"/>
<circle cx="535.4" cy="78.7" r="5.2" fill="#440154" stroke="#440154"/>
<circle cx="228.9" cy="514.3" r="5.2" fill="#440154" stroke="#440154"/>
<circle cx="288.3" cy="538.7" r="5.2" fill="#461668" stroke="#461668"/>
<circle cx="839.5" cy="659.8" r="5.2" fill="#450c5e" stroke="#450c5e"/>
<circle cx="494.2" cy="757.1" r="5.2" fill="#440154" stroke="#440154"/>
<circle cx="608.2" cy="138.1" r="5.2" fill="#440154" stroke="#440154"/>
<circle cx="655.9" cy="78.6" r="5.2" fill="#461668" stroke="#461668"/>
<circle cx="680.9" cy="125.5" r="5.2" fill="#440154" stroke="#440154"/>
<circle cx="559.3" cy="830.3" r="5.2" fill="#440154" stroke="#440154"/>
<circle cx="474.0" cy="566.1" r="5.2" fill="#461668" stroke="#461668"/>
<circle cx="231.5" cy="118.0" r="5.2" fill="#450c5e" stroke="#450c5e"/>
<circle cx="616.0" cy="476.0" r="5.2" fill="#26848d" stroke="#26848d"/>
<circle cx="731.8" cy="661.6" r="5.2" fill="#440154" stroke="#440154"/>
<circle cx="762.1" cy="644.0" r="5.2" fill="#450c5e" stroke="#450c5e"/>
<circle cx="298.0" cy="663.7" r="5.2" fill="#440154" stroke="#440154"/>
<circle cx="984.9" cy="542.4" r="5.2" fill="#32668d" stroke="#32668d"/>
<circle cx="350.4" cy="697.7" r="5.2" fill="#440154" stroke="#440154"/>
<circle cx="744.4" cy="111.8" r="5.2" fill="#440154" stroke="#440154"/>
<circle cx="529.9" cy="648.8" r="5.2" fill="#461668" stroke="#461668"/>
<circle cx="255.0" cy="532.8" r="5.2" fill="#450c5e" stroke="#450c5e"/>
<circle cx="340.0" cy="721.0" r="5.2" fill="#26848d" stroke="#26848d"/>
<circle cx="418.7" cy="455.9" r="5.2" fill="#440154" stroke="#440154"/>
<circle cx="890.4" cy="580.6" r="5.2" fill="#461668" stroke="#461668"/>
<circle cx="641.5" cy="698.4" r="5.2" fill="#461668" stroke="#461668"/>
<circle cx="545.3" cy="728.0" r="5.2" fill="#440154" stroke="#440154"/>
<circle cx="222.0" cy="671.5" r="5.2" fill="#eae525" stroke="#eae525"/>
<circle cx="837.9" cy="456.1" r="5.2" fill="#440154" stroke="#440154"/>
<circle cx="727.5" cy="530.0" r="5.2" fill="#3dba74" stroke="#3dba74"/>
<circle cx="366.7" cy="393.5" r="5.2" fill="#440154" stroke="#440154"/>
<circle cx="687.7" cy="612.2" r="5.2" fill="#461668" stroke="#461668"/>
<circle cx="551.1" cy="145.2" r="5.2" fill="#440154" stroke="#440154"/>
<circle cx="876.1" cy="480.5" r="5.2" fill="#440154" stroke="#440154"/>
<circle cx="629.5" cy="83.6" r="5.2" fill="#461668" stroke="#461668"/>
<circle cx="929.8" cy="592.8" r="5.2" fill="#450c5e" stroke="#450c5e"/>
<circle cx="658.0" cy="215.8" r="5.2" fill="#440154" stroke="#440154"/>
<circle cx="780.2" cy="150.8" r="5.2" fill="#440154" stroke="#440154"/>
<circle cx="284.5" cy="527.9" r="5.2" fill="#440154" stroke="#440154"/>
<circle cx="851.3" cy="530.5" r="5.2" fill="#440154" stroke="#440154"/>
<circle cx="1026.9" cy="480.1" r="5.2" fill="#440154" stroke="#440154"/>
<circle cx="659.2" cy="258.4" r="5.2" fill="#440154" stroke="#440154"/>
<circle cx="294.6" cy="579.2" r="5.2" fill="#461668" stroke="#461668"/>
<circle cx="373.3" cy="444.7" r="5.2" fill="#450c5e" stroke="#450c5e"/>
<circle cx="537.3" cy="561.8" r="5.2" fill="#440154" stroke="#440154"/>
<circle cx="885.8" cy="253.5" r="5.2" fill="#eae525" stroke="#eae525"/>
<circle cx="471.5" cy="665.8" r="5.2" fill="#440154" stroke="#440154"/>
<circle cx="256.8" cy="569.2" r="5.2" fill="#440154" stroke="#440154"/>
<circle cx="826.6" cy="590.6" r="5.2" fill="#440154" stroke="#440154"/>
<circle cx="960.4" cy="584.6" r="5.2" fill="#3dba74" stroke="#3dba74"/>
<circle cx="386.3" cy="514.0" r="5.2" fill="#440154" stroke="#440154"/>
<circle cx="368.1" cy="462.8" r="5.2" fill="#440154" stroke="#440154"/>
<circle cx="428.6" cy="475.1" r="5.2" fill="#450c5e" stroke="#450c5e"/>
<circle cx="568.5" cy="424.8" r="5.2" fill="#26848d" stroke="#26848d"/>
<circle cx="616.6" cy="694.6" r="5.2" fill="#440154" stroke="#440154"/>
<circle cx="653.7" cy="679.1" r="5.2" fill="#a2d937" stroke="#a2d937"/>
<circle cx="765.0" cy="154.3" r="5.2" fill="#450c5e" stroke="#450c5e"/>
<circle cx="492.4" cy="390.5" r="5.2" fill="#440154" stroke="#440154"/>
<circle cx="633.4" cy="148.9" r="5.2" fill="#440154" stroke="#440154"/>
<circle cx="915.0" cy="312.0" r="5.2" fill="#eae525" stroke="#eae525"/>
<circle cx="927.0" cy="312.0" r="5.2" fill="#eae525" stroke="#eae525"/>
<circle cx="858.2" cy="575.5" r="5.2" fill="#32668d" stroke="#32668d"/>
<circle cx="422.1" cy="689.1" r="5.2" fill="#440154" stroke="#440154"/>
<circle cx="415.0" cy="446.0" r="5.2" fill="#3b528a" stroke="#3b528a"/>
<circle cx="355.0" cy="653.5" r="5.2" fill="#3b528a" stroke="#3b528a"/>
<circle cx="667.7" cy="600.2" r="5.2" fill="#26848d" stroke="#26848d"/>
<circle cx="640.2" cy="608.3" r="5.2" fill="#461668" stroke="#461668"/>
<circle cx="698.4" cy="735.7" r="5.2" fill="#450c5e" stroke="#450c5e"/>
<circle cx="388.3" cy="559.2" r="5.2" fill="#450c5e" stroke="#450c5e"/>
<circle cx="372.6" cy="562.2" r="5.2" fill="#440154" stroke="#440154"/>
<circle cx="965.5" cy="535.3" r="5.2" fill="#450c5e" stroke="#450c5e"/>
<circle cx="328.2" cy="768.9" r="5.2" fill="#440154" stroke="#440154"/>
<circle cx="238.4" cy="504.6" r="5.2" fill="#440154" stroke="#440154"/>
<circle cx="913.9" cy="468.8" r="5.2" fill="#440154" stroke="#440154"/>
<circle cx="486.9" cy="419.5" r="5.2" fill="#440154" stroke="#440154"/>
<circle cx="1002.1" cy="586.7" r="5.2" fill="#450c5e" stroke="#450c5e"/>
<circle cx="928.2" cy="299.8" r="5.2" fill="#a2d937" stroke="#a2d937"/>
<circle cx="639.4" cy="408.1" r="5.2" fill="#440154" stroke="#440154"/>
<circle cx="840.8" cy="644.8" r="5.2" fill="#440154" stroke="#440154"/>
<circle cx="967.0" cy="306.0" r="5.2" fill="#eae525" stroke="#eae525"/>
<circle cx="931.9" cy="590.6" r="5.2" fill="#450c5e" stroke="#450c5e"/>
<circle cx="589.7" cy="540.5" r="5.2" fill="#440154" stroke="#440154"/>
<circle cx="525.8" cy="557.6" r="5.2" fill="#440154" stroke="#440154"/>
<circle cx="472.5" cy="425.3" r="5.2" fill="#461668" stroke="#461668"/>
<circle cx="412.5" cy="401.0" r="5.2" fill="#3b528a" stroke="#3b528a"/>
<circle cx="583.2" cy="691.1" r="5.2" fill="#440154" stroke="#440154"/>
<circle cx="881.6" cy="633.8" r="5.2" fill="#450c5e" stroke="#450c5e"/>
<circle cx="915.4" cy="502.1" r="5.2" fill="#26848d" stroke="#26848d"/>
<circle cx="661.6" cy="553.3" r="5.2" fill="#26848d" stroke="#26848d"/>
<circle cx="298.3" cy="460.3" r="5.2" fill="#440154" stroke="#440154"/>
<circle cx="419.6" cy="518.8" r="5.2" fill="#440154" stroke="#440154"/>
<circle cx="471.5" cy="731.9" r="5.2" fill="#440154" stroke="#440154"/>
<circle cx="452.1" cy="710.3" r="5.2" fill="#440154" stroke="#440154"/>
<circle cx="506.5" cy="637.6" r="5.2" fill="#440154" stroke="#440154"/>
<circle cx="638.5" cy="249.9" r="5.2" fill="#440154" stroke="#440154"/>
<circle cx="550.0" cy="84.2" r="5.2" fill="#440154" stroke="#440154"/>
<circle cx="650.8" cy="145.2" r="5.2" fill="#440154" stroke="#440154"/>
<circle cx="495.7" cy="423.7" r="5.2" fill="#461668" stroke="#461668"/>
<circle cx="846.3" cy="450.2" r="5.2" fill="#440154" stroke="#440154"/>
<circle cx="310.9" cy="518.5" r="5.2" fill="#440154" stroke="#440154"/>
<circle cx="642.0" cy="205.3" r="5.2" fill="#440154" stroke="#440154"/>
<circle cx="968.1" cy="570.6" r="5.2" fill="#6fcd57" stroke="#6fcd57"/>
<circle cx="479.3" cy="754.1" r="5.2" fill="#440154" stroke="#440154"/>
<circle cx="255.6" cy="494.1" r="5.2" fill="#440154" stroke="#440154"/>
<circle cx="391.8" cy="727.3" r="5.2" fill="#440154" stroke="#440154"/>
<circle cx="726.0" cy="487.2" r="5.2" fill="#26848d" stroke="#26848d"/>
<circle cx="781.2" cy="614.1" r="5.2" fill="#440154" stroke="#440154"/>
<circle cx="484.6" cy="764.6" r="5.2" fill="#440154" stroke="#440154"/>
<circle cx="295.0" cy="666.0" r="5.2" fill="#26848d" stroke="#26848d"/>
<circle cx="557.5" cy="659.9" r="5.2" fill="#440154" stroke="#440154"/>
<circle cx="757.0" cy="96.8" r="5.2" fill="#440154" stroke="#440154"/>
<circle cx="240.4" cy="109.2" r="5.2" fill="#440154" stroke="#440154"/>
<circle cx="433.8" cy="663.5" r="5.2" fill="#26848d" stroke="#26848d"/>
<circle cx="587.9" cy="164.4" r="5.2" fill="#450c5e" stroke="#450c5e"/>
<circle cx="425.0" cy="718.5" r="5.2" fill="#3b528a" stroke="#3b528a"/>
<circle cx="375.0" cy="726.1" r="5.2" fill="#440154" stroke="#440154"/>
<circle cx="327.5" cy="722.2" r="5.2" fill="#26848d" stroke="#26848d"/>
<circle cx="229.8" cy="111.9" r="5.2" fill="#461668" stroke="#461668"/>
<circle cx="438.7" cy="770.1" r="5.2" fill="#440154" stroke="#440154"/>
<circle cx="320.0" cy="479.5" r="5.2" fill="#440154" stroke="#440154"/>
<circle cx="644.6" cy="585.9" r="5.2" fill="#32668d" stroke="#32668d"/>
<circle cx="686.9" cy="131.8" r="5.2" fill="#440154" stroke="#440154"/>
<circle cx="559.7" cy="788.3" r="5.2" fill="#440154" stroke="#440154"/>
<circle cx="661.6" cy="176.2" r="5.2" fill="#440154" stroke="#440154"/>
<circle cx="424.8" cy="611.3" r="5.2" fill="#461668" stroke="#461668"/>
<circle cx="244.6" cy="459.4" r="5.2" fill="#450c5e" stroke="#450c5e"/>
<circle cx="852.4" cy="431.9" r="5.2" fill="#440154" stroke="#440154"/>
<circle cx="902.0" cy="276.0" r="5.2" fill="#450c5e" stroke="#450c5e"/>
<circle cx="451.6" cy="228.8" r="5.2" fill="#a2d937" stroke="#a2d937"/>
<circle cx="828.8" cy="491.8" r="5.2" fill="#440154" stroke="#440154"/>
<circle cx="401.6" cy="415.7" r="5.2" fill="#440154" stroke="#440154"/>
<circle cx="470.9" cy="118.3" r="5.2" fill="#440154" stroke="#440154"/>
<circle cx="862.0" cy="637.2" r="5.2" fill="#440154" stroke="#440154"/>
<circle cx="439.6" cy="611.8" r="5.2" fill="#461668" stroke="#461668"/>
<circle cx="694.8" cy="432.0" r="5.2" fill="#440154" stroke="#440154"/>
<circle cx="952.0" cy="618.8" r="5.2" fill="#26848d" stroke="#26848d"/>
<circle cx="340.5" cy="461.0" r="5.2" fill="#440154" stroke="#440154"/>
<circle cx="308.4" cy="99.6" r="5.2" fill="#a2d937" stroke="#a2d937"/>
<circle cx="438.0" cy="765.6" r="5.2" fill="#440154" stroke="#440154"/>
<circle cx="748.3" cy="624.7" r="5.2" fill="#26848d" stroke="#26848d"/>
<circle cx="832.2" cy="115.3" r="5.2" fill="#440154" stroke="#440154"/>
<circle cx="225.8" cy="116.3" r="5.2" fill="#440154" stroke="#440154"/>
<circle cx="279.0" cy="636.7" r="5.2" fill="#450c5e" stroke="#450c5e"/>
<circle cx="611.1" cy="235.9" r="5.2" fill="#440154" stroke="#440154"/>
<circle cx="747.1" cy="132.8" r="5.2" fill="#440154" stroke="#440154"/>
<circle cx="746.6" cy="89.1" r="5.2" fill="#440154" stroke="#440154"/>
<circle cx="352.2" cy="702.5" r="5.2" fill="#440154" stroke="#440154"/>
<circle cx="379.5" cy="728.4" r="5.2" fill="#440154" stroke="#440154"/>
<circle cx="705.5" cy="525.6" r="5.2" fill="#a2d937" stroke="#a2d937"/>
<circle cx="853.2" cy="148.3" r="5.2" fill="#440154" stroke="#440154"/>
<circle cx="663.5" cy="223.6" r="5.2" fill="#450c5e" stroke="#450c5e"/>
<circle cx="659.4" cy="416.3" r="5.2" fill="#440154" stroke="#440154"/>
<circle cx="746.9" cy="145.9" r="5.2" fill="#450c5e" stroke="#450c5e"/>
<circle cx="739.1" cy="517.3" r="5.2" fill="#26848d" stroke="#26848d"/>
<circle cx="753.5" cy="491.0" r="5.2" fill="#3b528a" stroke="#3b528a"/>
<circle cx="767.7" cy="116.0" r="5.2" fill="#450c5e" stroke="#450c5e"/>
<circle cx="590.0" cy="688.9" r="5.2" fill="#440154" stroke="#440154"/>
<circle cx="807.5" cy="706.5" r="5.2" fill="#461668" stroke="#461668"/>
<circle cx="736.2" cy="104.3" r="5.2" fill="#440154" stroke="#440154"/>
<circle cx="734.2" cy="673.1" r="5.2" fill="#440154" stroke="#440154"/>
<circle cx="962.0" cy="559.0" r="5.2" fill="#440154" stroke="#440154"/>
<circle cx="690.9" cy="155.6" r="5.2" fill="#440154" stroke="#440154"/>
<circle cx="496.5" cy="550.5" r="5.2" fill="#440154" stroke="#440154"/>
<circle cx="487.7" cy="143.2" r="5.2" fill="#461668" stroke="#461668"/>
<circle cx="556.6" cy="706.2" r="5.2" fill="#26848d" stroke="#26848d"/>
<circle cx="555.6" cy="627.1" r="5.2" fill="#440154" stroke="#440154"/>
<circle cx="871.7" cy="445.4" r="5.2" fill="#440154" stroke="#440154"/>
<circle cx="533.9" cy="596.3" r="5.2" fill="#440154" stroke="#440154"/>
<circle cx="404.1" cy="769.4" r="5.2" fill="#461668" stroke="#461668"/>
<circle cx="303.7" cy="246.8" r="5.2" fill="#440154" stroke="#440154"/>
<circle cx="582.3" cy="528.7" r="5.2" fill="#229c88" stroke="#229c88"/>
<circle cx="654.2" cy="724.5" r="5.2" fill="#450c5e" stroke="#450c5e"/>
<circle cx="392.5" cy="573.8" r="5.2" fill="#26848d" stroke="#26848d"/>
<circle cx="270.0" cy="453.9" r="5.2" fill="#440154" stroke="#440154"/>
<circle cx="749.7" cy="579.9" r="5.2" fill="#3dba74" stroke="#3dba74"/>
<circle cx="843.0" cy="528.7" r="5.2" fill="#440154" stroke="#440154"/>
<circle cx="765.4" cy="151.2" r="5.2" fill="#440154" stroke="#440154"/>
<circle cx="542.1" cy="749.4" r="5.2" fill="#450c5e" stroke="#450c5e"/>
<circle cx="453.8" cy="241.1" r="5.2" fill="#440154" stroke="#440154"/>
<circle cx="810.8" cy="95.3" r="5.2" fill="#440154" stroke="#440154"/>
<circle cx="1009.2" cy="601.6" r="5.2" fill="#3dba74" stroke="#3dba74"/>
<circle cx="648.2" cy="136.9" r="5.2" fill="#440154" stroke="#440154"/>
<circle cx="593.8" cy="775.3" r="5.2" fill="#26848d" stroke="#26848d"/>
<circle cx="324.3" cy="526.3" r="5.2" fill="#440154" stroke="#440154"/>
<circle cx="596.4" cy="822.1" r="5.2" fill="#461668" stroke="#461668"/>
<circle cx="1018.2" cy="546.7" r="5.2" fill="#440154" stroke="#440154"/>
<circle cx="360.5" cy="479.4" r="5.2" fill="#440154" stroke="#440154"/>
<circle cx="670.1" cy="605.2" r="5.2" fill="#450c5e" stroke="#450c5e"/>
<circle cx="248.4" cy="576.1" r="5.2" fill="#440154" stroke="#440154"/>
<circle cx="830.4" cy="523.5" r="5.2" fill="#440154" stroke="#440154"/>
<circle cx="874.0" cy="525.8" r="5.2" fill="#3b528a" stroke="#3b528a"/>
<circle cx="707.0" cy="730.0" r="5.2" fill="#461668" stroke="#461668"/>
<circle cx="601.0" cy="469.8" r="5.2" fill="#3b528a" stroke="#3b528a"/>
<circle cx="768.8" cy="576.8" r="5.2" fill="#a2d937" stroke="#a2d937"/>
<circle cx="332.9" cy="559.2" r="5.2" fill="#440154" stroke="#440154"/>
<circle cx="410.0" cy="414.8" r="5.2" fill="#26848d" stroke="#26848d"/>
<circle cx="657.1" cy="265.1" r="5.2" fill="#461668" stroke="#461668"/>
<circle cx="447.1" cy="533.3" r="5.2" fill="#450c5e" stroke="#450c5e"/>
<circle cx="760.2" cy="538.6" r="5.2" fill="#26848d" stroke="#26848d"/>
<circle cx="948.2" cy="298.5" r="5.2" fill="#eae525" stroke="#eae525"/>
<circle cx="651.0" cy="496.0" r="5.2" fill="#3dba74" stroke="#3dba74"/>
<circle cx="395.1" cy="722.5" r="5.2" fill="#440154" stroke="#440154"/>
<circle cx="234.1" cy="100.3" r="5.2" fill="#461668" stroke="#461668"/>
<circle cx="928.4" cy="607.4" r="5.2" fill="#26848d" stroke="#26848d"/>
<circle cx="902.5" cy="516.6" r="5.2" fill="#3b528a" stroke="#3b528a"/>
<circle cx="881.2" cy="590.5" r="5.2" fill="#461668" stroke="#461668"/>
<circle cx="435.7" cy="785.3" r="5.2" fill="#440154" stroke="#440154"/>
<circle cx="505.2" cy="722.5" r="5.2" fill="#440154" stroke="#440154"/>
<circle cx="752.4" cy="100.9" r="5.2" fill="#450c5e" stroke="#450c5e"/>
<circle cx="862.0" cy="233.5" r="5.2" fill="#eae525" stroke="#eae525"/>
<circle cx="661.7" cy="696.6" r="5.2" fill="#440154" stroke="#440154"/>
<circle cx="744.0" cy="167.7" r="5.2" fill="#461668" stroke="#461668"/>
<circle cx="789.8" cy="172.4" r="5.2" fill="#440154" stroke="#440154"/>
<circle cx="506.7" cy="701.5" r="5.2" fill="#3dba74" stroke="#3dba74"/>
<circle cx="275.4" cy="101.8" r="5.2" fill="#229c88" stroke="#229c88"/>
<circle cx="630.4" cy="576.0" r="5.2" fill="#440154" stroke="#440154"/>
<circle cx="793.2" cy="98.3" r="5.2" fill="#440154" stroke="#440154"/>
<circle cx="695.8" cy="161.0" r="5.2" fill="#450c5e" stroke="#450c5e"/>
<circle cx="487.2" cy="483.5" r="5.2" fill="#3b528a" stroke="#3b528a"/>
<circle cx="713.5" cy="119.3" r="5.2" fill="#450c5e" stroke="#450c5e"/>
<circle cx="571.0" cy="778.6" r="5.2" fill="#6fcd57" stroke="#6fcd57"/>
<circle cx="608.1" cy="111.6" r="5.2" fill="#461668" stroke="#461668"/>
<circle cx="271.2" cy="650.7" r="5.2" fill="#440154" stroke="#440154"/>
<circle cx="255.9" cy="455.1" r="5.2" fill="#440154" stroke="#440154"/>
<circle cx="676.9" cy="590.3" r="5.2" fill="#3dba74" stroke="#3dba74"/>
<circle cx="811.5" cy="150.2" r="5.2" fill="#450c5e" stroke="#450c5e"/>
<circle cx="878.9" cy="614.2" r="5.2" fill="#450c5e" stroke="#450c5e"/>
<circle cx="777.1" cy="634.0" r="5.2" fill="#440154" stroke="#440154"/>
<circle cx="995.1" cy="562.3" r="5.2" fill="#440154" stroke="#440154"/>
<circle cx="660.3" cy="86.1" r="5.2" fill="#440154" stroke="#440154"/>
<circle cx="783.4" cy="96.5" r="5.2" fill="#440154" stroke="#440154"/>
<circle cx="400.9" cy="770.9" r="5.2" fill="#461668" stroke="#461668"/>
<circle cx="482.1" cy="752.3" r="5.2" fill="#440154" stroke="#440154"/>
<circle cx="526.2" cy="451.9" r="5.2" fill="#440154" stroke="#440154"/>
<circle cx="681.3" cy="142.4" r="5.2" fill="#440154" stroke="#440154"/>
<circle cx="375.2" cy="396.4" r="5.2" fill="#440154" stroke="#440154"/>
<circle cx="749.3" cy="179.8" r="5.2" fill="#440154" stroke="#440154"/>
<circle cx="1017.2" cy="552.4" r="5.2" fill="#461668" stroke="#461668"/>
<circle cx="309.3" cy="466.6" r="5.2" fill="#440154" stroke="#440154"/>
<circle cx="311.2" cy="250.6" r="5.2" fill="#450c5e" stroke="#450c5e"/>
<circle cx="685.3" cy="174.6" r="5.2" fill="#440154" stroke="#440154"/>
<circle cx="805.1" cy="124.3" r="5.2" fill="#440154" stroke="#440154"/>
<circle cx="793.1" cy="555.9" r="5.2" fill="#32668d" stroke="#32668d"/>
<circle cx="372.5" cy="412.9" r="5.2" fill="#461668" stroke="#461668"/>
<circle cx="743.7" cy="140.2" r="5.2" fill="#461668" stroke="#461668"/>
<circle cx="811.7" cy="486.0" r="5.2" fill="#450c5e" stroke="#450c5e"/>
<circle cx="430.0" cy="590.0" r="5.2" fill="#3b528a" stroke="#3b528a"/>
<circle cx="843.9" cy="628.9" r="5.2" fill="#440154" stroke="#440154"/>
<circle cx="745.1" cy="651.5" r="5.2" fill="#6fcd57" stroke="#6fcd57"/>
<circle cx="541.8" cy="568.0" r="5.2" fill="#32668d" stroke="#32668d"/>
<circle cx="840.0" cy="173.4" r="5.2" fill="#440154" stroke="#440154"/>
<circle cx="383.0" cy="695.6" r="5.2" fill="#440154" stroke="#440154"/>
<circle cx="672.5" cy="172.1" r="5.2" fill="#440154" stroke="#440154"/>
<circle cx="849.5" cy="624.5" r="5.2" fill="#440154" stroke="#440154"/>
<circle cx="515.7" cy="723.4" r="5.2" fill="#440154" stroke="#440154"/>
<circle cx="272.4" cy="665.9" r="5.2" fill="#461668" stroke="#461668"/>
<circle cx="502.7" cy="632.4" r="5.2" fill="#440154" stroke="#440154"/>
<circle cx="489.9" cy="522.7" r="5.2" fill="#450c5e" stroke="#450c5e"/>
<circle cx="754.1" cy="129.8" r="5.2" fill="#440154" stroke="#440154"/>
<circle cx="599.8" cy="548.6" r="5.2" fill="#3dba74" stroke="#3dba74"/>
<circle cx="623.5" cy="451.0" r="5.2" fill="#26848d" stroke="#26848d"/>
<circle cx="656.0" cy="512.2" r="5.2" fill="#3b528a" stroke="#3b528a"/>
<circle cx="742.6" cy="146.5" r="5.2" fill="#461668" stroke="#461668"/>
<circle cx="484.7" cy="161.7" r="5.2" fill="#3dba74" stroke="#3dba74"/>
<circle cx="278.6" cy="539.2" r="5.2" fill="#440154" stroke="#440154"/>
<circle cx="853.6" cy="110.2" r="5.2" fill="#440154" stroke="#440154"/>
<circle cx="497.2" cy="383.5" r="5.2" fill="#3b528a" stroke="#3b528a"/>
<circle cx="228.9" cy="118.3" r="5.2" fill="#461668" stroke="#461668"/>
<circle cx="420.0" cy="709.8" r="5.2" fill="#26848d" stroke="#26848d"/>
<circle cx="519.8" cy="392.3" r="5.2" fill="#450c5e" stroke="#450c5e"/>
<circle cx="824.2" cy="526.9" r="5.2" fill="#450c5e" stroke="#450c5e"/>
<circle cx="432.5" cy="426.3" r="5.2" fill="#440154" stroke="#440154"/>
<circle cx="729.0" cy="463.2" r="5.2" fill="#440154" stroke="#440154"/>
<circle cx="884.3" cy="578.3" r="5.2" fill="#450c5e" stroke="#450c5e"/>
<circle cx="824.6" cy="465.9" r="5.2" fill="#26848d" stroke="#26848d"/>
<circle cx="719.9" cy="154.9" r="5.2" fill="#450c5e" stroke="#450c5e"/>
<circle cx="808.5" cy="121.8" r="5.2" fill="#440154" stroke="#440154"/>
<circle cx="351.7" cy="626.4" r="5.2" fill="#461668" stroke="#461668"/>
<circle cx="336.0" cy="540.1" r="5.2" fill="#440154" stroke="#440154"/>
<circle cx="596.0" cy="444.8" r="5.2" fill="#a2d937" stroke="#a2d937"/>
<circle cx="680.2" cy="715.2" r="5.2" fill="#450c5e" stroke="#450c5e"/>
<circle cx="649.6" cy="708.4" r="5.2" fill="#440154" stroke="#440154"/>
<circle cx="565.7" cy="690.0" r="5.2" fill="#440154" stroke="#440154"/>
<circle cx="626.0" cy="502.2" r="5.2" fill="#3b528a" stroke="#3b528a"/>
<circle cx="705.3" cy="731.6" r="5.2" fill="#440154" stroke="#440154"/>
<circle cx="864.7" cy="528.4" r="5.2" fill="#32668d" stroke="#32668d"/>
<circle cx="465.4" cy="418.2" r="5.2" fill="#440154" stroke="#440154"/>
<circle cx="260.6" cy="555.9" r="5.2" fill="#450c5e" stroke="#450c5e"/>
<circle cx="471.2" cy="427.9" r="5.2" fill="#440154" stroke="#440154"/>
<circle cx="249.3" cy="106.1" r="5.2" fill="#450c5e" stroke="#450c5e"/>
<circle cx="447.7" cy="409.7" r="5.2" fill="#461668" stroke="#461668"/>
<circle cx="617.4" cy="156.3" r="5.2" fill="#461668" stroke="#461668"/>
<circle cx="439.3" cy="658.3" r="5.2" fill="#440154" stroke="#440154"/>
<circle cx="250.3" cy="556.4" r="5.2" fill="#440154" stroke="#440154"/>
<circle cx="332.8" cy="411.0" r="5.2" fill="#440154" stroke="#440154"/>
<circle cx="841.3" cy="548.0" r="5.2" fill="#440154" stroke="#440154"/>
<circle cx="438.0" cy="754.4" r="5.2" fill="#450c5e" stroke="#450c5e"/>
<circle cx="373.6" cy="781.6" r="5.2" fill="#440154" stroke="#440154"/>
<circle cx="143.0" cy="386.0" r="5.2" fill="#440154" stroke="#440154"/>
<circle cx="593.7" cy="427.0" r="5.2" fill="#440154" stroke="#440154"/>
<circle cx="711.9" cy="545.0" r="5.2" fill="#440154" stroke="#440154"/>
<circle cx="737.8" cy="176.0" r="5.2" fill="#461668" stroke="#461668"/>
<circle cx="959.5" cy="313.5" r="5.2" fill="#eae525" stroke="#eae525"/>
<circle cx="340.7" cy="407.5" r="5.2" fill="#461668" stroke="#461668"/>
<circle cx="582.1" cy="823.5" r="5.2" fill="#440154" stroke="#440154"/>
<circle cx="544.3" cy="386.3" r="5.2" fill="#440154" stroke="#440154"/>
<circle cx="660.0" cy="55.0" r="5.2" fill="#440154" stroke="#440154"/>
<circle cx="877.0" cy="110.5" r="5.2" fill="#440154" stroke="#440154"/>
<circle cx="676.1" cy="106.5" r="5.2" fill="#440154" stroke="#440154"/>
<circle cx="719.3" cy="136.8" r="5.2" fill="#440154" stroke="#440154"/>
<circle cx="1009.5" cy="509.6" r="5.2" fill="#440154" stroke="#440154"/>
<circle cx="509.8" cy="379.9" r="5.2" fill="#440154" stroke="#440154"/>
<circle cx="1024.7" cy="571.3" r="5.2" fill="#461668" stroke="#461668"/>
<circle cx="576.6" cy="704.2" r="5.2" fill="#461668" stroke="#461668"/>
<circle cx="622.5" cy="781.0" r="5.2" fill="#440154" stroke="#440154"/>
<circle cx="968.8" cy="535.0" r="5.2" fill="#440154" stroke="#440154"/>
<circle cx="368.0" cy="437.4" r="5.2" fill="#450c5e" stroke="#450c5e"/>
<circle cx="867.2" cy="523.2" r="5.2" fill="#3b528a" stroke="#3b528a"/>
<circle cx="581.0" cy="509.8" r="5.2" fill="#a2d937" stroke="#a2d937"/>
<circle cx="856.5" cy="231.5" r="5.2" fill="#26848d" stroke="#26848d"/>
<circle cx="533.1" cy="627.3" r="5.2" fill="#461668" stroke="#461668"/>
<circle cx="764.8" cy="128.3" r="5.2" fill="#461668" stroke="#461668"/>
<circle cx="898.2" cy="318.5" r="5.2" fill="#eae525" stroke="#eae525"/>
<circle cx="544.3" cy="83.8" r="5.2" fill="#440154" stroke="#440154"/>
<circle cx="832.8" cy="598.7" r="5.2" fill="#450c5e" stroke="#450c5e"/>
<circle cx="646.0" cy="507.2" r="5.2" fill="#26848d" stroke="#26848d"/>
<circle cx="465.1" cy="763.7" r="5.2" fill="#440154" stroke="#440154"/>
<circle cx="303.8" cy="740.8" r="5.2" fill="#26848d" stroke="#26848d"/>
<circle cx="403.6" cy="488.7" r="5.2" fill="#461668" stroke="#461668"/>
<circle cx="585.4" cy="711.8" r="5.2" fill="#461668" stroke="#461668"/>
<circle cx="957.0" cy="329.0" r="5.2" fill="#eae525" stroke="#eae525"/>
<circle cx="629.1" cy="170.2" r="5.2" fill="#450c5e" stroke="#450c5e"/>
<circle cx="737.1" cy="603.4" r="5.2" fill="#440154" stroke="#440154"/>
<circle cx="900.8" cy="641.0" r="5.2" fill="#440154" stroke="#440154"/>
<circle cx="542.7" cy="595.8" r="5.2" fill="#440154" stroke="#440154"/>
<circle cx="447.5" cy="570.0" r="5.2" fill="#26848d" stroke="#26848d"/>
<circle cx="353.8" cy="500.5" r="5.2" fill="#3b528a" stroke="#3b528a"/>
<circle cx="772.6" cy="106.3" r="5.2" fill="#461668" stroke="#461668"/>
<circle cx="388.8" cy="580.0" r="5.2" fill="#3b528a" stroke="#3b528a"/>
<circle cx="871.2" cy="111.9" r="5.2" fill="#440154" stroke="#440154"/>
<circle cx="351.6" cy="698.8" r="5.2" fill="#440154" stroke="#440154"/>
<circle cx="533.0" cy="788.3" r="5.2" fill="#440154" stroke="#440154"/>
<circle cx="509.8" cy="504.0" r="5.2" fill="#eae525" stroke="#eae525"/>
<circle cx="279.4" cy="445.3" r="5.2" fill="#440154" stroke="#440154"/>
<circle cx="495.4" cy="688.5" r="5.2" fill="#440154" stroke="#440154"/>
<circle cx="831.7" cy="602.7" r="5.2" fill="#440154" stroke="#440154"/>
<circle cx="505.3" cy="691.2" r="5.2" fill="#440154" stroke="#440154"/>
<circle cx="783.9" cy="535.0" r="5.2" fill="#440154" stroke="#440154"/>
<circle cx="728.0" cy="520.9" r="5.2" fill="#6fcd57" stroke="#6fcd57"/>
<circle cx="302.7" cy="499.4" r="5.2" fill="#450c5e" stroke="#450c5e"/>
<circle cx="842.3" cy="426.0" r="5.2" fill="#440154" stroke="#440154"/>
<circle cx="476.0" cy="566.8" r="5.2" fill="#440154" stroke="#440154"/>
<circle cx="442.5" cy="702.2" r="5.2" fill="#26848d" stroke="#26848d"/>
<circle cx="992.2" cy="502.1" r="5.2" fill="#440154" stroke="#440154"/>
<circle cx="673.4" cy="73.3" r="5.2" fill="#440154" stroke="#440154"/>
<circle cx="590.2" cy="125.2" r="5.2" fill="#440154" stroke="#440154"/>
<circle cx="571.7" cy="148.4" r="5.2" fill="#440154" stroke="#440154"/>
<circle cx="406.5" cy="527.5" r="5.2" fill="#440154" stroke="#440154"/>
<circle cx="439.7" cy="756.7" r="5.2" fill="#440154" stroke="#440154"/>
<circle cx="461.0" cy="452.1" r="5.2" fill="#440154" stroke="#440154"/>
<circle cx="726.6" cy="632.6" r="5.2" fill="#450c5e" stroke="#450c5e"/>
<circle cx="904.5" cy="298.5" r="5.2" fill="#440154" stroke="#440154"/>
<circle cx="356.2" cy="622.8" r="5.2" fill="#440154" stroke="#440154"/>
<circle cx="386.0" cy="517.8" r="5.2" fill="#440154" stroke="#440154"/>
<circle cx="414.2" cy="614.0" r="5.2" fill="#440154" stroke="#440154"/>
<circle cx="812.7" cy="610.9" r="5.2" fill="#229c88" stroke="#229c88"/>
<circle cx="907.0" cy="293.5" r="5.2" fill="#26848d" stroke="#26848d"/>
<circle cx="441.3" cy="588.2" r="5.2" fill="#440154" stroke="#440154"/>
<circle cx="416.2" cy="398.5" r="5.2" fill="#3b528a" stroke="#3b528a"/>
<circle cx="716.4" cy="107.2" r="5.2" fill="#461668" stroke="#461668"/>
<circle cx="704.4" cy="142.1" r="5.2" fill="#440154" stroke="#440154"/>
<circle cx="515.7" cy="611.1" r="5.2" fill="#461668" stroke="#461668"/>
<circle cx="497.3" cy="102.9" r="5.2" fill="#440154" stroke="#440154"/>
<circle cx="554.2" cy="732.4" r="5.2" fill="#440154" stroke="#440154"/>
<circle cx="675.7" cy="219.8" r="5.2" fill="#440154" stroke="#440154"/>
<circle cx="251.0" cy="491.9" r="5.2" fill="#440154" stroke="#440154"/>
<circle cx="298.3" cy="507.0" r="5.2" fill="#440154" stroke="#440154"/>
<circle cx="730.8" cy="649.1" r="5.2" fill="#3dba74" stroke="#3dba74"/>
<circle cx="533.8" cy="644.3" r="5.2" fill="#440154" stroke="#440154"/>
<circle cx="914.9" cy="471.2" r="5.2" fill="#440154" stroke="#440154"/>
<circle cx="616.9" cy="813.8" r="5.2" fill="#450c5e" stroke="#450c5e"/>
<circle cx="856.7" cy="610.8" r="5.2" fill="#461668" stroke="#461668"/>
<circle cx="686.3" cy="524.8" r="5.2" fill="#a2d937" stroke="#a2d937"/>
<circle cx="301.8" cy="483.8" r="5.2" fill="#461668" stroke="#461668"/>
<circle cx="401.7" cy="775.6" r="5.2" fill="#440154" stroke="#440154"/>
<circle cx="758.1" cy="571.7" r="5.2" fill="#229c88" stroke="#229c88"/>
<circle cx="737.9" cy="451.8" r="5.2" fill="#440154" stroke="#440154"/>
<circle cx="548.6" cy="115.9" r="5.2" fill="#440154" stroke="#440154"/>
<circle cx="508.1" cy="770.4" r="5.2" fill="#440154" stroke="#440154"/>
<circle cx="443.7" cy="638.8" r="5.2" fill="#461668" stroke="#461668"/>
<circle cx="564.2" cy="146.4" r="5.2" fill="#450c5e" stroke="#450c5e"/>
<circle cx="622.9" cy="747.4" r="5.2" fill="#440154" stroke="#440154"/>
<circle cx="994.1" cy="481.4" r="5.2" fill="#3b528a" stroke="#3b528a"/>
<circle cx="773.9" cy="98.6" r="5.2" fill="#440154" stroke="#440154"/>
<circle cx="344.5" cy="477.7" r="5.2" fill="#440154" stroke="#440154"/>
<circle cx="253.5" cy="545.5" r="5.2" fill="#461668" stroke="#461668"/>
<circle cx="626.0" cy="452.2" r="5.2" fill="#26848d" stroke="#26848d"/>
<circle cx="762.7" cy="183.4" r="5.2" fill="#440154" stroke="#440154"/>
<circle cx="834.2" cy="618.8" r="5.2" fill="#450c5e" stroke="#450c5e"/>
<circle cx="815.8" cy="699.8" r="5.2" fill="#3b528a" stroke="#3b528a"/>
<circle cx="534.4" cy="121.6" r="5.2" fill="#440154" stroke="#440154"/>
<circle cx="818.0" cy="446.8" r="5.2" fill="#3dba74" stroke="#3dba74"/>
<circle cx="607.4" cy="238.8" r="5.2" fill="#461668" stroke="#461668"/>
<circle cx="471.0" cy="663.5" r="5.2" fill="#440154" stroke="#440154"/>
<circle cx="336.5" cy="390.0" r="5.2" fill="#440154" stroke="#440154"/>
<circle cx="807.9" cy="148.7" r="5.2" fill="#440154" stroke="#440154"/>
<circle cx="676.7" cy="143.8" r="5.2" fill="#461668" stroke="#461668"/>
<circle cx="739.6" cy="512.0" r="5.2" fill="#440154" stroke="#440154"/>
<circle cx="533.6" cy="622.2" r="5.2" fill="#440154" stroke="#440154"/>
<circle cx="526.2" cy="716.1" r="5.2" fill="#440154" stroke="#440154"/>
<circle cx="533.3" cy="607.3" r="5.2" fill="#440154" stroke="#440154"/>
<circle cx="197.5" cy="401.5" r="5.2" fill="#3dba74" stroke="#3dba74"/>
<circle cx="585.8" cy="693.0" r="5.2" fill="#440154" stroke="#440154"/>
<circle cx="904.1" cy="435.7" r="5.2" fill="#440154" stroke="#440154"/>
<circle cx="328.9" cy="102.3" r="5.2" fill="#440154" stroke="#440154"/>
<circle cx="777.6" cy="108.5" r="5.2" fill="#450c5e" stroke="#450c5e"/>
<circle cx="881.9" cy="116.4" r="5.2" fill="#440154" stroke="#440154"/>
<circle cx="781.3" cy="156.6" r="5.2" fill="#440154" stroke="#440154"/>
<circle cx="437.3" cy="527.3" r="5.2" fill="#440154" stroke="#440154"/>
<circle cx="335.0" cy="707.2" r="5.2" fill="#3dba74" stroke="#3dba74"/>
<circle cx="369.9" cy="427.5" r="5.2" fill="#440154" stroke="#440154"/>
<circle cx="316.8" cy="606.4" r="5.2" fill="#461668" stroke="#461668"/>
<circle cx="800.0" cy="457.4" r="5.2" fill="#3dba74" stroke="#3dba74"/>
<circle cx="374.6" cy="432.0" r="5.2" fill="#440154" stroke="#440154"/>
<circle cx="772.2" cy="123.6" r="5.2" fill="#461668" stroke="#461668"/>
<circle cx="532.4" cy="378.1" r="5.2" fill="#450c5e" stroke="#450c5e"/>
<circle cx="591.0" cy="424.8" r="5.2" fill="#3dba74" stroke="#3dba74"/>
<circle cx="598.5" cy="418.5" r="5.2" fill="#3dba74" stroke="#3dba74"/>
<circle cx="329.1" cy="644.1" r="5.2" fill="#440154" stroke="#440154"/>
<circle cx="517.0" cy="392.7" r="5.2" fill="#440154" stroke="#440154"/>
<circle cx="590.4" cy="161.7" r="5.2" fill="#440154" stroke="#440154"/>
<circle cx="834.0" cy="523.0" r="5.2" fill="#440154" stroke="#440154"/>
<circle cx="243.8" cy="102.1" r="5.2" fill="#440154" stroke="#440154"/>
<circle cx="729.5" cy="142.0" r="5.2" fill="#450c5e" stroke="#450c5e"/>
<circle cx="819.5" cy="692.2" r="5.2" fill="#3b528a" stroke="#3b528a"/>
<circle cx="337.9" cy="458.9" r="5.2" fill="#440154" stroke="#440154"/>
<circle cx="789.9" cy="584.6" r="5.2" fill="#3dba74" stroke="#3dba74"/>
<circle cx="590.1" cy="832.7" r="5.2" fill="#440154" stroke="#440154"/>
<circle cx="429.0" cy="499.3" r="5.2" fill="#440154" stroke="#440154"/>
<circle cx="175.8" cy="183.6" r="5.2" fill="#440154" stroke="#440154"/>
<circle cx="1035.2" cy="605.2" r="5.2" fill="#461668" stroke="#461668"/>
<circle cx="562.1" cy="675.9" r="5.2" fill="#3b528a" stroke="#3b528a"/>
<circle cx="666.9" cy="460.4" r="5.2" fill="#440154" stroke="#440154"/>
<circle cx="356.8" cy="670.9" r="5.2" fill="#440154" stroke="#440154"/>
<circle cx="329.9" cy="607.1" r="5.2" fill="#450c5e" stroke="#450c5e"/>
<circle cx="609.8" cy="67.6" r="5.2" fill="#450c5e" stroke="#450c5e"/>
<circle cx="784.4" cy="139.5" r="5.2" fill="#461668" stroke="#461668"/>
<circle cx="659.0" cy="51.0" r="5.2" fill="#440154" stroke="#440154"/>
<circle cx="376.8" cy="389.8" r="5.2" fill="#461668" stroke="#461668"/>
<circle cx="354.0" cy="407.0" r="5.2" fill="#440154" stroke="#440154"/>
<circle cx="620.8" cy="707.1" r="5.2" fill="#3b528a" stroke="#3b528a"/>
<circle cx="820.7" cy="498.0" r="5.2" fill="#461668" stroke="#461668"/>
<circle cx="388.8" cy="644.8" r="5.2" fill="#3dba74" stroke="#3dba74"/>
<circle cx="838.1" cy="561.8" r="5.2" fill="#26848d" stroke="#26848d"/>
<circle cx="955.8" cy="438.5" r="5.2" fill="#229c88" stroke="#229c88"/>
<circle cx="651.7" cy="76.3" r="5.2" fill="#440154" stroke="#440154"/>
<circle cx="912.2" cy="450.2" r="5.2" fill="#440154" stroke="#440154"/>
<circle cx="735.2" cy="130.9" r="5.2" fill="#440154" stroke="#440154"/>
<circle cx="651.6" cy="500.0" r="5.2" fill="#440154" stroke="#440154"/>
<circle cx="990.8" cy="513.8" r="5.2" fill="#450c5e" stroke="#450c5e"/>
<circle cx="473.5" cy="493.5" r="5.2" fill="#3dba74" stroke="#3dba74"/>
<circle cx="702.6" cy="153.7" r="5.2" fill="#440154" stroke="#440154"/>
<circle cx="145.0" cy="385.0" r="5.2" fill="#440154" stroke="#440154"/>
<circle cx="570.9" cy="827.7" r="5.2" fill="#440154" stroke="#440154"/>
<circle cx="280.4" cy="499.7" r="5.2" fill="#440154" stroke="#440154"/>
<circle cx="360.0" cy="511.0" r="5.2" fill="#3dba74" stroke="#3dba74"/>
<circle cx="1004.4" cy="592.1" r="5.2" fill="#32668d" stroke="#32668d"/>
<circle cx="480.8" cy="724.8" r="5.2" fill="#450c5e" stroke="#450c5e"/>
<circle cx="579.8" cy="756.6" r="5.2" fill="#32668d" stroke="#32668d"/>
<circle cx="997.8" cy="544.4" r="5.2" fill="#440154" stroke="#440154"/>
<circle cx="787.0" cy="516.6" r="5.2" fill="#440154" stroke="#440154"/>
<circle cx="697.7" cy="186.9" r="5.2" fill="#440154" stroke="#440154"/>
<circle cx="1014.8" cy="589.9" r="5.2" fill="#3dba74" stroke="#3dba74"/>
<circle cx="357.8" cy="770.5" r="5.2" fill="#440154" stroke="#440154"/>
<circle cx="1006.3" cy="505.1" r="5.2" fill="#461668" stroke="#461668"/>
<circle cx="561.3" cy="630.4" r="5.2" fill="#440154" stroke="#440154"/>
<circle cx="731.1" cy="136.6" r="5.2" fill="#450c5e" stroke="#450c5e"/>
<circle cx="752.1" cy="163.3" r="5.2" fill="#450c5e" stroke="#450c5e"/>
<circle cx="322.5" cy="530.0" r="5.2" fill="#440154" stroke="#440154"/>
<circle cx="410.9" cy="571.2" r="5.2" fill="#450c5e" stroke="#450c5e"/>
<circle cx="656.8" cy="249.6" r="5.2" fill="#461668" stroke="#461668"/>
<circle cx="678.9" cy="70.8" r="5.2" fill="#440154" stroke="#440154"/>
<circle cx="863.2" cy="576.6" r="5.2" fill="#450c5e" stroke="#450c5e"/>
<circle cx="907.7" cy="516.2" r="5.2" fill="#440154" stroke="#440154"/>
<circle cx="802.4" cy="92.6" r="5.2" fill="#440154" stroke="#440154"/>
<circle cx="231.3" cy="544.5" r="5.2" fill="#440154" stroke="#440154"/>
<circle cx="680.3" cy="259.1" r="5.2" fill="#440154" stroke="#440154"/>
<circle cx="954.5" cy="302.2" r="5.2" fill="#440154" stroke="#440154"/>
<circle cx="731.7" cy="551.3" r="5.2" fill="#a2d937" stroke="#a2d937"/>
<circle cx="297.5" cy="694.3" r="5.2" fill="#450c5e" stroke="#450c5e"/>
<circle cx="671.4" cy="118.9" r="5.2" fill="#440154" stroke="#440154"/>
<circle cx="972.0" cy="336.0" r="5.2" fill="#eae525" stroke="#eae525"/>
<circle cx="500.6" cy="684.5" r="5.2" fill="#461668" stroke="#461668"/>
<circle cx="739.4" cy="454.9" r="5.2" fill="#440154" stroke="#440154"/>
<circle cx="535.1" cy="152.2" r="5.2" fill="#440154" stroke="#440154"/>
<circle cx="321.5" cy="695.7" r="5.2" fill="#440154" stroke="#440154"/>
<circle cx="649.0" cy="522.7" r="5.2" fill="#440154" stroke="#440154"/>
<circle cx="880.1" cy="455.5" r="5.2" fill="#440154" stroke="#440154"/>
<circle cx="1006.6" cy="475.7" r="5.2" fill="#3dba74" stroke="#3dba74"/>
<circle cx="722.3" cy="164.8" r="5.2" fill="#440154" stroke="#440154"/>
<circle cx="488.5" cy="703.6" r="5.2" fill="#440154" stroke="#440154"/>
<circle cx="821.4" cy="171.3" r="5.2" fill="#461668" stroke="#461668"/>
<circle cx="517.6" cy="673.5" r="5.2" fill="#461668" stroke="#461668"/>
<circle cx="1015.6" cy="485.4" r="5.2" fill="#461668" stroke="#461668"/>
<circle cx="641.0" cy="502.2" r="5.2" fill="#26848d" stroke="#26848d"/>
<circle cx="304.1" cy="644.8" r="5.2" fill="#440154" stroke="#440154"/>
<circle cx="455.1" cy="760.9" r="5.2" fill="#461668" stroke="#461668"/>
<circle cx="312.0" cy="98.8" r="5.2" fill="#440154" stroke="#440154"/>
<circle cx="365.2" cy="782.5" r="5.2" fill="#461668" stroke="#461668"/>
<circle cx="284.0" cy="700.2" r="5.2" fill="#440154" stroke="#440154"/>
<circle cx="275.4" cy="513.2" r="5.2" fill="#461668" stroke="#461668"/>
<circle cx="366.2" cy="662.2" r="5.2" fill="#3b528a" stroke="#3b528a"/>
<circle cx="398.9" cy="474.2" r="5.2" fill="#440154" stroke="#440154"/>
<circle cx="310.5" cy="237.2" r="5.2" fill="#3b528a" stroke="#3b528a"/>
<circle cx="473.4" cy="560.4" r="5.2" fill="#461668" stroke="#461668"/>
<circle cx="678.2" cy="126.7" r="5.2" fill="#450c5e" stroke="#450c5e"/>
<circle cx="638.3" cy="142.4" r="5.2" fill="#461668" stroke="#461668"/>
<circle cx="321.6" cy="701.6" r="5.2" fill="#440154" stroke="#440154"/>
<circle cx="342.3" cy="572.5" r="5.2" fill="#440154" stroke="#440154"/>
<circle cx="733.6" cy="114.7" r="5.2" fill="#461668" stroke="#461668"/>
<circle cx="584.5" cy="759.8" r="5.2" fill="#440154" stroke="#440154"/>
<circle cx="361.7" cy="385.5" r="5.2" fill="#450c5e" stroke="#450c5e"/>
<circle cx="308.0" cy="490.8" r="5.2" fill="#450c5e" stroke="#450c5e"/>
<circle cx="878.1" cy="623.7" r="5.2" fill="#440154" stroke="#440154"/>
<circle cx="478.4" cy="398.0" r="5.2" fill="#440154" stroke="#440154"/>
<circle cx="397.5" cy="477.8" r="5.2" fill="#440154" stroke="#440154"/>
<circle cx="677.0" cy="253.0" r="5.2" fill="#450c5e" stroke="#450c5e"/>
<circle cx="294.4" cy="251.5" r="5.2" fill="#440154" stroke="#440154"/>
<circle cx="404.7" cy="782.8" r="5.2" fill="#461668" stroke="#461668"/>
<circle cx="769.2" cy="592.1" r="5.2" fill="#26848d" stroke="#26848d"/>
<circle cx="618.4" cy="690.6" r="5.2" fill="#440154" stroke="#440154"/>
<circle cx="277.5" cy="553.6" r="5.2" fill="#440154" stroke="#440154"/>
<circle cx="944.5" cy="316.0" r="5.2" fill="#eae525" stroke="#eae525"/>
<circle cx="932.4" cy="504.5" r="5.2" fill="#a2d937" stroke="#a2d937"/>
<circle cx="487.0" cy="404.7" r="5.2" fill="#440154" stroke="#440154"/>
<circle cx="769.3" cy="570.8" r="5.2" fill="#3dba74" stroke="#3dba74"/>
<circle cx="667.4" cy="141.4" r="5.2" fill="#440154" stroke="#440154"/>
<circle cx="649.7" cy="157.4" r="5.2" fill="#440154" stroke="#440154"/>
<circle cx="535.1" cy="98.0" r="5.2" fill="#440154" stroke="#440154"/>
<circle cx="437.6" cy="470.9" r="5.2" fill="#440154" stroke="#440154"/>
<circle cx="955.0" cy="302.0" r="5.2" fill="#eae525" stroke="#eae525"/>
<circle cx="447.7" cy="564.0" r="5.2" fill="#461668" stroke="#461668"/>
<circle cx="671.5" cy="56.5" r="5.2" fill="#440154" stroke="#440154"/>
<circle cx="794.8" cy="581.9" r="5.2" fill="#26848d" stroke="#26848d"/>
<circle cx="632.3" cy="69.0" r="5.2" fill="#461668" stroke="#461668"/>
<circle cx="646.7" cy="230.3" r="5.2" fill="#450c5e" stroke="#450c5e"/>
<circle cx="619.8" cy="527.1" r="5.2" fill="#229c88" stroke="#229c88"/>
<circle cx="532.2" cy="371.0" r="5.2" fill="#3b528a" stroke="#3b528a"/>
<circle cx="814.5" cy="684.8" r="5.2" fill="#3dba74" stroke="#3dba74"/>
<circle cx="320.0" cy="723.5" r="5.2" fill="#3b528a" stroke="#3b528a"/>
<circle cx="240.1" cy="104.1" r="5.2" fill="#440154" stroke="#440154"/>
<circle cx="661.4" cy="153.3" r="5.2" fill="#440154" stroke="#440154"/>
<circle cx="375.0" cy="719.8" r="5.2" fill="#440154" stroke="#440154"/>
<circle cx="358.4" cy="777.3" r="5.2" fill="#440154" stroke="#440154"/>
<circle cx="574.8" cy="809.7" r="5.2" fill="#440154" stroke="#440154"/>
<circle cx="181.8" cy="183.0" r="5.2" fill="#440154" stroke="#440154"/>
<circle cx="802.2" cy="588.4" r="5.2" fill="#a2d937" stroke="#a2d937"/>
<circle cx="877.4" cy="454.6" r="5.2" fill="#461668" stroke="#461668"/>
<circle cx="1043.8" cy="489.4" r="5.2" fill="#440154" stroke="#440154"/>
<circle cx="371.7" cy="483.3" r="5.2" fill="#440154" stroke="#440154"/>
<circle cx="381.3" cy="460.0" r="5.2" fill="#440154" stroke="#440154"/>
<circle cx="601.9" cy="93.2" r="5.2" fill="#440154" stroke="#440154"/>
<circle cx="364.4" cy="468.3" r="5.2" fill="#440154" stroke="#440154"/>
<circle cx="824.5" cy="677.2" r="5.2" fill="#440154" stroke="#440154"/>
<circle cx="830.8" cy="689.8" r="5.2" fill="#26848d" stroke="#26848d"/>
<circle cx="419.7" cy="546.7" r="5.2" fill="#440154" stroke="#440154"/>
<circle cx="695.1" cy="155.3" r="5.2" fill="#440154" stroke="#440154"/>
<circle cx="420.3" cy="632.1" r="5.2" fill="#450c5e" stroke="#450c5e"/>
<circle cx="1029.0" cy="602.2" r="5.2" fill="#a2d937" stroke="#a2d937"/>
<circle cx="988.3" cy="592.8" r="5.2" fill="#440154" stroke="#440154"/>
<circle cx="634.2" cy="109.5" r="5.2" fill="#440154" stroke="#440154"/>
<circle cx="663.4" cy="674.3" r="5.2" fill="#6fcd57" stroke="#6fcd57"/>
<circle cx="861.4" cy="507.4" r="5.2" fill="#461668" stroke="#461668"/>
<circle cx="717.2" cy="194.8" r="5.2" fill="#32668d" stroke="#32668d"/>
<circle cx="573.3" cy="622.2" r="5.2" fill="#440154" stroke="#440154"/>
<circle cx="861.6" cy="529.3" r="5.2" fill="#440154" stroke="#440154"/>
<circle cx="466.5" cy="721.5" r="5.2" fill="#440154" stroke="#440154"/>
<circle cx="615.2" cy="234.0" r="5.2" fill="#440154" stroke="#440154"/>
<circle cx="940.4" cy="571.5" r="5.2" fill="#450c5e" stroke="#450c5e"/>
<circle cx="630.9" cy="761.9" r="5.2" fill="#450c5e" stroke="#450c5e"/>
<circle cx="993.8" cy="518.0" r="5.2" fill="#440154" stroke="#440154"/>
<circle cx="857.5" cy="108.7" r="5.2" fill="#440154" stroke="#440154"/>
<circle cx="817.0" cy="656.0" r="5.2" fill="#440154" stroke="#440154"/>
<circle cx="668.3" cy="167.6" r="5.2" fill="#440154" stroke="#440154"/>
<circle cx="705.4" cy="168.8" r="5.2" fill="#440154" stroke="#440154"/>
<circle cx="969.5" cy="308.5" r="5.2" fill="#eae525" stroke="#eae525"/>
<circle cx="808.1" cy="181.7" r="5.2" fill="#461668" stroke="#461668"/>
<circle cx="553.4" cy="710.0" r="5.2" fill="#32668d" stroke="#32668d"/>
<circle cx="459.5" cy="566.1" r="5.2" fill="#461668" stroke="#461668"/>
<circle cx="578.7" cy="824.5" r="5.2" fill="#440154" stroke="#440154"/>
<circle cx="861.8" cy="430.5" r="5.2" fill="#450c5e" stroke="#450c5e"/>
<circle cx="692.5" cy="139.1" r="5.2" fill="#440154" stroke="#440154"/>
<circle cx="691.7" cy="254.8" r="5.2" fill="#440154" stroke="#440154"/>
<circle cx="561.3" cy="696.0" r="5.2" fill="#461668" stroke="#461668"/>
<circle cx="443.3" cy="436.5" r="5.2" fill="#440154" stroke="#440154"/>
<circle cx="582.2" cy="698.5" r="5.2" fill="#440154" stroke="#440154"/>
<circle cx="825.8" cy="649.8" r="5.2" fill="#3dba74" stroke="#3dba74"/>
<circle cx="350.1" cy="797.2" r="5.2" fill="#440154" stroke="#440154"/>
<circle cx="995.5" cy="533.7" r="5.2" fill="#461668" stroke="#461668"/>
<circle cx="378.7" cy="471.5" r="5.2" fill="#440154" stroke="#440154"/>
<circle cx="822.5" cy="523.5" r="5.2" fill="#440154" stroke="#440154"/>
<circle cx="426.5" cy="696.5" r="5.2" fill="#440154" stroke="#440154"/>
<circle cx="743.1" cy="437.1" r="5.2" fill="#440154" stroke="#440154"/>
<circle cx="638.6" cy="745.7" r="5.2" fill="#26848d" stroke="#26848d"/>
<circle cx="588.5" cy="404.8" r="5.2" fill="#26848d" stroke="#26848d"/>
<circle cx="863.3" cy="571.6" r="5.2" fill="#461668" stroke="#461668"/>
<circle cx="662.2" cy="574.7" r="5.2" fill="#26848d" stroke="#26848d"/>
<circle cx="344.4" cy="790.5" r="5.2" fill="#440154" stroke="#440154"/>
<circle cx="376.2" cy="499.8" r="5.2" fill="#3dba74" stroke="#3dba74"/>
<circle cx="661.5" cy="435.6" r="5.2" fill="#440154" stroke="#440154"/>
<circle cx="323.8" cy="733.2" r="5.2" fill="#26848d" stroke="#26848d"/>
<circle cx="880.8" cy="251.0" r="5.2" fill="#eae525" stroke="#eae525"/>
<circle cx="609.8" cy="463.5" r="5.2" fill="#26848d" stroke="#26848d"/>
<circle cx="880.4" cy="134.4" r="5.2" fill="#440154" stroke="#440154"/>
<circle cx="798.4" cy="482.9" r="5.2" fill="#440154" stroke="#440154"/>
<circle cx="478.8" cy="222.9" r="5.2" fill="#eae525" stroke="#eae525"/>
<circle cx="306.8" cy="687.3" r="5.2" fill="#440154" stroke="#440154"/>
<circle cx="930.9" cy="561.4" r="5.2" fill="#461668" stroke="#461668"/>
<circle cx="857.8" cy="139.9" r="5.2" fill="#461668" stroke="#461668"/>
<circle cx="700.5" cy="561.3" r="5.2" fill="#440154" stroke="#440154"/>
<circle cx="544.0" cy="793.0" r="5.2" fill="#440154" stroke="#440154"/>
<circle cx="310.9" cy="257.2" r="5.2" fill="#450c5e" stroke="#450c5e"/>
<circle cx="645.6" cy="147.9" r="5.2" fill="#440154" stroke="#440154"/>
<circle cx="633.6" cy="204.3" r="5.2" fill="#440154" stroke="#440154"/>
<circle cx="302.2" cy="616.2" r="5.2" fill="#461668" stroke="#461668"/>
<circle cx="469.8" cy="782.0" r="5.2" fill="#461668" stroke="#461668"/>
<circle cx="313.3" cy="246.2" r="5.2" fill="#440154" stroke="#440154"/>
<circle cx="484.0" cy="212.0" r="5.2" fill="#440154" stroke="#440154"/>
<circle cx="225.4" cy="108.5" r="5.2" fill="#450c5e" stroke="#450c5e"/>
<circle cx="650.0" cy="236.6" r="5.2" fill="#440154" stroke="#440154"/>
<circle cx="501.7" cy="775.6" r="5.2" fill="#450c5e" stroke="#450c5e"/>
<circle cx="776.3" cy="487.9" r="5.2" fill="#440154" stroke="#440154"/>
<circle cx="417.5" cy="491.8" r="5.2" fill="#440154" stroke="#440154"/>
<circle cx="832.0" cy="492.0" r="5.2" fill="#440154" stroke="#440154"/>
<circle cx="296.4" cy="675.0" r="5.2" fill="#440154" stroke="#440154"/>
<circle cx="799.3" cy="623.9" r="5.2" fill="#461668" stroke="#461668"/>
<circle cx="420.3" cy="614.0" r="5.2" fill="#440154" stroke="#440154"/>
<circle cx="784.5" cy="629.9" r="5.2" fill="#440154" stroke="#440154"/>
<circle cx="574.9" cy="724.0" r="5.2" fill="#440154" stroke="#440154"/>
<circle cx="869.9" cy="602.5" r="5.2" fill="#461668" stroke="#461668"/>
<circle cx="702.3" cy="164.4" r="5.2" fill="#450c5e" stroke="#450c5e"/>
<circle cx="407.7" cy="687.6" r="5.2" fill="#450c5e" stroke="#450c5e"/>
<circle cx="733.2" cy="644.8" r="5.2" fill="#3dba74" stroke="#3dba74"/>
<circle cx="474.4" cy="545.5" r="5.2" fill="#461668" stroke="#461668"/>
<circle cx="248.6" cy="106.2" r="5.2" fill="#440154" stroke="#440154"/>
<circle cx="316.2" cy="426.0" r="5.2" fill="#440154" stroke="#440154"/>
<circle cx="373.8" cy="496.0" r="5.2" fill="#3dba74" stroke="#3dba74"/>
<circle cx="302.7" cy="251.4" r="5.2" fill="#440154" stroke="#440154"/>
<circle cx="976.7" cy="612.0" r="5.2" fill="#3dba74" stroke="#3dba74"/>
<circle cx="220.0" cy="672.2" r="5.2" fill="#eae525" stroke="#eae525"/>
<circle cx="408.8" cy="663.5" r="5.2" fill="#26848d" stroke="#26848d"/>
<circle cx="892.3" cy="495.5" r="5.2" fill="#440154" stroke="#440154"/>
<circle cx="869.0" cy="138.5" r="5.2" fill="#450c5e" stroke="#450c5e"/>
<circle cx="846.1" cy="112.5" r="5.2" fill="#440154" stroke="#440154"/>
<circle cx="991.8" cy="553.8" r="5.2" fill="#450c5e" stroke="#450c5e"/>
<circle cx="859.9" cy="587.1" r="5.2" fill="#32668d" stroke="#32668d"/>
<circle cx="806.5" cy="597.1" r="5.2" fill="#3b528a" stroke="#3b528a"/>
<circle cx="226.0" cy="106.1" r="5.2" fill="#461668" stroke="#461668"/>
<circle cx="462.5" cy="490.1" r="5.2" fill="#461668" stroke="#461668"/>
<circle cx="949.2" cy="516.0" r="5.2" fill="#440154" stroke="#440154"/>
<circle cx="644.4" cy="781.5" r="5.2" fill="#440154" stroke="#440154"/>
<circle cx="710.4" cy="145.8" r="5.2" fill="#440154" stroke="#440154"/>
<circle cx="730.0" cy="469.6" r="5.2" fill="#461668" stroke="#461668"/>
<circle cx="480.1" cy="403.5" r="5.2" fill="#450c5e" stroke="#450c5e"/>
<circle cx="397.7" cy="504.0" r="5.2" fill="#440154" stroke="#440154"/>
<circle cx="485.7" cy="723.8" r="5.2" fill="#440154" stroke="#440154"/>
<circle cx="763.3" cy="81.5" r="5.2" fill="#450c5e" stroke="#450c5e"/>
<circle cx="627.8" cy="144.2" r="5.2" fill="#450c5e" stroke="#450c5e"/>
<circle cx="478.4" cy="718.4" r="5.2" fill="#440154" stroke="#440154"/>
<circle cx="636.6" cy="589.0" r="5.2" fill="#440154" stroke="#440154"/>
<circle cx="584.3" cy="772.6" r="5.2" fill="#450c5e" stroke="#450c5e"/>
<circle cx="825.3" cy="440.5" r="5.2" fill="#450c5e" stroke="#450c5e"/>
<circle cx="701.8" cy="523.3" r="5.2" fill="#229c88" stroke="#229c88"/>
<circle cx="887.1" cy="505.1" r="5.2" fill="#26848d" stroke="#26848d"/>
<circle cx="300.5" cy="452.7" r="5.2" fill="#440154" stroke="#440154"/>
<circle cx="728.0" cy="511.5" r="5.2" fill="#450c5e" stroke="#450c5e"/>
<circle cx="706.5" cy="87.4" r="5.2" fill="#440154" stroke="#440154"/>
<circle cx="854.5" cy="677.2" r="5.2" fill="#3b528a" stroke="#3b528a"/>
<circle cx="675.6" cy="742.6" r="5.2" fill="#440154" stroke="#440154"/>
<circle cx="517.2" cy="513.5" r="5.2" fill="#26848d" stroke="#26848d"/>
<circle cx="432.5" cy="577.5" r="5.2" fill="#3dba74" stroke="#3dba74"/>
<circle cx="573.3" cy="832.0" r="5.2" fill="#440154" stroke="#440154"/>
<circle cx="804.5" cy="173.9" r="5.2" fill="#440154" stroke="#440154"/>
<circle cx="244.4" cy="103.6" r="5.2" fill="#440154" stroke="#440154"/>
<circle cx="566.0" cy="426.0" r="5.2" fill="#26848d" stroke="#26848d"/>
<circle cx="426.9" cy="657.8" r="5.2" fill="#461668" stroke="#461668"/>
<circle cx="262.6" cy="690.5" r="5.2" fill="#440154" stroke="#440154"/>
<circle cx="1038.5" cy="514.8" r="5.2" fill="#450c5e" stroke="#450c5e"/>
<circle cx="636.3" cy="108.7" r="5.2" fill="#440154" stroke="#440154"/>
<circle cx="690.1" cy="74.9" r="5.2" fill="#461668" stroke="#461668"/>
<circle cx="316.2" cy="534.9" r="5.2" fill="#440154" stroke="#440154"/>
<circle cx="370.2" cy="619.4" r="5.2" fill="#440154" stroke="#440154"/>
<circle cx="613.2" cy="79.3" r="5.2" fill="#440154" stroke="#440154"/>
<circle cx="451.2" cy="664.7" r="5.2" fill="#440154" stroke="#440154"/>
<circle cx="806.1" cy="118.9" r="5.2" fill="#461668" stroke="#461668"/>
<circle cx="1023.6" cy="562.8" r="5.2" fill="#440154" stroke="#440154"/>
<circle cx="420.2" cy="482.9" r="5.2" fill="#440154" stroke="#440154"/>
<circle cx="929.5" cy="276.0" r="5.2" fill="#229c88" stroke="#229c88"/>
<circle cx="600.6" cy="170.3" r="5.2" fill="#440154" stroke="#440154"/>
<circle cx="648.6" cy="686.6" r="5.2" fill="#440154" stroke="#440154"/>
<circle cx="215.0" cy="673.5" r="5.2" fill="#3b528a" stroke="#3b528a"/>
<circle cx="259.6" cy="468.8" r="5.2" fill="#440154" stroke="#440154"/>
<circle cx="870.0" cy="509.3" r="5.2" fill="#a2d937" stroke="#a2d937"/>
<circle cx="179.0" cy="185.4" r="5.2" fill="#450c5e" stroke="#450c5e"/>
<circle cx="742.2" cy="109.1" r="5.2" fill="#440154" stroke="#440154"/>
<circle cx="921.5" cy="612.3" r="5.2" fill="#461668" stroke="#461668"/>
<circle cx="825.8" cy="674.8" r="5.2" fill="#3b528a" stroke="#3b528a"/>
<circle cx="562.4" cy="746.9" r="5.2" fill="#440154" stroke="#440154"/>
<circle cx="922.0" cy="322.2" r="5.2" fill="#eae525" stroke="#eae525"/>
<circle cx="367.5" cy="713.5" r="5.2" fill="#3b528a" stroke="#3b528a"/>
<circle cx="672.2" cy="461.0" r="5.2" fill="#26848d" stroke="#26848d"/>
<circle cx="561.8" cy="663.7" r="5.2" fill="#440154" stroke="#440154"/>
<circle cx="1021.7" cy="562.5" r="5.2" fill="#450c5e" stroke="#450c5e"/>
<circle cx="940.0" cy="307.0" r="5.2" fill="#eae525" stroke="#eae525"/>
<circle cx="384.2" cy="431.0" r="5.2" fill="#450c5e" stroke="#450c5e"/>
<circle cx="664.7" cy="672.2" r="5.2" fill="#26848d" stroke="#26848d"/>
<circle cx="173.9" cy="186.2" r="5.2" fill="#440154" stroke="#440154"/>
<circle cx="367.5" cy="598.8" r="5.2" fill="#3b528a" stroke="#3b528a"/>
<circle cx="844.3" cy="139.0" r="5.2" fill="#450c5e" stroke="#450c5e"/>
<circle cx="854.5" cy="671.0" r="5.2" fill="#3b528a" stroke="#3b528a"/>
<circle cx="320.0" cy="101.4" r="5.2" fill="#440154" stroke="#440154"/>
<circle cx="826.9" cy="584.5" r="5.2" fill="#440154" stroke="#440154"/>
<circle cx="912.0" cy="339.8" r="5.2" fill="#eae525" stroke="#eae525"/>
<circle cx="402.5" cy="759.6" r="5.2" fill="#450c5e" stroke="#450c5e"/>
<circle cx="597.1" cy="189.0" r="5.2" fill="#461668" stroke="#461668"/>
<circle cx="962.0" cy="423.5" r="5.2" fill="#eae525" stroke="#eae525"/>
<circle cx="711.1" cy="509.4" r="5.2" fill="#461668" stroke="#461668"/>
<circle cx="886.2" cy="434.8" r="5.2" fill="#440154" stroke="#440154"/>
<circle cx="935.8" cy="343.5" r="5.2" fill="#eae525" stroke="#eae525"/>
<circle cx="930.0" cy="575.4" r="5.2" fill="#440154" stroke="#440154"/>
<circle cx="378.4" cy="753.0" r="5.2" fill="#440154" stroke="#440154"/>
<circle cx="816.2" cy="545.2" r="5.2" fill="#450c5e" stroke="#450c5e"/>
<circle cx="697.6" cy="130.7" r="5.2" fill="#450c5e" stroke="#450c5e"/>
<circle cx="416.7" cy="759.6" r="5.2" fill="#440154" stroke="#440154"/>
<circle cx="924.5" cy="329.8" r="5.2" fill="#eae525" stroke="#eae525"/>
<circle cx="804.9" cy="193.2" r="5.2" fill="#440154" stroke="#440154"/>
<circle cx="935.8" cy="282.2" r="5.2" fill="#440154" stroke="#440154"/>
<circle cx="385.1" cy="682.2" r="5.2" fill="#440154" stroke="#440154"/>
<circle cx="657.6" cy="171.1" r="5.2" fill="#440154" stroke="#440154"/>
<circle cx="615.2" cy="165.5" r="5.2" fill="#440154" stroke="#440154"/>
<circle cx="614.2" cy="765.9" r="5.2" fill="#440154" stroke="#440154"/>
<circle cx="713.5" cy="477.2" r="5.2" fill="#3dba74" stroke="#3dba74"/>
<circle cx="387.6" cy="407.2" r="5.2" fill="#461668" stroke="#461668"/>
<circle cx="386.3" cy="711.1" r="5.2" fill="#440154" stroke="#440154"/>
<circle cx="375.9" cy="672.0" r="5.2" fill="#461668" stroke="#461668"/>
<circle cx="944.3" cy="579.0" r="5.2" fill="#440154" stroke="#440154"/>
<circle cx="910.3" cy="467.9" r="5.2" fill="#440154" stroke="#440154"/>
<circle cx="245.9" cy="101.8" r="5.2" fill="#440154" stroke="#440154"/>
<circle cx="849.5" cy="644.8" r="5.2" fill="#440154" stroke="#440154"/>
<circle cx="393.3" cy="693.9" r="5.2" fill="#461668" stroke="#461668"/>
<circle cx="370.1" cy="408.9" r="5.2" fill="#440154" stroke="#440154"/>
<circle cx="797.0" cy="639.8" r="5.2" fill="#440154" stroke="#440154"/>
<circle cx="717.5" cy="144.6" r="5.2" fill="#440154" stroke="#440154"/>
<circle cx="935.8" cy="366.0" r="5.2" fill="#eae525" stroke="#eae525"/>
<circle cx="753.2" cy="529.2" r="5.2" fill="#3b528a" stroke="#3b528a"/>
<circle cx="840.4" cy="454.7" r="5.2" fill="#440154" stroke="#440154"/>
<circle cx="908.2" cy="303.5" r="5.2" fill="#eae525" stroke="#eae525"/>
<circle cx="615.8" cy="195.3" r="5.2" fill="#440154" stroke="#440154"/>
<circle cx="250.4" cy="524.3" r="5.2" fill="#461668" stroke="#461668"/>
<circle cx="797.5" cy="122.9" r="5.2" fill="#461668" stroke="#461668"/>
<circle cx="721.0" cy="461.0" r="5.2" fill="#26848d" stroke="#26848d"/>
<circle cx="767.6" cy="494.1" r="5.2" fill="#440154" stroke="#440154"/>
<circle cx="1005.5" cy="509.2" r="5.2" fill="#461668" stroke="#461668"/>
<circle cx="668.2" cy="749.4" r="5.2" fill="#440154" stroke="#440154"/>
<circle cx="590.0" cy="755.3" r="5.2" fill="#450c5e" stroke="#450c5e"/>
<circle cx="497.4" cy="413.6" r="5.2" fill="#440154" stroke="#440154"/>
<circle cx="246.2" cy="567.9" r="5.2" fill="#440154" stroke="#440154"/>
<circle cx="303.6" cy="437.7" r="5.2" fill="#440154" stroke="#440154"/>
<circle cx="429.0" cy="571.4" r="5.2" fill="#440154" stroke="#440154"/>
<circle cx="307.7" cy="245.4" r="5.2" fill="#440154" stroke="#440154"/>
<circle cx="913.7" cy="517.2" r="5.2" fill="#440154" stroke="#440154"/>
<circle cx="825.1" cy="134.2" r="5.2" fill="#440154" stroke="#440154"/>
<circle cx="243.7" cy="109.2" r="5.2" fill="#450c5e" stroke="#450c5e"/>
<circle cx="341.8" cy="762.2" r="5.2" fill="#450c5e" stroke="#450c5e"/>
<circle cx="554.8" cy="513.5" r="5.2" fill="#3dba74" stroke="#3dba74"/>
<circle cx="660.3" cy="426.2" r="5.2" fill="#440154" stroke="#440154"/>
<circle cx="371.0" cy="692.7" r="5.2" fill="#440154" stroke="#440154"/>
<circle cx="531.4" cy="666.8" r="5.2" fill="#3b528a" stroke="#3b528a"/>
<circle cx="879.4" cy="502.0" r="5.2" fill="#3dba74" stroke="#3dba74"/>
<circle cx="287.0" cy="462.2" r="5.2" fill="#229c88" stroke="#229c88"/>
<circle cx="528.0" cy="106.9" r="5.2" fill="#440154" stroke="#440154"/>
<circle cx="335.0" cy="513.5" r="5.2" fill="#26848d" stroke="#26848d"/>
<circle cx="420.7" cy="773.9" r="5.2" fill="#461668" stroke="#461668"/>
<circle cx="622.9" cy="712.8" r="5.2" fill="#440154" stroke="#440154"/>
<circle cx="637.4" cy="199.4" r="5.2" fill="#440154" stroke="#440154"/>
<circle cx="669.2" cy="258.9" r="5.2" fill="#440154" stroke="#440154"/>
<circle cx="714.0" cy="194.3" r="5.2" fill="#450c5e" stroke="#450c5e"/>
<circle cx="636.8" cy="564.9" r="5.2" fill="#440154" stroke="#440154"/>
<circle cx="683.0" cy="735.3" r="5.2" fill="#440154" stroke="#440154"/>
<circle cx="637.4" cy="581.5" r="5.2" fill="#440154" stroke="#440154"/>
<circle cx="765.5" cy="649.9" r="5.2" fill="#440154" stroke="#440154"/>
<circle cx="516.3" cy="482.4" r="5.2" fill="#450c5e" stroke="#450c5e"/>
<circle cx="515.0" cy="486.0" r="5.2" fill="#450c5e" stroke="#450c5e"/>
<circle cx="601.6" cy="96.0" r="5.2" fill="#450c5e" stroke="#450c5e"/>
<circle cx="555.6" cy="114.8" r="5.2" fill="#440154" stroke="#440154"/>
<circle cx="795.4" cy="197.1" r="5.2" fill="#461668" stroke="#461668"/>
<circle cx="515.0" cy="577.4" r="5.2" fill="#229c88" stroke="#229c88"/>
<circle cx="237.7" cy="524.1" r="5.2" fill="#450c5e" stroke="#450c5e"/>
<circle cx="223.2" cy="103.3" r="5.2" fill="#440154" stroke="#440154"/>
<circle cx="299.6" cy="557.2" r="5.2" fill="#440154" stroke="#440154"/>
<circle cx="698.9" cy="177.0" r="5.2" fill="#440154" stroke="#440154"/>
<circle cx="661.0" cy="113.7" r="5.2" fill="#440154" stroke="#440154"/>
<circle cx="665.4" cy="759.7" r="5.2" fill="#461668" stroke="#461668"/>
<circle cx="321.1" cy="420.1" r="5.2" fill="#450c5e" stroke="#450c5e"/>
<circle cx="854.0" cy="126.2" r="5.2" fill="#440154" stroke="#440154"/>
<circle cx="370.9" cy="415.2" r="5.2" fill="#440154" stroke="#440154"/>
<circle cx="334.4" cy="526.4" r="5.2" fill="#440154" stroke="#440154"/>
<circle cx="594.8" cy="426.0" r="5.2" fill="#26848d" stroke="#26848d"/>
<circle cx="444.5" cy="574.4" r="5.2" fill="#440154" stroke="#440154"/>
<circle cx="749.3" cy="635.7" r="5.2" fill="#440154" stroke="#440154"/>
<circle cx="714.8" cy="75.8" r="5.2" fill="#440154" stroke="#440154"/>
<circle cx="974.5" cy="513.4" r="5.2" fill="#461668" stroke="#461668"/>
<circle cx="402.5" cy="739.5" r="5.2" fill="#3b528a" stroke="#3b528a"/>
<circle cx="811.0" cy="127.6" r="5.2" fill="#440154" stroke="#440154"/>
<circle cx="340.0" cy="744.0" r="5.2" fill="#440154" stroke="#440154"/>
<circle cx="624.6" cy="110.8" r="5.2" fill="#440154" stroke="#440154"/>
<circle cx="268.8" cy="521.5" r="5.2" fill="#3b528a" stroke="#3b528a"/>
<circle cx="491.8" cy="670.4" r="5.2" fill="#6fcd57" stroke="#6fcd57"/>
<circle cx="711.9" cy="155.0" r="5.2" fill="#440154" stroke="#440154"/>
<circle cx="746.7" cy="599.9" r="5.2" fill="#440154" stroke="#440154"/>
<circle cx="872.0" cy="124.8" r="5.2" fill="#440154" stroke="#440154"/>
<circle cx="863.8" cy="119.4" r="5.2" fill="#450c5e" stroke="#450c5e"/>
<circle cx="609.0" cy="126.5" r="5.2" fill="#440154" stroke="#440154"/>
<circle cx="548.7" cy="631.8" r="5.2" fill="#32668d" stroke="#32668d"/>
<circle cx="554.4" cy="129.3" r="5.2" fill="#440154" stroke="#440154"/>
<circle cx="698.4" cy="168.9" r="5.2" fill="#440154" stroke="#440154"/>
<circle cx="818.2" cy="697.2" r="5.2" fill="#3b528a" stroke="#3b528a"/>
<circle cx="313.5" cy="439.2" r="5.2" fill="#440154" stroke="#440154"/>
<circle cx="764.7" cy="95.5" r="5.2" fill="#440154" stroke="#440154"/>
<circle cx="644.9" cy="736.2" r="5.2" fill="#3b528a" stroke="#3b528a"/>
<circle cx="708.6" cy="538.1" r="5.2" fill="#229c88" stroke="#229c88"/>
<circle cx="693.3" cy="198.4" r="5.2" fill="#450c5e" stroke="#450c5e"/>
<circle cx="682.0" cy="451.1" r="5.2" fill="#440154" stroke="#440154"/>
<circle cx="663.2" cy="186.3" r="5.2" fill="#440154" stroke="#440154"/>
<circle cx="599.8" cy="801.1" r="5.2" fill="#440154" stroke="#440154"/>
<circle cx="798.0" cy="629.5" r="5.2" fill="#461668" stroke="#461668"/>
<circle cx="767.0" cy="588.2" r="5.2" fill="#450c5e" stroke="#450c5e"/>
<circle cx="241.0" cy="101.2" r="5.2" fill="#440154" stroke="#440154"/>
<circle cx="636.0" cy="461.0" r="5.2" fill="#a2d937" stroke="#a2d937"/>
<circle cx="457.0" cy="758.6" r="5.2" fill="#440154" stroke="#440154"/>
<circle cx="500.7" cy="744.8" r="5.2" fill="#461668" stroke="#461668"/>
<circle cx="554.2" cy="799.5" r="5.2" fill="#440154" stroke="#440154"/>
<circle cx="874.2" cy="145.9" r="5.2" fill="#440154" stroke="#440154"/>
<circle cx="650.0" cy="261.2" r="5.2" fill="#440154" stroke="#440154"/>
<circle cx="635.1" cy="228.0" r="5.2" fill="#440154" stroke="#440154"/>
<circle cx="326.2" cy="647.9" r="5.2" fill="#450c5e" stroke="#450c5e"/>
<circle cx="770.6" cy="163.3" r="5.2" fill="#461668" stroke="#461668"/>
<circle cx="683.4" cy="575.5" r="5.2" fill="#32668d" stroke="#32668d"/>
<circle cx="455.3" cy="793.0" r="5.2" fill="#440154" stroke="#440154"/>
<circle cx="349.8" cy="689.1" r="5.2" fill="#440154" stroke="#440154"/>
<circle cx="655.8" cy="123.0" r="5.2" fill="#440154" stroke="#440154"/>
<circle cx="627.8" cy="132.5" r="5.2" fill="#440154" stroke="#440154"/>
<circle cx="744.1" cy="493.3" r="5.2" fill="#440154" stroke="#440154"/>
<circle cx="411.6" cy="632.0" r="5.2" fill="#450c5e" stroke="#450c5e"/>
<circle cx="331.3" cy="666.7" r="5.2" fill="#450c5e" stroke="#450c5e"/>
<circle cx="417.5" cy="611.8" r="5.2" fill="#440154" stroke="#440154"/>
<circle cx="878.9" cy="497.3" r="5.2" fill="#a2d937" stroke="#a2d937"/>
<circle cx="393.2" cy="471.0" r="5.2" fill="#3b528a" stroke="#3b528a"/>
<circle cx="337.6" cy="679.6" r="5.2" fill="#440154" stroke="#440154"/>
<circle cx="822.5" cy="502.4" r="5.2" fill="#440154" stroke="#440154"/>
<circle cx="730.5" cy="121.5" r="5.2" fill="#440154" stroke="#440154"/>
<circle cx="544.9" cy="677.1" r="5.2" fill="#440154" stroke="#440154"/>
<circle cx="622.0" cy="766.9" r="5.2" fill="#440154" stroke="#440154"/>
<circle cx="617.4" cy="151.7" r="5.2" fill="#440154" stroke="#440154"/>
<circle cx="536.2" cy="108.5" r="5.2" fill="#450c5e" stroke="#450c5e"/>
<circle cx="920.8" cy="283.0" r="5.2" fill="#440154" stroke="#440154"/>
<circle cx="580.7" cy="818.7" r="5.2" fill="#440154" stroke="#440154"/>
<circle cx="1024.5" cy="478.9" r="5.2" fill="#440154" stroke="#440154"/>
<circle cx="435.9" cy="401.7" r="5.2" fill="#440154" stroke="#440154"/>
<circle cx="328.8" cy="742.0" r="5.2" fill="#3b528a" stroke="#3b528a"/>
<circle cx="352.5" cy="511.5" r="5.2" fill="#3b528a" stroke="#3b528a"/>
<circle cx="452.9" cy="543.8" r="5.2" fill="#440154" stroke="#440154"/>
<circle cx="771.3" cy="115.8" r="5.2" fill="#440154" stroke="#440154"/>
<circle cx="695.5" cy="167.3" r="5.2" fill="#440154" stroke="#440154"/>
<circle cx="779.1" cy="103.0" r="5.2" fill="#461668" stroke="#461668"/>
<circle cx="363.8" cy="570.6" r="5.2" fill="#450c5e" stroke="#450c5e"/>
<circle cx="235.2" cy="108.4" r="5.2" fill="#440154" stroke="#440154"/>
<circle cx="234.6" cy="118.1" r="5.2" fill="#450c5e" stroke="#450c5e"/>
<circle cx="342.8" cy="796.6" r="5.2" fill="#461668" stroke="#461668"/>
<circle cx="261.9" cy="455.6" r="5.2" fill="#440154" stroke="#440154"/>
<circle cx="602.8" cy="776.4" r="5.2" fill="#26848d" stroke="#26848d"/>
<circle cx="654.1" cy="582.4" r="5.2" fill="#3b528a" stroke="#3b528a"/>
<circle cx="667.8" cy="441.7" r="5.2" fill="#440154" stroke="#440154"/>
<circle cx="783.7" cy="140.0" r="5.2" fill="#440154" stroke="#440154"/>
<circle cx="415.4" cy="711.7" r="5.2" fill="#440154" stroke="#440154"/>
<circle cx="909.8" cy="549.9" r="5.2" fill="#440154" stroke="#440154"/>
<circle cx="317.1" cy="551.6" r="5.2" fill="#440154" stroke="#440154"/>
<circle cx="568.7" cy="68.9" r="5.2" fill="#440154" stroke="#440154"/>
<circle cx="587.1" cy="125.1" r="5.2" fill="#461668" stroke="#461668"/>
<circle cx="409.8" cy="502.4" r="5.2" fill="#440154" stroke="#440154"/>
<circle cx="957.0" cy="316.0" r="5.2" fill="#eae525" stroke="#eae525"/>
<circle cx="758.5" cy="718.0" r="5.2" fill="#440154" stroke="#440154"/>
<circle cx="922.3" cy="482.4" r="5.2" fill="#450c5e" stroke="#450c5e"/>
<circle cx="429.7" cy="239.0" r="5.2" fill="#440154" stroke="#440154"/>
<circle cx="573.2" cy="633.8" r="5.2" fill="#450c5e" stroke="#450c5e"/>
<circle cx="606.7" cy="128.7" r="5.2" fill="#440154" stroke="#440154"/>
<circle cx="435.2" cy="470.3" r="5.2" fill="#450c5e" stroke="#450c5e"/>
<circle cx="856.6" cy="602.2" r="5.2" fill="#440154" stroke="#440154"/>
<circle cx="690.7" cy="199.3" r="5.2" fill="#461668" stroke="#461668"/>
<circle cx="348.6" cy="581.4" r="5.2" fill="#461668" stroke="#461668"/>
<circle cx="294.0" cy="581.3" r="5.2" fill="#440154" stroke="#440154"/>
<circle cx="722.0" cy="165.6" r="5.2" fill="#440154" stroke="#440154"/>
<circle cx="858.7" cy="451.2" r="5.2" fill="#440154" stroke="#440154"/>
<circle cx="247.0" cy="505.2" r="5.2" fill="#450c5e" stroke="#450c5e"/>
<circle cx="742.0" cy="83.3" r="5.2" fill="#440154" stroke="#440154"/>
<circle cx="647.3" cy="536.8" r="5.2" fill="#32668d" stroke="#32668d"/>
<circle cx="948.0" cy="559.2" r="5.2" fill="#a2d937" stroke="#a2d937"/>
<circle cx="802.0" cy="411.0" r="5.2" fill="#450c5e" stroke="#450c5e"/>
</g>
<g stroke="#000" stroke-width="2.5" fill="none" stroke-linecap="butt">
<path d="M92.4 11.5 V880.7"/>
<path d="M91.1 879.4 H1092.6"/>
<path d="M85.8 215 H92.4 M85.8 465.8 H92.4 M85.8 717 H92.4"/>
<path d="M230 879.4 V886 M416.3 879.4 V886 M602.5 879.4 V886 M788.7 879.4 V886 M974.9 879.4 V886"/>
</g>
<g font-family="Liberation Sans, sans-serif" font-size="22" fill="#000">
<text x="79" y="223" text-anchor="end">20</text>
<text x="79" y="473.8" text-anchor="end">0</text>
<text x="79" y="725" text-anchor="end">-20</text>
<text x="230" y="909" text-anchor="middle">-20</text>
<text x="416.3" y="909" text-anchor="middle">-10</text>
<text x="602.5" y="909" text-anchor="middle">0</text>
<text x="788.7" y="909" text-anchor="middle">10</text>
<text x="974.9" y="909" text-anchor="middle">20</text>
<text x="1160.5" y="438">0.75</text>
<text x="1160.5" y="474.8">0.50</text>
<text x="1160.5" y="510.8">0.25</text>
</g>
<g font-family="Liberation Sans, sans-serif" font-size="26.7" fill="#000">
<text x="589" y="941" text-anchor="middle">TSNE 1</text>
<text transform="translate(33,446.5) rotate(-90)" text-anchor="middle">TSNE 2</text>
<text x="1118.5" y="377">scDblFinder.score</text>
</g>
<rect x="1118" y="393.2" width="29" height="145.7" fill="url(#vg)"/>
<g stroke="#fff" stroke-width="1.2">
<path d="M1118 429.4 h5.6 M1141.4 429.4 h5.6 M1118 466 h5.6 M1141.4 466 h5.6 M1118 502.2 h5.6 M1141.4 502.2 h5.6"/>
</g>
</svg>
</body></html>
